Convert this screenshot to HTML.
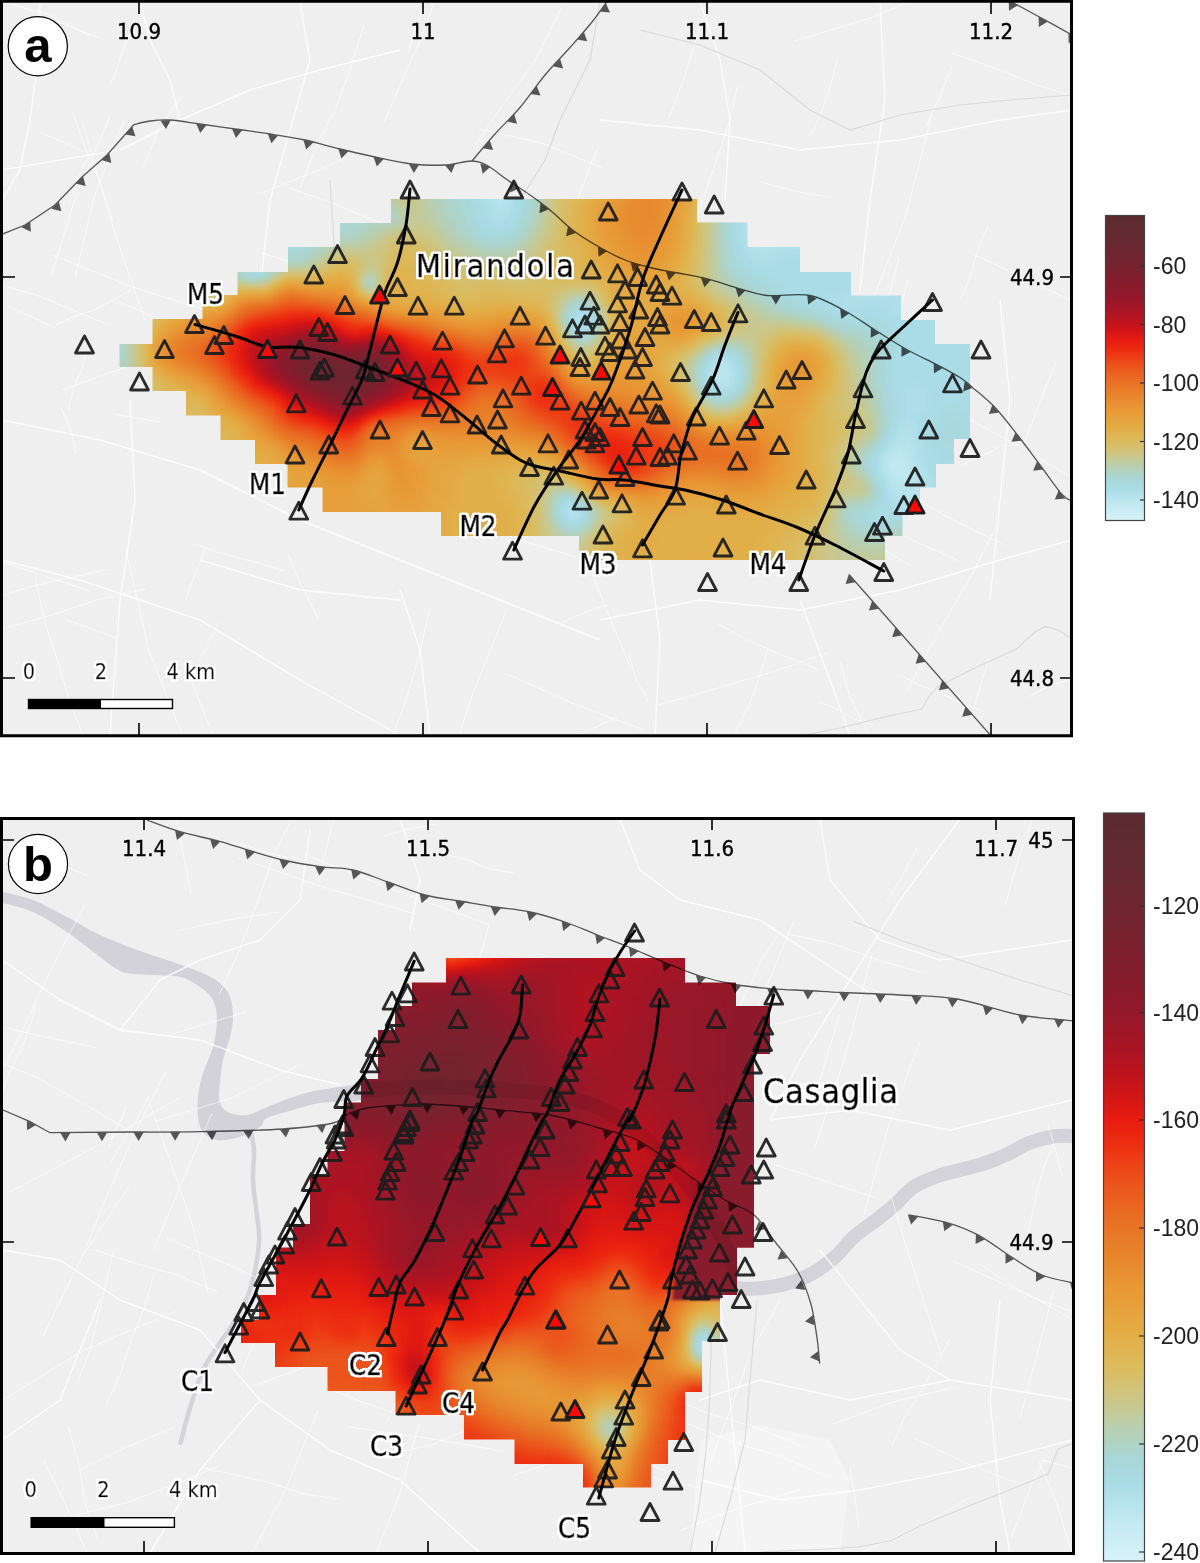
<!DOCTYPE html>
<html lang="en"><head><meta charset="utf-8"><title>Figure: Mirandola and Casaglia maps</title>
<style>html,body{margin:0;padding:0;background:#fff}svg{display:block}.m{font-family:"DejaVu Sans Condensed","Liberation Sans",sans-serif;fill:#000}.h{fill:#fff;stroke:#fff;stroke-width:5px;stroke-linejoin:round}.b{stroke:#000;stroke-width:.7px}.t{stroke:#000;stroke-width:.35px}.c{font-family:"Liberation Sans",sans-serif;fill:#222}.p{font-family:"Liberation Sans",sans-serif;font-weight:bold;fill:#000}</style></head><body>
<svg width="1200" height="1563" viewBox="0 0 1200 1563">
<defs>
<filter id="cm" filterUnits="userSpaceOnUse" x="0" y="0" width="1200" height="1563" color-interpolation-filters="sRGB"><feGaussianBlur stdDeviation="6"/><feComponentTransfer><feFuncR type="table" tableValues="0.847 0.808 0.769 0.718 0.667 0.664 0.678 0.718 0.769 0.818 0.850 0.872 0.888 0.899 0.907 0.910 0.910 0.911 0.913 0.917 0.923 0.928 0.933 0.919 0.882 0.814 0.750 0.687 0.637 0.590 0.557 0.527 0.501 0.478 0.456 0.435 0.416 0.396 0.381 0.367 0.353"/><feFuncG type="table" tableValues="0.949 0.933 0.918 0.892 0.867 0.850 0.832 0.815 0.792 0.768 0.743 0.713 0.680 0.648 0.616 0.579 0.538 0.495 0.449 0.396 0.337 0.270 0.196 0.142 0.102 0.082 0.078 0.078 0.085 0.093 0.102 0.112 0.121 0.129 0.138 0.146 0.155 0.163 0.166 0.167 0.169"/><feFuncB type="table" tableValues="0.973 0.961 0.949 0.929 0.910 0.866 0.800 0.702 0.596 0.491 0.398 0.330 0.279 0.245 0.221 0.200 0.180 0.163 0.147 0.129 0.110 0.090 0.071 0.066 0.071 0.090 0.113 0.136 0.149 0.159 0.167 0.175 0.182 0.184 0.187 0.189 0.190 0.192 0.189 0.185 0.180"/><feFuncA type="linear" slope="0" intercept="1"/></feComponentTransfer></filter>
<linearGradient id="cb" x1="0" y1="0" x2="0" y2="1"><stop offset="0.000" stop-color="#5a2b2e"/><stop offset="0.070" stop-color="#642a31"/><stop offset="0.140" stop-color="#722430"/><stop offset="0.210" stop-color="#821e2e"/><stop offset="0.270" stop-color="#941829"/><stop offset="0.320" stop-color="#ac1424"/><stop offset="0.370" stop-color="#cc1418"/><stop offset="0.410" stop-color="#e81c10"/><stop offset="0.450" stop-color="#ee3212"/><stop offset="0.490" stop-color="#ec501a"/><stop offset="0.540" stop-color="#e96e24"/><stop offset="0.590" stop-color="#e8852c"/><stop offset="0.640" stop-color="#e89a36"/><stop offset="0.690" stop-color="#e4aa42"/><stop offset="0.740" stop-color="#dcbb5c"/><stop offset="0.780" stop-color="#cfc582"/><stop offset="0.820" stop-color="#b9cfae"/><stop offset="0.860" stop-color="#a9d6d6"/><stop offset="0.900" stop-color="#aadde8"/><stop offset="0.950" stop-color="#c4eaf2"/><stop offset="1.000" stop-color="#d8f2f8"/></linearGradient>
<filter id="cm2" filterUnits="userSpaceOnUse" x="0" y="0" width="1200" height="1563" color-interpolation-filters="sRGB"><feGaussianBlur stdDeviation="1.5"/><feComponentTransfer><feFuncR type="table" tableValues="0.847 0.808 0.769 0.718 0.667 0.664 0.678 0.718 0.769 0.818 0.850 0.872 0.888 0.899 0.907 0.910 0.910 0.911 0.913 0.917 0.923 0.928 0.933 0.919 0.882 0.814 0.750 0.687 0.637 0.590 0.557 0.527 0.501 0.478 0.456 0.435 0.416 0.396 0.381 0.367 0.353"/><feFuncG type="table" tableValues="0.949 0.933 0.918 0.892 0.867 0.850 0.832 0.815 0.792 0.768 0.743 0.713 0.680 0.648 0.616 0.579 0.538 0.495 0.449 0.396 0.337 0.270 0.196 0.142 0.102 0.082 0.078 0.078 0.085 0.093 0.102 0.112 0.121 0.129 0.138 0.146 0.155 0.163 0.166 0.167 0.169"/><feFuncB type="table" tableValues="0.973 0.961 0.949 0.929 0.910 0.866 0.800 0.702 0.596 0.491 0.398 0.330 0.279 0.245 0.221 0.200 0.180 0.163 0.147 0.129 0.110 0.090 0.071 0.066 0.071 0.090 0.113 0.136 0.149 0.159 0.167 0.175 0.182 0.184 0.187 0.189 0.190 0.192 0.189 0.185 0.180"/></feComponentTransfer></filter>
<filter id="hl" x="-8%" y="-25%" width="116%" height="150%"><feMorphology in="SourceAlpha" operator="dilate" radius="2" result="d"/><feGaussianBlur in="d" stdDeviation=".7" result="e"/><feComponentTransfer in="e" result="f"><feFuncA type="linear" slope="4" intercept="-.6"/></feComponentTransfer><feFlood flood-color="#fff"/><feComposite in2="f" operator="in" result="w"/><feMerge><feMergeNode in="w"/><feMergeNode in="SourceGraphic"/></feMerge></filter>
<clipPath id="ca"><polygon points="119.5,344 152.5,344 152.5,319 202.5,319 202.5,295 237.5,295 237.5,272 288,272 288,247 340,247 340,223 391,223 391,199 697,199 697,222.5 747.5,222.5 747.5,247 800,247 800,272 851,272 851,295.5 901,295.5 901,320 935,320 935,344 970,344 970,439 954,439 954,464 936,464 936,487.5 920,487.5 920,512 902.5,512 902.5,536 885,536 885,560 579,560 579,536 441,536 441,512 322.5,512 322.5,487.5 287.5,487.5 287.5,464 255,464 255,440 220.5,440 220.5,415.5 186,415.5 186,391 152.5,391 152.5,367 119.5,367"/></clipPath>
<clipPath id="cpb"><polygon points="446,958 685,958 685,982.5 736,982.5 736,1006 770,1006 770,1054 754,1054 754,1247.5 737,1247.5 737,1295 720,1295 720,1341 702,1341 702,1392 685,1392 685,1440 668,1440 668,1464 651,1464 651,1487.5 583,1487.5 583,1464 514.5,1464 514.5,1439.5 464,1439.5 464,1415 395.5,1415 395.5,1391 327.5,1391 327.5,1367 275,1367 275,1343 241,1343 241,1320 259,1320 259,1295 276,1295 276,1247.5 293,1247.5 293,1224 310,1224 310,1175 327.5,1175 327.5,1151 344.5,1151 344.5,1102.5 361,1102.5 361,1079 378,1079 378,1030 395,1030 395,1006 412,1006 412,982.5 446,982.5"/></clipPath>
<clipPath id="fa"><rect x="2" y="2" width="1070" height="733"/></clipPath>
<clipPath id="fb"><rect x="2" y="819" width="1072" height="734"/></clipPath>
</defs>
<rect width="1200" height="1563" fill="#fff"/>
<g id="panel-a">
<rect x="2" y="2" width="1070" height="733" fill="#efeff0"/>
<g clip-path="url(#fa)">
<path d="M384 122L422 36L453 -52M56 325L75 316L94 310L113 300L131 290M61 408L71 430L76 454M558 487L566 453L579 420L591 387L602 353M544 475L575 465L605 454L636 445L667 435M186 600L192 582L199 565L205 548M68 410L74 387L83 366L89 343M562 494L584 553L607 611L631 669M75 278L94 197L124 121M706 248L720 288L728 329L742 369L753 410M810 137L822 111L831 84L838 57M907 691L937 634L970 578L1000 520M143 167L159 129L182 95M-44 292L-18 299L7 306L32 317L56 328M35 575L44 619L58 662L71 705L88 747M186 667L208 723L234 777M505 673L574 704L644 730M967 418L1022 448L1076 480M300 188L316 147L336 108L351 67L364 25M658 705L715 689L772 672L827 653M960 300L968 282L974 263L980 244L988 226M841 527L859 536L877 545L894 556L912 566M721 759L735 733L749 706L759 677L768 649M262 316L311 340L362 360L411 381L460 405M52 255L130 286L211 312M840 662L850 697L867 731L882 765M558 321L595 335L632 350L669 363L707 373M-56 616L25 588L108 569M199 662L209 642L219 622M561 623L572 618L584 613L596 608L608 605M926 128L932 112L940 97L946 81L952 66M442 512L486 528L530 543L575 557M41 133L63 142L85 152M594 353L626 361L658 371L689 383L720 393M900 675L919 685L940 693L959 702L979 710M69 203L74 190L78 178L84 166L90 154M125 546L149 651L188 750M688 245L701 205L715 165L728 126L738 85M590 346L593 332L596 318L601 304M819 702L837 709L854 719L873 725M816 452L882 477L942 514L1004 545M288 554L302 587L319 620M67 620L92 629L116 638M959 466L970 461L981 456L992 451L1002 445M640 374L663 385L687 395L710 406M-18 -11L41 16L103 39M857 380L876 341L888 300L899 258M820 493L866 517L912 540L959 561M761 182L794 191L828 197M260 194L288 182L317 171L345 158M1025 441L1035 415L1045 389L1056 363M478 129L542 143L602 168M2 2L48 14L90 36M718 624L750 641L784 656L818 669M-46 646L1 629L49 616L97 600L146 589M795 41L834 29L873 17L911 1L947 -16M973 254L1028 280L1083 306M275 312L278 325L284 337L289 349L293 362M51 277L76 195L110 116M378 428L413 354L449 281M279 452L318 467L358 476L398 485L438 496M202 284L225 335L247 386L273 436M1029 697L1041 690L1055 684L1068 680M974 709L981 683L989 658M853 471L865 423L878 374L896 328L908 279M483 319L528 331L574 343M-85 516L-0 561L90 591M261 253L288 261L312 275L337 287L361 300M868 312L906 215L932 114M374 798L386 750L405 704L419 656L430 608M700 313L742 327L785 336L826 350L869 360M289 188L330 202L370 219L411 233L451 250M669 118L684 78L697 37L710 -5M574 214L579 197L585 180L591 163L599 147M381 281L424 295L464 314L506 330M62 390L134 364L210 352M442 790L471 698L507 609M475 146L504 103L535 61L558 15L579 -33M952 53L997 69L1040 86L1085 100L1130 115M114 414L125 416L137 418L148 420L160 422M82 121L111 221L145 321M537 752L564 740L592 729L619 716M-39 274L36 295L109 325M73 113L86 150L101 185L113 222M409 50L415 28L424 6L431 -16L441 -37M195 544L217 552L239 558L262 564L284 571M629 655L636 679L648 701M120 302L172 325L221 350L272 375M683 446L696 407L706 367L717 327M110 85L117 69L122 51L130 35" fill="none" stroke="#fff" stroke-width="1" opacity=".6" stroke-linejoin="round"/>
<g fill="none" stroke="#fff" stroke-width="1.4" stroke-linecap="round" stroke-linejoin="round" opacity=".8">
<path d="M40.0 2.0L38.0 60.0L30.0 120.0L20.0 170.0L2.0 200.0"/>
<path d="M140.0 2.0L150.0 40.0L170.0 80.0L180.0 120.0"/>
<path d="M2.0 170.0L60.0 160.0L120.0 150.0L180.0 120.0L250.0 90.0L320.0 70.0L400.0 50.0"/>
<path d="M300.0 2.0L310.0 60.0L290.0 130.0L270.0 200.0L260.0 290.0"/>
<path d="M2.0 420.0L100.0 440.0L200.0 470.0L300.0 520.0L400.0 560.0L500.0 600.0L600.0 640.0"/>
<path d="M130.0 400.0L135.0 500.0L120.0 600.0L110.0 735.0"/>
<path d="M400.0 590.0L420.0 650.0L430.0 735.0"/>
<path d="M700.0 2.0L720.0 60.0L730.0 120.0L725.0 200.0"/>
<path d="M600.0 120.0L700.0 130.0L800.0 150.0L900.0 140.0L1000.0 120.0L1072.0 110.0"/>
<path d="M880.0 2.0L885.0 100.0L870.0 200.0L860.0 290.0"/>
<path d="M600.0 620.0L700.0 600.0L800.0 610.0L900.0 590.0L1000.0 560.0L1072.0 540.0"/>
<path d="M1000.0 300.0L1010.0 400.0L1000.0 500.0L990.0 600.0"/>
<path d="M200.0 560.0L300.0 590.0L400.0 600.0"/>
<path d="M2.0 560.0L80.0 580.0L200.0 620.0L300.0 680.0L400.0 735.0"/>
<path d="M650.0 560.0L660.0 640.0L655.0 735.0"/>
<path d="M800.0 600.0L830.0 680.0L850.0 735.0"/>
</g>
<g fill="none" stroke="#d9d9db" stroke-width="1.2">
<path d="M800.0 736.0L840.0 728.0L880.0 718.0L921.7 709.0L930.0 695.0L937.5 686.7L975.0 668.0L1016.7 648.7L1035.0 632.0L1045.0 626.5L1058.0 630.0L1072.0 639.0"/>
<path d="M600.0 2.0L590.0 60.0L560.0 120.0L545.0 160.0L520.0 200.0"/>
<path d="M640.0 30.0L700.0 45.0L760.0 70.0L810.0 110.0L850.0 130.0L900.0 115.0L960.0 105.0L1010.0 100.0L1072.0 95.0"/>
<path d="M330.0 180.0L335.0 260.0L330.0 330.0"/>
</g>
<g clip-path="url(#ca)"><g filter="url(#cm)">
<path fill="#0d0d0d" d="M715 365h11v11h-11zM885 455h21v11h-21zM895 465h11v11h-11z"/><path fill="#0f0f0f" d="M575 315h11v11h-11zM715 355h11v11h-11zM715 375h11v11h-11zM895 445h11v11h-11zM885 465h11v11h-11zM905 465h11v11h-11zM895 475h21v11h-21zM565 505h11v11h-11z"/><path fill="#121212" d="M485 175h21v11h-21zM495 185h11v11h-11zM495 195h11v11h-11zM765 215h11v11h-11zM755 225h21v11h-21zM95 315h11v11h-11zM585 315h11v11h-11zM95 325h11v11h-11zM725 365h11v11h-11zM725 375h11v11h-11zM885 445h11v11h-11zM905 445h11v11h-11zM905 455h11v11h-11zM885 475h11v11h-11zM895 485h31v11h-31zM905 495h21v11h-21zM915 505h11v11h-11z"/><path fill="#141414" d="M485 185h11v11h-11zM505 185h11v11h-11zM485 195h11v11h-11zM505 195h11v11h-11zM495 205h11v11h-11zM755 205h21v11h-21zM745 215h21v11h-21zM745 225h11v11h-11zM775 225h31v11h-31zM745 235h41v11h-41zM755 245h21v11h-21zM885 275h41v11h-41zM575 325h11v11h-11zM95 335h11v11h-11zM725 355h11v11h-11zM705 365h11v11h-11zM705 375h11v11h-11zM715 385h11v11h-11zM895 425h21v11h-21zM895 435h21v11h-21zM875 455h11v11h-11zM875 465h11v11h-11zM915 465h11v11h-11zM915 475h11v11h-11zM885 485h11v11h-11zM895 495h11v11h-11zM925 495h11v11h-11zM575 505h11v11h-11zM905 505h11v11h-11zM925 505h11v11h-11zM565 515h11v11h-11z"/><path fill="#171717" d="M475 175h11v11h-11zM505 175h11v11h-11zM475 185h11v11h-11zM755 195h21v11h-21zM485 205h11v11h-11zM505 205h11v11h-11zM745 205h11v11h-11zM485 215h21v11h-21zM735 225h11v11h-11zM805 225h21v11h-21zM735 235h11v11h-11zM785 235h41v11h-41zM745 245h11v11h-11zM775 245h101v11h-101zM745 255h31v11h-31zM845 255h31v11h-31zM845 265h31v11h-31zM855 275h31v11h-31zM845 285h81v11h-81zM825 295h131v11h-131zM575 305h11v11h-11zM835 305h21v11h-21zM885 305h71v11h-71zM105 315h11v11h-11zM965 315h31v11h-31zM975 325h21v11h-21zM985 335h11v11h-11zM95 345h11v11h-11zM985 345h11v11h-11zM95 355h11v11h-11zM985 355h11v11h-11zM985 365h11v11h-11zM985 375h11v11h-11zM725 385h11v11h-11zM905 385h21v11h-21zM985 385h11v11h-11zM905 395h21v11h-21zM985 395h11v11h-11zM905 405h21v11h-21zM985 405h11v11h-11zM895 415h21v11h-21zM985 415h11v11h-11zM985 425h11v11h-11zM885 435h11v11h-11zM915 435h11v11h-11zM975 435h21v11h-21zM915 445h11v11h-11zM975 445h21v11h-21zM915 455h11v11h-11zM975 455h21v11h-21zM925 475h11v11h-11zM925 485h11v11h-11zM565 495h11v11h-11zM885 495h11v11h-11zM935 495h11v11h-11zM895 505h11v11h-11zM935 505h21v11h-21zM575 515h11v11h-11zM875 515h11v11h-11zM915 515h31v11h-31z"/><path fill="#1a1a1a" d="M465 175h11v11h-11zM475 195h11v11h-11zM745 195h11v11h-11zM505 215h11v11h-11zM735 215h11v11h-11zM495 225h11v11h-11zM255 245h11v11h-11zM735 245h11v11h-11zM245 255h21v11h-21zM775 255h71v11h-71zM245 265h21v11h-21zM755 265h91v11h-91zM365 275h11v11h-11zM775 275h81v11h-81zM785 285h61v11h-61zM805 295h21v11h-21zM825 305h11v11h-11zM855 305h31v11h-31zM565 315h11v11h-11zM885 315h81v11h-81zM105 325h11v11h-11zM585 325h11v11h-11zM895 325h81v11h-81zM905 335h81v11h-81zM895 345h91v11h-91zM705 355h11v11h-11zM895 355h91v11h-91zM95 365h11v11h-11zM895 365h91v11h-91zM895 375h91v11h-91zM895 385h11v11h-11zM925 385h61v11h-61zM895 395h11v11h-11zM925 395h21v11h-21zM955 395h31v11h-31zM895 405h11v11h-11zM925 405h11v11h-11zM965 405h21v11h-21zM915 415h11v11h-11zM975 415h11v11h-11zM915 425h11v11h-11zM975 425h11v11h-11zM965 435h11v11h-11zM875 445h11v11h-11zM925 445h11v11h-11zM965 445h11v11h-11zM925 455h11v11h-11zM965 455h11v11h-11zM925 465h11v11h-11zM965 465h11v11h-11zM875 475h11v11h-11zM935 475h11v11h-11zM955 475h21v11h-21zM935 485h21v11h-21zM945 495h11v11h-11zM555 505h11v11h-11zM875 505h21v11h-21zM905 515h11v11h-11z"/><path fill="#1c1c1c" d="M515 175h11v11h-11zM465 185h11v11h-11zM515 185h11v11h-11zM515 195h11v11h-11zM475 205h11v11h-11zM515 205h11v11h-11zM735 205h11v11h-11zM475 215h11v11h-11zM485 225h11v11h-11zM505 225h11v11h-11zM245 245h11v11h-11zM265 245h11v11h-11zM265 255h11v11h-11zM735 255h11v11h-11zM745 265h11v11h-11zM765 275h11v11h-11zM775 285h11v11h-11zM795 295h11v11h-11zM585 305h11v11h-11zM815 305h11v11h-11zM835 315h51v11h-51zM885 325h11v11h-11zM105 335h11v11h-11zM895 335h11v11h-11zM105 345h11v11h-11zM885 355h11v11h-11zM735 365h11v11h-11zM885 365h11v11h-11zM95 375h11v11h-11zM735 375h11v11h-11zM885 375h11v11h-11zM95 385h11v11h-11zM705 385h11v11h-11zM885 385h11v11h-11zM945 395h11v11h-11zM935 405h31v11h-31zM925 415h21v11h-21zM965 415h11v11h-11zM885 425h11v11h-11zM925 425h11v11h-11zM965 425h11v11h-11zM925 435h11v11h-11zM935 445h11v11h-11zM955 445h11v11h-11zM935 455h31v11h-31zM935 465h31v11h-31zM945 475h11v11h-11zM875 495h11v11h-11zM865 515h11v11h-11zM885 515h11v11h-11zM925 525h21v11h-21z"/><path fill="#1f1f1f" d="M455 175h11v11h-11zM465 195h11v11h-11zM735 195h11v11h-11zM515 215h11v11h-11zM725 215h11v11h-11zM475 225h11v11h-11zM725 225h11v11h-11zM265 235h11v11h-11zM725 235h11v11h-11zM235 245h11v11h-11zM735 265h11v11h-11zM755 275h11v11h-11zM765 285h11v11h-11zM125 295h11v11h-11zM785 295h11v11h-11zM805 305h11v11h-11zM115 315h11v11h-11zM565 325h11v11h-11zM875 325h11v11h-11zM885 335h11v11h-11zM715 345h21v11h-21zM885 345h11v11h-11zM105 355h11v11h-11zM735 355h11v11h-11zM105 365h11v11h-11zM695 365h11v11h-11zM885 395h11v11h-11zM885 405h11v11h-11zM885 415h11v11h-11zM945 415h21v11h-21zM935 425h31v11h-31zM935 435h31v11h-31zM945 445h11v11h-11zM865 455h11v11h-11zM865 465h11v11h-11zM875 485h11v11h-11zM555 495h11v11h-11zM865 505h11v11h-11zM555 515h11v11h-11zM875 525h11v11h-11zM915 525h11v11h-11z"/><path fill="#212121" d="M455 185h11v11h-11zM455 195h11v11h-11zM465 205h11v11h-11zM725 205h11v11h-11zM465 215h11v11h-11zM265 225h11v11h-11zM515 225h11v11h-11zM275 235h11v11h-11zM485 235h21v11h-21zM215 245h21v11h-21zM275 245h31v11h-31zM725 245h11v11h-11zM235 255h11v11h-11zM275 255h11v11h-11zM725 255h11v11h-11zM265 265h11v11h-11zM245 275h11v11h-11zM745 275h11v11h-11zM365 285h11v11h-11zM755 285h11v11h-11zM775 295h11v11h-11zM565 305h11v11h-11zM795 305h11v11h-11zM825 315h11v11h-11zM115 325h11v11h-11zM865 325h11v11h-11zM875 335h11v11h-11zM875 355h11v11h-11zM875 365h11v11h-11zM105 375h11v11h-11zM695 375h11v11h-11zM875 375h11v11h-11zM105 385h11v11h-11zM735 385h11v11h-11zM715 395h11v11h-11zM845 505h21v11h-21zM855 515h11v11h-11zM895 515h11v11h-11zM865 525h11v11h-11z"/><path fill="#242424" d="M445 175h11v11h-11zM525 175h11v11h-11zM445 185h11v11h-11zM525 185h11v11h-11zM525 195h11v11h-11zM355 205h41v11h-41zM455 205h11v11h-11zM525 205h11v11h-11zM345 215h21v11h-21zM275 225h51v11h-51zM335 225h21v11h-21zM465 225h11v11h-11zM285 235h31v11h-31zM475 235h11v11h-11zM505 235h11v11h-11zM305 245h11v11h-11zM215 255h11v11h-11zM285 255h21v11h-21zM235 265h11v11h-11zM725 265h11v11h-11zM255 275h11v11h-11zM735 275h11v11h-11zM765 295h11v11h-11zM125 305h11v11h-11zM785 305h11v11h-11zM845 325h21v11h-21zM115 335h11v11h-11zM575 335h11v11h-11zM115 345h11v11h-11zM875 345h11v11h-11zM875 385h11v11h-11zM725 395h11v11h-11zM875 435h11v11h-11zM865 445h11v11h-11zM575 495h11v11h-11zM585 505h11v11h-11zM585 515h11v11h-11zM845 515h11v11h-11zM565 525h21v11h-21zM885 525h11v11h-11zM905 525h11v11h-11z"/><path fill="#262626" d="M435 175h11v11h-11zM315 195h61v11h-61zM445 195h11v11h-11zM725 195h11v11h-11zM315 205h41v11h-41zM445 205h11v11h-11zM315 215h31v11h-31zM365 215h31v11h-31zM455 215h11v11h-11zM525 215h11v11h-11zM325 225h11v11h-11zM355 225h11v11h-11zM455 225h11v11h-11zM315 235h21v11h-21zM465 235h11v11h-11zM225 255h11v11h-11zM745 285h11v11h-11zM135 295h11v11h-11zM575 295h11v11h-11zM775 305h11v11h-11zM595 315h11v11h-11zM815 315h11v11h-11zM835 325h11v11h-11zM585 335h11v11h-11zM865 335h11v11h-11zM705 345h11v11h-11zM735 345h11v11h-11zM115 355h11v11h-11zM695 355h11v11h-11zM115 365h11v11h-11zM115 375h11v11h-11zM695 385h11v11h-11zM705 395h11v11h-11zM875 395h11v11h-11zM875 405h11v11h-11zM855 455h11v11h-11zM865 495h11v11h-11zM855 525h11v11h-11zM915 535h11v11h-11z"/><path fill="#292929" d="M365 185h11v11h-11zM435 185h11v11h-11zM375 195h11v11h-11zM435 195h11v11h-11zM445 215h11v11h-11zM715 215h11v11h-11zM525 225h11v11h-11zM715 225h11v11h-11zM335 235h21v11h-21zM515 235h11v11h-11zM715 235h11v11h-11zM315 245h11v11h-11zM485 245h21v11h-21zM715 245h11v11h-11zM305 255h11v11h-11zM215 265h21v11h-21zM175 275h41v11h-41zM725 275h11v11h-11zM735 285h11v11h-11zM755 295h11v11h-11zM125 315h11v11h-11zM805 315h11v11h-11zM855 335h11v11h-11zM865 345h11v11h-11zM865 355h11v11h-11zM865 365h11v11h-11zM865 375h11v11h-11zM115 385h11v11h-11zM875 415h11v11h-11zM875 425h11v11h-11zM855 465h11v11h-11zM865 475h11v11h-11zM845 525h11v11h-11zM875 535h11v11h-11zM905 535h11v11h-11zM915 545h11v11h-11z"/><path fill="#2b2b2b" d="M365 175h11v11h-11zM425 175h11v11h-11zM535 175h11v11h-11zM375 185h11v11h-11zM535 195h11v11h-11zM435 205h11v11h-11zM535 205h11v11h-11zM715 205h11v11h-11zM395 215h11v11h-11zM435 215h11v11h-11zM365 225h11v11h-11zM445 225h11v11h-11zM355 235h11v11h-11zM455 235h11v11h-11zM475 245h11v11h-11zM505 245h11v11h-11zM715 255h11v11h-11zM275 265h11v11h-11zM715 265h11v11h-11zM215 275h11v11h-11zM235 275h11v11h-11zM565 295h11v11h-11zM585 295h11v11h-11zM745 295h11v11h-11zM135 305h11v11h-11zM765 305h11v11h-11zM795 315h11v11h-11zM125 325h11v11h-11zM825 325h11v11h-11zM845 335h11v11h-11zM855 345h11v11h-11zM745 355h11v11h-11zM745 365h11v11h-11zM745 375h11v11h-11zM865 385h11v11h-11zM735 395h11v11h-11zM855 445h11v11h-11zM555 485h21v11h-21zM845 495h21v11h-21zM545 505h11v11h-11zM835 505h11v11h-11zM835 515h11v11h-11zM555 525h11v11h-11zM895 525h11v11h-11zM855 535h21v11h-21zM885 535h11v11h-11z"/><path fill="#2e2e2e" d="M375 175h11v11h-11zM425 185h11v11h-11zM535 185h11v11h-11zM385 195h11v11h-11zM425 195h11v11h-11zM715 195h11v11h-11zM395 205h11v11h-11zM425 205h11v11h-11zM535 215h11v11h-11zM375 225h11v11h-11zM445 235h11v11h-11zM525 235h11v11h-11zM325 245h11v11h-11zM465 245h11v11h-11zM515 245h11v11h-11zM265 275h11v11h-11zM715 275h11v11h-11zM205 285h11v11h-11zM725 285h11v11h-11zM145 295h11v11h-11zM595 305h11v11h-11zM755 305h11v11h-11zM555 315h11v11h-11zM785 315h11v11h-11zM595 325h11v11h-11zM125 335h11v11h-11zM565 335h11v11h-11zM125 345h11v11h-11zM745 345h11v11h-11zM125 355h11v11h-11zM855 355h11v11h-11zM125 365h11v11h-11zM685 365h11v11h-11zM855 365h11v11h-11zM125 375h11v11h-11zM125 385h11v11h-11zM125 395h11v11h-11zM865 395h11v11h-11zM865 435h11v11h-11zM865 485h11v11h-11zM545 495h11v11h-11zM545 515h11v11h-11zM835 525h11v11h-11zM565 535h11v11h-11zM845 535h11v11h-11zM895 535h11v11h-11zM905 545h11v11h-11z"/><path fill="#303030" d="M385 175h11v11h-11zM415 175h11v11h-11zM385 185h11v11h-11zM715 185h11v11h-11zM405 215h11v11h-11zM425 215h11v11h-11zM385 225h11v11h-11zM435 225h11v11h-11zM535 225h11v11h-11zM365 235h11v11h-11zM455 245h11v11h-11zM315 255h11v11h-11zM475 255h41v11h-41zM225 275h11v11h-11zM175 285h31v11h-31zM715 285h11v11h-11zM735 295h11v11h-11zM555 305h11v11h-11zM745 305h11v11h-11zM765 315h21v11h-21zM725 335h21v11h-21zM835 335h11v11h-11zM845 345h11v11h-11zM685 375h11v11h-11zM855 375h11v11h-11zM745 385h11v11h-11zM855 385h11v11h-11zM695 395h11v11h-11zM125 405h11v11h-11zM715 405h11v11h-11zM865 405h11v11h-11zM845 455h11v11h-11zM845 465h11v11h-11zM835 495h11v11h-11zM595 505h11v11h-11zM585 525h11v11h-11zM555 535h11v11h-11zM575 535h11v11h-11zM835 535h11v11h-11zM845 545h61v11h-61z"/><path fill="#333333" d="M395 175h21v11h-21zM545 175h11v11h-11zM415 185h11v11h-11zM415 195h11v11h-11zM405 205h21v11h-21zM415 215h11v11h-11zM705 215h11v11h-11zM395 225h11v11h-11zM425 225h11v11h-11zM705 225h11v11h-11zM375 235h11v11h-11zM435 235h11v11h-11zM705 235h11v11h-11zM335 245h31v11h-31zM445 245h11v11h-11zM525 245h11v11h-11zM705 245h11v11h-11zM465 255h11v11h-11zM515 255h11v11h-11zM705 255h11v11h-11zM285 265h21v11h-21zM365 265h11v11h-11zM705 265h11v11h-11zM355 275h11v11h-11zM705 275h11v11h-11zM215 285h11v11h-11zM155 295h11v11h-11zM135 315h11v11h-11zM755 315h11v11h-11zM815 325h11v11h-11zM715 335h11v11h-11zM745 335h11v11h-11zM575 345h11v11h-11zM695 345h11v11h-11zM685 355h11v11h-11zM845 355h11v11h-11zM135 395h11v11h-11zM855 395h11v11h-11zM705 405h11v11h-11zM725 405h11v11h-11zM865 415h11v11h-11zM855 435h11v11h-11zM845 445h11v11h-11zM855 475h11v11h-11zM545 485h11v11h-11zM585 495h11v11h-11zM595 515h11v11h-11zM545 525h11v11h-11zM555 545h21v11h-21zM835 545h11v11h-11zM555 555h21v11h-21zM835 555h71v11h-71zM855 565h51v11h-51zM895 575h11v11h-11z"/><path fill="#363636" d="M715 175h11v11h-11zM395 185h21v11h-21zM545 185h11v11h-11zM405 195h11v11h-11zM545 195h11v11h-11zM545 205h11v11h-11zM705 205h11v11h-11zM545 215h11v11h-11zM405 225h21v11h-21zM535 235h11v11h-11zM365 245h11v11h-11zM325 255h11v11h-11zM365 255h11v11h-11zM455 255h11v11h-11zM305 265h11v11h-11zM375 265h11v11h-11zM575 285h11v11h-11zM705 285h11v11h-11zM555 295h11v11h-11zM725 295h11v11h-11zM145 305h11v11h-11zM735 305h11v11h-11zM745 315h11v11h-11zM555 325h11v11h-11zM745 325h21v11h-21zM585 345h11v11h-11zM845 365h11v11h-11zM135 375h11v11h-11zM845 375h11v11h-11zM135 385h11v11h-11zM135 405h11v11h-11zM855 405h11v11h-11zM865 425h11v11h-11zM845 485h11v11h-11zM825 515h11v11h-11zM825 525h11v11h-11zM545 535h11v11h-11zM825 535h11v11h-11zM575 545h11v11h-11zM825 545h11v11h-11zM575 555h11v11h-11zM825 555h11v11h-11zM555 565h21v11h-21zM835 565h21v11h-21zM555 575h21v11h-21zM835 575h61v11h-61z"/><path fill="#383838" d="M395 195h11v11h-11zM705 195h11v11h-11zM545 225h11v11h-11zM425 235h11v11h-11zM375 245h11v11h-11zM435 245h11v11h-11zM535 245h11v11h-11zM375 255h11v11h-11zM445 255h11v11h-11zM525 255h11v11h-11zM465 265h61v11h-61zM375 275h11v11h-11zM565 285h11v11h-11zM585 285h11v11h-11zM165 295h11v11h-11zM205 295h11v11h-11zM595 295h11v11h-11zM135 325h11v11h-11zM735 325h11v11h-11zM765 325h11v11h-11zM795 325h21v11h-21zM595 335h11v11h-11zM755 335h11v11h-11zM825 335h11v11h-11zM755 345h11v11h-11zM835 345h11v11h-11zM755 355h11v11h-11zM135 365h11v11h-11zM685 385h11v11h-11zM845 385h11v11h-11zM845 395h11v11h-11zM855 415h11v11h-11zM855 425h11v11h-11zM845 435h11v11h-11zM835 455h11v11h-11zM845 475h11v11h-11zM575 485h11v11h-11zM835 485h11v11h-11zM855 485h11v11h-11zM825 505h11v11h-11zM545 545h11v11h-11zM815 545h11v11h-11zM815 555h11v11h-11zM575 565h11v11h-11zM815 565h21v11h-21zM575 575h11v11h-11zM825 575h11v11h-11z"/><path fill="#3b3b3b" d="M555 175h11v11h-11zM555 185h11v11h-11zM705 185h11v11h-11zM385 235h11v11h-11zM415 235h11v11h-11zM545 235h11v11h-11zM425 245h11v11h-11zM355 255h11v11h-11zM435 255h11v11h-11zM535 255h11v11h-11zM695 255h11v11h-11zM315 265h11v11h-11zM355 265h11v11h-11zM455 265h11v11h-11zM525 265h11v11h-11zM695 265h11v11h-11zM695 275h11v11h-11zM355 285h11v11h-11zM555 285h11v11h-11zM715 295h11v11h-11zM735 315h11v11h-11zM775 325h21v11h-21zM135 335h11v11h-11zM705 335h11v11h-11zM135 345h11v11h-11zM135 355h11v11h-11zM835 355h11v11h-11zM675 365h11v11h-11zM755 365h11v11h-11zM145 385h11v11h-11zM145 395h11v11h-11zM745 395h11v11h-11zM145 405h11v11h-11zM735 405h11v11h-11zM845 405h11v11h-11zM845 425h11v11h-11zM835 445h11v11h-11zM835 465h11v11h-11zM545 475h21v11h-21zM835 475h11v11h-11zM535 485h11v11h-11zM535 495h11v11h-11zM535 505h11v11h-11zM605 505h11v11h-11zM535 515h11v11h-11zM605 515h11v11h-11zM815 525h11v11h-11zM585 535h11v11h-11zM815 535h11v11h-11zM585 545h11v11h-11zM585 555h11v11h-11zM585 565h11v11h-11zM585 575h11v11h-11zM815 575h11v11h-11z"/><path fill="#3d3d3d" d="M705 175h11v11h-11zM555 195h11v11h-11zM555 205h11v11h-11zM555 215h11v11h-11zM695 215h11v11h-11zM555 225h11v11h-11zM695 225h11v11h-11zM395 235h21v11h-21zM695 235h11v11h-11zM385 245h11v11h-11zM545 245h11v11h-11zM695 245h11v11h-11zM335 255h11v11h-11zM445 265h11v11h-11zM535 265h11v11h-11zM455 275h21v11h-21zM495 275h41v11h-41zM225 285h11v11h-11zM375 285h11v11h-11zM175 295h31v11h-31zM545 295h11v11h-11zM155 305h11v11h-11zM725 305h11v11h-11zM145 315h11v11h-11zM725 325h11v11h-11zM765 335h11v11h-11zM565 345h11v11h-11zM685 345h11v11h-11zM675 355h11v11h-11zM835 365h11v11h-11zM145 375h11v11h-11zM755 375h11v11h-11zM835 375h11v11h-11zM835 385h11v11h-11zM835 395h11v11h-11zM835 405h11v11h-11zM845 415h11v11h-11zM835 435h11v11h-11zM535 475h11v11h-11zM825 495h11v11h-11zM815 515h11v11h-11zM535 525h11v11h-11zM595 525h11v11h-11zM535 535h11v11h-11zM805 535h11v11h-11zM535 545h11v11h-11zM805 545h11v11h-11zM805 555h11v11h-11zM805 565h11v11h-11zM805 575h11v11h-11z"/><path fill="#404040" d="M565 175h11v11h-11zM565 185h11v11h-11zM695 205h11v11h-11zM555 235h11v11h-11zM415 245h11v11h-11zM555 245h11v11h-11zM345 255h11v11h-11zM385 255h11v11h-11zM425 255h11v11h-11zM545 255h11v11h-11zM435 265h11v11h-11zM545 265h11v11h-11zM275 275h11v11h-11zM445 275h11v11h-11zM475 275h21v11h-21zM535 275h21v11h-21zM455 285h21v11h-21zM505 285h51v11h-51zM595 285h11v11h-11zM695 285h11v11h-11zM215 295h11v11h-11zM705 295h11v11h-11zM545 305h11v11h-11zM605 315h11v11h-11zM725 315h11v11h-11zM815 335h11v11h-11zM675 375h11v11h-11zM155 385h11v11h-11zM755 385h11v11h-11zM155 395h11v11h-11zM825 395h11v11h-11zM155 405h11v11h-11zM695 405h11v11h-11zM825 405h11v11h-11zM835 415h11v11h-11zM835 425h11v11h-11zM825 445h11v11h-11zM825 455h11v11h-11zM825 465h11v11h-11zM525 475h11v11h-11zM825 475h11v11h-11zM525 485h11v11h-11zM825 485h11v11h-11zM525 495h11v11h-11zM615 505h11v11h-11zM615 515h11v11h-11zM805 525h11v11h-11zM795 545h11v11h-11zM595 555h11v11h-11zM795 555h11v11h-11zM595 565h11v11h-11zM795 565h11v11h-11zM595 575h11v11h-11zM795 575h11v11h-11z"/><path fill="#424242" d="M565 195h11v11h-11zM695 195h11v11h-11zM565 205h11v11h-11zM395 245h21v11h-21zM415 255h11v11h-11zM555 255h11v11h-11zM325 265h11v11h-11zM385 265h11v11h-11zM425 265h11v11h-11zM555 265h11v11h-11zM685 265h11v11h-11zM435 275h11v11h-11zM555 275h41v11h-41zM685 275h11v11h-11zM255 285h11v11h-11zM445 285h11v11h-11zM475 285h31v11h-31zM455 295h21v11h-21zM535 295h11v11h-11zM165 305h11v11h-11zM605 305h11v11h-11zM715 305h11v11h-11zM145 325h11v11h-11zM555 335h11v11h-11zM695 335h11v11h-11zM775 335h11v11h-11zM595 345h11v11h-11zM765 345h11v11h-11zM825 345h11v11h-11zM575 355h21v11h-21zM165 395h11v11h-11zM685 395h11v11h-11zM185 405h21v11h-21zM165 415h11v11h-11zM185 415h21v11h-21zM825 415h11v11h-11zM165 425h31v11h-31zM825 425h11v11h-11zM825 435h11v11h-11zM535 465h21v11h-21zM515 475h11v11h-11zM565 475h11v11h-11zM515 485h11v11h-11zM595 495h11v11h-11zM525 505h11v11h-11zM815 505h11v11h-11zM525 515h11v11h-11zM805 515h11v11h-11zM525 525h11v11h-11zM605 525h11v11h-11zM795 525h11v11h-11zM525 535h11v11h-11zM595 535h11v11h-11zM795 535h11v11h-11zM525 545h11v11h-11zM595 545h11v11h-11zM785 545h11v11h-11zM785 555h11v11h-11zM785 565h11v11h-11zM605 575h11v11h-11zM785 575h11v11h-11z"/><path fill="#454545" d="M575 175h11v11h-11zM695 175h11v11h-11zM575 185h11v11h-11zM695 185h11v11h-11zM565 215h11v11h-11zM565 225h11v11h-11zM565 235h11v11h-11zM565 245h11v11h-11zM685 245h11v11h-11zM395 255h21v11h-21zM565 255h11v11h-11zM685 255h11v11h-11zM345 265h11v11h-11zM415 265h11v11h-11zM565 265h11v11h-11zM425 275h11v11h-11zM235 285h21v11h-21zM435 285h11v11h-11zM685 285h11v11h-11zM445 295h11v11h-11zM475 295h11v11h-11zM505 295h31v11h-31zM155 315h11v11h-11zM545 315h11v11h-11zM605 325h11v11h-11zM715 325h11v11h-11zM805 335h11v11h-11zM675 345h11v11h-11zM665 355h11v11h-11zM145 365h11v11h-11zM665 365h11v11h-11zM155 375h11v11h-11zM165 385h11v11h-11zM825 385h11v11h-11zM175 395h31v11h-31zM165 405h21v11h-21zM815 405h11v11h-11zM175 415h11v11h-11zM205 415h11v11h-11zM715 415h11v11h-11zM815 415h11v11h-11zM195 425h31v11h-31zM815 425h11v11h-11zM195 435h31v11h-31zM815 435h11v11h-11zM195 445h11v11h-11zM815 445h11v11h-11zM195 455h11v11h-11zM815 455h11v11h-11zM515 465h21v11h-21zM505 475h11v11h-11zM815 485h11v11h-11zM515 495h11v11h-11zM815 495h11v11h-11zM795 515h11v11h-11zM785 525h11v11h-11zM785 535h11v11h-11zM515 545h11v11h-11zM775 545h11v11h-11zM605 555h11v11h-11zM775 555h11v11h-11zM605 565h11v11h-11zM775 565h11v11h-11zM615 575h11v11h-11zM775 575h11v11h-11z"/><path fill="#474747" d="M585 175h11v11h-11zM575 195h11v11h-11zM685 225h11v11h-11zM685 235h11v11h-11zM575 245h11v11h-11zM575 255h11v11h-11zM335 265h11v11h-11zM395 265h21v11h-21zM575 265h11v11h-11zM295 275h21v11h-21zM405 275h21v11h-21zM595 275h11v11h-11zM415 285h21v11h-21zM435 295h11v11h-11zM485 295h21v11h-21zM605 295h11v11h-11zM695 295h11v11h-11zM175 305h11v11h-11zM715 315h11v11h-11zM785 335h21v11h-21zM765 355h11v11h-11zM825 355h11v11h-11zM825 365h11v11h-11zM825 375h11v11h-11zM175 385h11v11h-11zM675 385h11v11h-11zM755 395h11v11h-11zM815 395h11v11h-11zM745 405h11v11h-11zM705 415h11v11h-11zM725 415h11v11h-11zM225 425h11v11h-11zM225 435h11v11h-11zM205 445h21v11h-21zM205 455h21v11h-21zM505 465h11v11h-11zM815 465h11v11h-11zM495 475h11v11h-11zM815 475h11v11h-11zM505 485h11v11h-11zM505 495h11v11h-11zM515 505h11v11h-11zM625 505h11v11h-11zM795 505h21v11h-21zM515 515h11v11h-11zM625 515h11v11h-11zM785 515h11v11h-11zM515 525h11v11h-11zM615 525h11v11h-11zM775 525h11v11h-11zM515 535h11v11h-11zM605 535h11v11h-11zM765 535h21v11h-21zM505 545h11v11h-11zM605 545h11v11h-11zM765 545h11v11h-11zM765 555h11v11h-11zM615 565h11v11h-11zM765 565h11v11h-11zM625 575h11v11h-11zM765 575h11v11h-11z"/><path fill="#4a4a4a" d="M585 185h11v11h-11zM575 205h11v11h-11zM685 205h11v11h-11zM575 215h11v11h-11zM685 215h11v11h-11zM575 225h11v11h-11zM575 235h11v11h-11zM585 265h11v11h-11zM675 265h11v11h-11zM315 275h11v11h-11zM345 275h11v11h-11zM385 275h21v11h-21zM675 275h11v11h-11zM265 285h11v11h-11zM395 285h21v11h-21zM605 285h11v11h-11zM675 285h11v11h-11zM395 295h21v11h-21zM425 295h11v11h-11zM455 305h31v11h-31zM535 305h11v11h-11zM705 305h11v11h-11zM705 325h11v11h-11zM145 335h11v11h-11zM605 335h11v11h-11zM665 345h11v11h-11zM815 345h11v11h-11zM145 355h11v11h-11zM565 355h11v11h-11zM595 355h11v11h-11zM765 365h11v11h-11zM165 375h11v11h-11zM665 375h11v11h-11zM765 375h11v11h-11zM815 385h11v11h-11zM205 405h11v11h-11zM215 415h11v11h-11zM805 415h11v11h-11zM235 425h11v11h-11zM805 425h11v11h-11zM805 435h11v11h-11zM225 445h11v11h-11zM805 445h11v11h-11zM225 455h11v11h-11zM525 455h11v11h-11zM805 455h11v11h-11zM495 465h11v11h-11zM555 465h11v11h-11zM805 465h11v11h-11zM485 475h11v11h-11zM805 475h11v11h-11zM495 485h11v11h-11zM805 485h11v11h-11zM495 495h11v11h-11zM605 495h11v11h-11zM795 495h21v11h-21zM505 505h11v11h-11zM775 505h21v11h-21zM505 515h11v11h-11zM765 515h21v11h-21zM505 525h11v11h-11zM625 525h11v11h-11zM675 525h21v11h-21zM755 525h21v11h-21zM505 535h11v11h-11zM615 535h11v11h-11zM755 535h11v11h-11zM485 545h21v11h-21zM615 545h11v11h-11zM755 545h11v11h-11zM615 555h21v11h-21zM755 555h11v11h-11zM625 565h21v11h-21zM745 565h21v11h-21zM635 575h21v11h-21zM745 575h21v11h-21z"/><path fill="#4c4c4c" d="M595 175h11v11h-11zM685 185h11v11h-11zM585 195h11v11h-11zM685 195h11v11h-11zM585 245h11v11h-11zM585 255h11v11h-11zM675 255h11v11h-11zM595 265h11v11h-11zM285 275h11v11h-11zM605 275h11v11h-11zM665 275h11v11h-11zM385 285h11v11h-11zM665 285h11v11h-11zM365 295h31v11h-31zM415 295h11v11h-11zM645 295h11v11h-11zM685 295h11v11h-11zM185 305h11v11h-11zM445 305h11v11h-11zM485 305h11v11h-11zM515 305h21v11h-21zM615 305h11v11h-11zM615 315h11v11h-11zM705 315h11v11h-11zM685 335h11v11h-11zM145 345h11v11h-11zM655 345h11v11h-11zM775 345h11v11h-11zM655 355h11v11h-11zM655 365h11v11h-11zM185 385h11v11h-11zM765 385h11v11h-11zM805 405h11v11h-11zM225 415h11v11h-11zM735 415h11v11h-11zM235 435h11v11h-11zM235 445h11v11h-11zM235 455h41v11h-41zM505 455h21v11h-21zM535 455h11v11h-11zM235 465h31v11h-31zM465 465h31v11h-31zM235 475h21v11h-21zM455 475h31v11h-31zM455 485h41v11h-41zM585 485h11v11h-11zM795 485h11v11h-11zM455 495h41v11h-41zM615 495h11v11h-11zM775 495h21v11h-21zM445 505h61v11h-61zM685 505h31v11h-31zM765 505h11v11h-11zM445 515h61v11h-61zM635 515h11v11h-11zM655 515h111v11h-111zM445 525h61v11h-61zM635 525h41v11h-41zM695 525h61v11h-61zM445 535h61v11h-61zM625 535h11v11h-11zM655 535h101v11h-101zM445 545h41v11h-41zM625 545h131v11h-131zM635 555h121v11h-121zM645 565h101v11h-101zM655 575h91v11h-91z"/><path fill="#4f4f4f" d="M685 175h11v11h-11zM595 185h11v11h-11zM585 205h11v11h-11zM585 215h11v11h-11zM585 225h11v11h-11zM585 235h11v11h-11zM675 245h11v11h-11zM595 255h11v11h-11zM325 275h11v11h-11zM615 285h11v11h-11zM645 285h21v11h-21zM225 295h11v11h-11zM615 295h31v11h-31zM655 295h31v11h-31zM495 305h21v11h-21zM625 305h31v11h-31zM165 315h11v11h-11zM155 325h11v11h-11zM545 325h11v11h-11zM615 325h11v11h-11zM605 345h11v11h-11zM155 365h11v11h-11zM575 365h21v11h-21zM815 375h11v11h-11zM205 395h11v11h-11zM805 395h11v11h-11zM685 405h11v11h-11zM795 415h11v11h-11zM795 425h11v11h-11zM795 435h11v11h-11zM245 445h31v11h-31zM795 445h11v11h-11zM465 455h41v11h-41zM545 455h11v11h-11zM795 455h11v11h-11zM265 465h11v11h-11zM375 465h11v11h-11zM455 465h11v11h-11zM795 465h11v11h-11zM255 475h11v11h-11zM445 475h11v11h-11zM575 475h11v11h-11zM795 475h11v11h-11zM445 485h11v11h-11zM785 485h11v11h-11zM435 495h21v11h-21zM695 495h21v11h-21zM435 505h11v11h-11zM635 505h11v11h-11zM665 505h21v11h-21zM715 505h51v11h-51zM435 515h11v11h-11zM645 515h11v11h-11zM425 525h21v11h-21zM425 535h21v11h-21zM635 535h21v11h-21zM415 545h31v11h-31z"/><path fill="#525252" d="M595 195h11v11h-11zM675 225h11v11h-11zM675 235h11v11h-11zM595 245h11v11h-11zM605 265h11v11h-11zM665 265h11v11h-11zM335 275h11v11h-11zM615 275h11v11h-11zM655 275h11v11h-11zM625 285h21v11h-21zM195 305h11v11h-11zM435 305h11v11h-11zM655 305h11v11h-11zM695 305h11v11h-11zM535 315h11v11h-11zM625 315h31v11h-31zM635 325h21v11h-21zM695 325h11v11h-11zM615 335h11v11h-11zM645 335h41v11h-41zM555 345h11v11h-11zM645 345h11v11h-11zM785 345h11v11h-11zM805 345h11v11h-11zM645 355h11v11h-11zM775 355h11v11h-11zM815 355h11v11h-11zM645 365h11v11h-11zM815 365h11v11h-11zM175 375h11v11h-11zM655 375h11v11h-11zM195 385h11v11h-11zM675 395h11v11h-11zM765 395h11v11h-11zM215 405h11v11h-11zM755 405h11v11h-11zM795 405h11v11h-11zM235 415h11v11h-11zM695 415h11v11h-11zM245 435h11v11h-11zM415 445h11v11h-11zM275 455h11v11h-11zM445 455h21v11h-21zM275 465h11v11h-11zM435 465h21v11h-21zM265 475h21v11h-21zM365 475h21v11h-21zM435 475h11v11h-11zM785 475h11v11h-11zM265 485h21v11h-21zM365 485h21v11h-21zM435 485h11v11h-11zM775 485h11v11h-11zM265 495h11v11h-11zM365 495h21v11h-21zM425 495h11v11h-11zM625 495h11v11h-11zM675 495h21v11h-21zM715 495h11v11h-11zM755 495h21v11h-21zM265 505h11v11h-11zM425 505h11v11h-11zM645 505h21v11h-21zM415 515h21v11h-21zM405 525h21v11h-21zM415 535h11v11h-11z"/><path fill="#545454" d="M605 175h11v11h-11zM595 205h11v11h-11zM675 205h11v11h-11zM675 215h11v11h-11zM595 235h11v11h-11zM605 255h11v11h-11zM665 255h11v11h-11zM615 265h11v11h-11zM655 265h11v11h-11zM625 275h31v11h-31zM345 285h11v11h-11zM355 295h11v11h-11zM205 305h21v11h-21zM395 305h41v11h-41zM175 315h11v11h-11zM465 315h11v11h-11zM655 315h11v11h-11zM625 325h11v11h-11zM655 325h11v11h-11zM625 335h21v11h-21zM615 345h11v11h-11zM635 345h11v11h-11zM795 345h11v11h-11zM605 355h11v11h-11zM635 355h11v11h-11zM595 365h11v11h-11zM775 365h11v11h-11zM665 385h11v11h-11zM805 385h11v11h-11zM795 395h11v11h-11zM765 405h11v11h-11zM785 405h11v11h-11zM745 415h11v11h-11zM785 415h11v11h-11zM245 425h11v11h-11zM785 425h11v11h-11zM785 435h11v11h-11zM405 445h11v11h-11zM425 445h11v11h-11zM495 445h31v11h-31zM785 445h11v11h-11zM415 455h31v11h-31zM785 455h11v11h-11zM285 465h11v11h-11zM365 465h11v11h-11zM425 465h11v11h-11zM565 465h11v11h-11zM785 465h11v11h-11zM285 475h31v11h-31zM425 475h11v11h-11zM285 485h31v11h-31zM355 485h11v11h-11zM425 485h11v11h-11zM765 485h11v11h-11zM275 495h41v11h-41zM355 495h11v11h-11zM665 495h11v11h-11zM725 495h31v11h-31zM275 505h21v11h-21zM355 505h41v11h-41zM415 505h11v11h-11zM355 515h61v11h-61zM365 525h41v11h-41z"/><path fill="#575757" d="M675 175h11v11h-11zM605 185h11v11h-11zM675 185h11v11h-11zM675 195h11v11h-11zM595 215h11v11h-11zM595 225h11v11h-11zM605 245h11v11h-11zM665 245h11v11h-11zM625 265h11v11h-11zM665 305h11v11h-11zM685 305h11v11h-11zM455 315h11v11h-11zM475 315h11v11h-11zM695 315h11v11h-11zM625 345h11v11h-11zM615 355h21v11h-21zM565 365h11v11h-11zM635 365h11v11h-11zM185 375h11v11h-11zM645 375h11v11h-11zM775 375h11v11h-11zM775 385h11v11h-11zM775 395h21v11h-21zM775 405h11v11h-11zM755 415h11v11h-11zM775 415h11v11h-11zM255 435h11v11h-11zM405 435h21v11h-21zM275 445h11v11h-11zM435 445h61v11h-61zM525 445h21v11h-21zM295 465h11v11h-11zM315 475h11v11h-11zM355 475h11v11h-11zM775 475h11v11h-11zM315 485h21v11h-21zM345 485h11v11h-11zM415 485h11v11h-11zM685 485h31v11h-31zM315 495h41v11h-41zM385 495h11v11h-11zM415 495h11v11h-11zM635 495h11v11h-11zM655 495h11v11h-11zM295 505h61v11h-61zM395 505h21v11h-21zM295 515h61v11h-61zM295 525h71v11h-71z"/><path fill="#595959" d="M615 175h11v11h-11zM605 195h11v11h-11zM605 205h11v11h-11zM665 225h11v11h-11zM605 235h11v11h-11zM665 235h11v11h-11zM615 255h11v11h-11zM655 255h11v11h-11zM635 265h21v11h-21zM385 305h11v11h-11zM675 305h11v11h-11zM185 315h11v11h-11zM445 315h11v11h-11zM485 315h11v11h-11zM525 315h11v11h-11zM165 325h11v11h-11zM665 325h11v11h-11zM685 325h11v11h-11zM155 335h11v11h-11zM785 355h11v11h-11zM805 355h11v11h-11zM165 365h11v11h-11zM605 365h31v11h-31zM585 375h11v11h-11zM635 375h11v11h-11zM805 375h11v11h-11zM205 385h11v11h-11zM655 385h11v11h-11zM785 385h21v11h-21zM225 405h11v11h-11zM765 415h11v11h-11zM775 425h11v11h-11zM425 435h11v11h-11zM285 455h11v11h-11zM375 455h11v11h-11zM405 455h11v11h-11zM555 455h11v11h-11zM775 455h11v11h-11zM305 465h11v11h-11zM415 465h11v11h-11zM775 465h11v11h-11zM385 475h11v11h-11zM415 475h11v11h-11zM335 485h11v11h-11zM385 485h11v11h-11zM675 485h11v11h-11zM715 485h11v11h-11zM755 485h11v11h-11zM395 495h21v11h-21zM645 495h11v11h-11z"/><path fill="#5c5c5c" d="M665 175h11v11h-11zM615 185h11v11h-11zM605 215h11v11h-11zM665 215h11v11h-11zM605 225h11v11h-11zM615 245h11v11h-11zM655 245h11v11h-11zM625 255h11v11h-11zM645 255h11v11h-11zM305 285h41v11h-41zM495 315h31v11h-31zM665 315h11v11h-11zM155 355h11v11h-11zM555 355h11v11h-11zM795 355h11v11h-11zM805 365h11v11h-11zM575 375h11v11h-11zM595 375h11v11h-11zM625 375h11v11h-11zM785 375h11v11h-11zM645 385h11v11h-11zM215 395h11v11h-11zM665 395h11v11h-11zM675 405h11v11h-11zM685 415h11v11h-11zM715 425h31v11h-31zM765 425h11v11h-11zM265 435h11v11h-11zM435 435h11v11h-11zM775 435h11v11h-11zM775 445h11v11h-11zM295 455h11v11h-11zM365 455h11v11h-11zM315 465h11v11h-11zM405 465h11v11h-11zM325 475h31v11h-31zM405 475h11v11h-11zM765 475h11v11h-11zM395 485h21v11h-21zM595 485h11v11h-11zM725 485h31v11h-31z"/><path fill="#5e5e5e" d="M665 185h11v11h-11zM615 195h11v11h-11zM665 195h11v11h-11zM665 205h11v11h-11zM615 225h11v11h-11zM615 235h11v11h-11zM655 235h11v11h-11zM625 245h11v11h-11zM635 255h11v11h-11zM275 285h11v11h-11zM235 295h11v11h-11zM195 315h11v11h-11zM435 315h11v11h-11zM685 315h11v11h-11zM675 325h11v11h-11zM545 335h11v11h-11zM155 345h11v11h-11zM175 365h11v11h-11zM785 365h11v11h-11zM195 375h11v11h-11zM605 375h21v11h-21zM795 375h11v11h-11zM635 385h11v11h-11zM245 415h11v11h-11zM255 425h11v11h-11zM705 425h11v11h-11zM745 425h21v11h-21zM445 435h71v11h-71zM395 445h11v11h-11zM545 445h11v11h-11zM355 465h11v11h-11zM385 465h11v11h-11zM765 465h11v11h-11zM395 475h11v11h-11zM585 475h11v11h-11zM665 485h11v11h-11z"/><path fill="#616161" d="M625 175h11v11h-11zM655 175h11v11h-11zM625 185h11v11h-11zM615 205h11v11h-11zM615 215h11v11h-11zM655 225h11v11h-11zM625 235h11v11h-11zM635 245h21v11h-21zM295 285h11v11h-11zM345 295h11v11h-11zM225 305h11v11h-11zM375 305h11v11h-11zM675 315h11v11h-11zM175 325h11v11h-11zM535 325h11v11h-11zM795 365h11v11h-11zM625 385h11v11h-11zM645 395h21v11h-21zM415 425h11v11h-11zM395 435h11v11h-11zM515 435h21v11h-21zM765 435h11v11h-11zM285 445h11v11h-11zM765 445h11v11h-11zM305 455h11v11h-11zM385 455h21v11h-21zM765 455h11v11h-11zM325 465h11v11h-11zM395 465h11v11h-11zM575 465h11v11h-11zM685 475h31v11h-31zM755 475h11v11h-11zM605 485h11v11h-11zM655 485h11v11h-11z"/><path fill="#636363" d="M635 175h21v11h-21zM655 185h11v11h-11zM625 195h11v11h-11zM655 195h11v11h-11zM625 205h11v11h-11zM655 205h11v11h-11zM625 215h11v11h-11zM655 215h11v11h-11zM625 225h11v11h-11zM645 225h11v11h-11zM635 235h21v11h-21zM205 315h11v11h-11zM425 315h11v11h-11zM465 325h31v11h-31zM165 335h11v11h-11zM565 375h11v11h-11zM605 385h21v11h-21zM635 395h11v11h-11zM235 405h11v11h-11zM405 425h11v11h-11zM425 425h11v11h-11zM695 425h11v11h-11zM375 445h11v11h-11zM315 455h11v11h-11zM565 455h11v11h-11zM335 465h21v11h-21zM675 475h11v11h-11zM715 475h11v11h-11zM745 475h11v11h-11zM615 485h11v11h-11z"/><path fill="#666666" d="M635 185h21v11h-21zM635 195h21v11h-21zM635 205h21v11h-21zM635 215h21v11h-21zM635 225h11v11h-11zM245 295h21v11h-21zM415 315h11v11h-11zM185 325h11v11h-11zM455 325h11v11h-11zM545 345h11v11h-11zM165 355h11v11h-11zM185 365h11v11h-11zM205 375h11v11h-11zM215 385h11v11h-11zM585 385h21v11h-21zM225 395h11v11h-11zM625 395h11v11h-11zM665 405h11v11h-11zM435 425h81v11h-81zM275 435h11v11h-11zM535 435h11v11h-11zM755 435h11v11h-11zM295 445h11v11h-11zM365 445h11v11h-11zM385 445h11v11h-11zM355 455h11v11h-11zM755 465h11v11h-11zM725 475h21v11h-21zM625 485h11v11h-11zM645 485h11v11h-11z"/><path fill="#696969" d="M285 285h11v11h-11zM265 295h11v11h-11zM365 305h11v11h-11zM215 315h11v11h-11zM405 315h11v11h-11zM195 325h11v11h-11zM495 325h11v11h-11zM525 325h11v11h-11zM175 335h11v11h-11zM555 365h11v11h-11zM615 395h11v11h-11zM655 405h11v11h-11zM255 415h11v11h-11zM485 415h11v11h-11zM675 415h11v11h-11zM265 425h11v11h-11zM395 425h11v11h-11zM375 435h11v11h-11zM725 435h31v11h-31zM305 445h11v11h-11zM555 445h11v11h-11zM755 445h11v11h-11zM325 455h11v11h-11zM755 455h11v11h-11zM665 475h11v11h-11zM635 485h11v11h-11z"/><path fill="#6b6b6b" d="M335 295h11v11h-11zM395 315h11v11h-11zM205 325h11v11h-11zM445 325h11v11h-11zM505 325h21v11h-21zM165 345h11v11h-11zM175 355h11v11h-11zM195 365h11v11h-11zM575 385h11v11h-11zM605 395h11v11h-11zM485 405h11v11h-11zM645 405h11v11h-11zM465 415h21v11h-21zM495 415h11v11h-11zM375 425h11v11h-11zM515 425h11v11h-11zM685 425h11v11h-11zM365 435h11v11h-11zM385 435h11v11h-11zM545 435h11v11h-11zM715 435h11v11h-11zM685 465h41v11h-41zM745 465h11v11h-11z"/><path fill="#6e6e6e" d="M325 295h11v11h-11zM355 305h11v11h-11zM435 325h11v11h-11zM185 335h11v11h-11zM535 335h11v11h-11zM175 345h11v11h-11zM545 355h11v11h-11zM245 405h11v11h-11zM475 405h11v11h-11zM495 405h11v11h-11zM635 405h11v11h-11zM455 415h11v11h-11zM505 415h11v11h-11zM365 425h11v11h-11zM385 425h11v11h-11zM525 425h11v11h-11zM285 435h11v11h-11zM705 435h11v11h-11zM315 445h11v11h-11zM745 445h11v11h-11zM335 455h21v11h-21zM745 455h11v11h-11zM585 465h11v11h-11zM675 465h11v11h-11zM725 465h21v11h-21zM595 475h11v11h-11zM655 475h11v11h-11z"/><path fill="#707070" d="M315 295h11v11h-11zM235 305h11v11h-11zM385 315h11v11h-11zM195 335h11v11h-11zM475 335h21v11h-21zM185 355h11v11h-11zM215 375h11v11h-11zM225 385h11v11h-11zM235 395h11v11h-11zM475 395h21v11h-21zM595 395h11v11h-11zM465 405h11v11h-11zM625 405h11v11h-11zM665 415h11v11h-11zM535 425h11v11h-11zM295 435h11v11h-11zM695 435h11v11h-11zM355 445h11v11h-11zM725 445h21v11h-21zM575 455h11v11h-11z"/><path fill="#737373" d="M275 295h11v11h-11zM305 295h11v11h-11zM345 305h11v11h-11zM225 315h11v11h-11zM425 325h11v11h-11zM465 335h11v11h-11zM185 345h11v11h-11zM205 365h11v11h-11zM565 385h11v11h-11zM495 395h11v11h-11zM585 395h11v11h-11zM505 405h11v11h-11zM615 405h11v11h-11zM265 415h11v11h-11zM405 415h51v11h-51zM515 415h11v11h-11zM655 415h11v11h-11zM275 425h11v11h-11zM675 425h11v11h-11zM305 435h11v11h-11zM325 445h11v11h-11zM565 445h11v11h-11zM705 445h21v11h-21zM695 455h51v11h-51zM665 465h11v11h-11z"/><path fill="#757575" d="M215 325h11v11h-11zM205 335h11v11h-11zM495 335h11v11h-11zM535 345h11v11h-11zM195 355h11v11h-11zM555 375h11v11h-11zM255 405h11v11h-11zM605 405h11v11h-11zM645 415h11v11h-11zM555 435h11v11h-11zM685 435h11v11h-11zM695 445h11v11h-11zM685 455h11v11h-11zM605 475h11v11h-11zM645 475h11v11h-11z"/><path fill="#787878" d="M295 295h11v11h-11zM245 305h11v11h-11zM375 315h11v11h-11zM455 335h11v11h-11zM525 335h11v11h-11zM195 345h11v11h-11zM475 385h21v11h-21zM465 395h11v11h-11zM505 395h11v11h-11zM575 395h11v11h-11zM455 405h11v11h-11zM395 415h11v11h-11zM525 415h11v11h-11zM635 415h11v11h-11zM545 425h11v11h-11zM665 425h11v11h-11zM315 435h11v11h-11zM355 435h11v11h-11zM335 445h21v11h-21zM685 445h11v11h-11zM675 455h11v11h-11z"/><path fill="#7a7a7a" d="M285 295h11v11h-11zM335 305h11v11h-11zM415 325h11v11h-11zM505 335h21v11h-21zM535 355h11v11h-11zM545 365h11v11h-11zM495 385h11v11h-11zM245 395h11v11h-11zM515 405h11v11h-11zM595 405h11v11h-11zM385 415h11v11h-11zM625 415h11v11h-11zM285 425h11v11h-11zM675 435h11v11h-11zM595 465h11v11h-11zM655 465h11v11h-11zM615 475h11v11h-11zM635 475h11v11h-11z"/><path fill="#7d7d7d" d="M255 305h11v11h-11zM365 315h11v11h-11zM445 335h11v11h-11zM475 345h11v11h-11zM205 355h11v11h-11zM215 365h11v11h-11zM225 375h11v11h-11zM235 385h11v11h-11zM505 385h11v11h-11zM265 405h11v11h-11zM445 405h11v11h-11zM375 415h11v11h-11zM535 415h11v11h-11zM615 415h11v11h-11zM295 425h11v11h-11zM655 425h11v11h-11zM675 445h11v11h-11zM585 455h11v11h-11zM665 455h11v11h-11zM625 475h11v11h-11z"/><path fill="#808080" d="M265 305h11v11h-11zM325 305h11v11h-11zM235 315h11v11h-11zM225 325h11v11h-11zM405 325h11v11h-11zM215 335h11v11h-11zM435 335h11v11h-11zM205 345h11v11h-11zM465 345h11v11h-11zM485 345h11v11h-11zM525 345h11v11h-11zM535 365h11v11h-11zM465 385h11v11h-11zM255 395h11v11h-11zM455 395h11v11h-11zM515 395h11v11h-11zM565 395h11v11h-11zM435 405h11v11h-11zM585 405h11v11h-11zM275 415h11v11h-11zM605 415h11v11h-11zM305 425h11v11h-11zM555 425h11v11h-11zM645 425h11v11h-11zM325 435h11v11h-11zM565 435h11v11h-11zM665 435h11v11h-11zM575 445h11v11h-11z"/><path fill="#828282" d="M355 315h11v11h-11zM495 345h11v11h-11zM475 375h31v11h-31zM515 385h11v11h-11zM555 385h11v11h-11zM425 405h11v11h-11zM525 405h11v11h-11zM545 415h11v11h-11zM355 425h11v11h-11zM635 425h11v11h-11zM335 435h21v11h-21zM655 455h11v11h-11zM645 465h11v11h-11z"/><path fill="#858585" d="M275 305h11v11h-11zM315 305h11v11h-11zM345 315h11v11h-11zM395 325h11v11h-11zM425 335h11v11h-11zM215 345h11v11h-11zM215 355h11v11h-11zM525 355h11v11h-11zM525 365h11v11h-11zM505 375h11v11h-11zM415 405h11v11h-11zM575 405h11v11h-11zM365 415h11v11h-11zM595 415h11v11h-11zM315 425h11v11h-11zM625 425h11v11h-11zM655 435h11v11h-11zM665 445h11v11h-11zM605 465h11v11h-11z"/><path fill="#878787" d="M285 305h31v11h-31zM245 315h11v11h-11zM455 345h11v11h-11zM505 345h21v11h-21zM475 355h11v11h-11zM225 365h11v11h-11zM485 365h11v11h-11zM235 375h11v11h-11zM465 375h11v11h-11zM515 375h21v11h-21zM545 375h11v11h-11zM245 385h11v11h-11zM455 385h11v11h-11zM265 395h11v11h-11zM445 395h11v11h-11zM525 395h11v11h-11zM555 395h11v11h-11zM275 405h11v11h-11zM405 405h11v11h-11zM535 405h11v11h-11zM565 405h11v11h-11zM285 415h11v11h-11zM555 415h11v11h-11zM585 415h11v11h-11zM565 425h11v11h-11zM615 425h11v11h-11zM575 435h11v11h-11zM645 435h11v11h-11zM585 445h11v11h-11zM655 445h11v11h-11zM595 455h11v11h-11zM645 455h11v11h-11zM635 465h11v11h-11z"/><path fill="#8a8a8a" d="M335 315h11v11h-11zM385 325h11v11h-11zM225 335h11v11h-11zM415 335h11v11h-11zM465 355h11v11h-11zM485 355h21v11h-21zM475 365h11v11h-11zM495 365h31v11h-31zM535 375h11v11h-11zM525 385h11v11h-11zM545 405h21v11h-21zM605 425h11v11h-11zM635 435h11v11h-11zM645 445h11v11h-11zM615 465h11v11h-11z"/><path fill="#8c8c8c" d="M255 315h11v11h-11zM235 325h11v11h-11zM445 345h11v11h-11zM225 355h11v11h-11zM505 355h21v11h-21zM465 365h11v11h-11zM545 385h11v11h-11zM435 395h11v11h-11zM395 405h11v11h-11zM295 415h11v11h-11zM565 415h21v11h-21zM325 425h11v11h-11zM575 425h31v11h-31zM585 435h11v11h-11zM625 435h11v11h-11zM635 445h11v11h-11zM635 455h11v11h-11zM625 465h11v11h-11z"/><path fill="#8f8f8f" d="M265 315h11v11h-11zM405 335h11v11h-11zM225 345h11v11h-11zM435 345h11v11h-11zM455 355h11v11h-11zM455 375h11v11h-11zM255 385h11v11h-11zM535 385h11v11h-11zM275 395h11v11h-11zM535 395h21v11h-21zM305 415h11v11h-11zM345 425h11v11h-11zM595 435h11v11h-11zM595 445h11v11h-11z"/><path fill="#919191" d="M275 315h11v11h-11zM325 315h11v11h-11zM345 325h21v11h-21zM375 325h11v11h-11zM425 345h11v11h-11zM235 365h11v11h-11zM455 365h11v11h-11zM245 375h11v11h-11zM445 385h11v11h-11zM425 395h11v11h-11zM285 405h11v11h-11zM385 405h11v11h-11zM335 425h11v11h-11zM605 435h21v11h-21zM625 445h11v11h-11zM605 455h11v11h-11zM625 455h11v11h-11z"/><path fill="#949494" d="M285 315h11v11h-11zM365 325h11v11h-11zM235 335h11v11h-11zM415 345h11v11h-11zM415 395h11v11h-11zM315 415h11v11h-11zM605 445h21v11h-21zM615 455h11v11h-11z"/><path fill="#969696" d="M315 315h11v11h-11zM245 325h11v11h-11zM395 335h11v11h-11zM235 355h11v11h-11zM445 355h11v11h-11zM445 375h11v11h-11zM265 385h11v11h-11zM435 385h11v11h-11zM375 405h11v11h-11zM355 415h11v11h-11z"/><path fill="#999999" d="M295 315h21v11h-21zM335 325h11v11h-11zM235 345h11v11h-11zM405 345h11v11h-11zM435 355h11v11h-11zM445 365h11v11h-11zM405 395h11v11h-11zM295 405h11v11h-11z"/><path fill="#9c9c9c" d="M255 325h11v11h-11zM425 355h11v11h-11zM245 365h11v11h-11zM255 375h11v11h-11zM425 385h11v11h-11zM285 395h11v11h-11zM325 415h11v11h-11z"/><path fill="#9e9e9e" d="M265 325h21v11h-21zM245 335h11v11h-11zM345 335h11v11h-11zM415 355h11v11h-11zM435 365h11v11h-11zM435 375h11v11h-11zM275 385h11v11h-11zM395 395h11v11h-11zM305 405h11v11h-11z"/><path fill="#a1a1a1" d="M355 335h11v11h-11zM385 335h11v11h-11zM245 355h11v11h-11zM425 365h11v11h-11zM425 375h11v11h-11zM415 385h11v11h-11zM365 405h11v11h-11zM335 415h21v11h-21z"/><path fill="#a3a3a3" d="M285 325h11v11h-11zM325 325h11v11h-11zM245 345h11v11h-11zM405 355h11v11h-11zM415 365h11v11h-11z"/><path fill="#a6a6a6" d="M255 335h11v11h-11zM395 345h11v11h-11zM255 365h11v11h-11zM265 375h11v11h-11zM415 375h11v11h-11zM405 385h11v11h-11zM315 405h11v11h-11z"/><path fill="#a8a8a8" d="M295 325h11v11h-11zM315 325h11v11h-11zM265 335h11v11h-11zM335 335h11v11h-11zM375 335h11v11h-11zM295 395h11v11h-11zM385 395h11v11h-11z"/><path fill="#ababab" d="M305 325h11v11h-11zM365 335h11v11h-11zM255 345h11v11h-11zM255 355h11v11h-11zM405 365h11v11h-11zM285 385h11v11h-11z"/><path fill="#adadad" d="M275 335h11v11h-11zM405 375h11v11h-11zM325 405h11v11h-11zM355 405h11v11h-11z"/><path fill="#b0b0b0" d="M395 355h11v11h-11zM275 375h11v11h-11zM395 385h11v11h-11zM305 395h11v11h-11zM375 395h11v11h-11z"/><path fill="#b2b2b2" d="M285 335h11v11h-11zM265 345h11v11h-11zM385 345h11v11h-11zM265 365h11v11h-11z"/><path fill="#b5b5b5" d="M325 335h11v11h-11zM265 355h11v11h-11zM335 405h21v11h-21z"/><path fill="#b8b8b8" d="M395 365h11v11h-11zM395 375h11v11h-11zM295 385h11v11h-11zM315 395h11v11h-11z"/><path fill="#bababa" d="M295 335h11v11h-11zM275 345h11v11h-11zM345 345h11v11h-11zM385 385h11v11h-11zM365 395h11v11h-11z"/><path fill="#bdbdbd" d="M315 335h11v11h-11zM285 375h11v11h-11z"/><path fill="#bfbfbf" d="M305 335h11v11h-11zM375 345h11v11h-11zM385 355h11v11h-11zM275 365h11v11h-11zM325 395h11v11h-11z"/><path fill="#c2c2c2" d="M285 345h11v11h-11zM335 345h11v11h-11zM275 355h11v11h-11zM305 385h11v11h-11z"/><path fill="#c4c4c4" d="M355 345h11v11h-11zM385 375h11v11h-11zM375 385h11v11h-11zM355 395h11v11h-11z"/><path fill="#c7c7c7" d="M365 345h11v11h-11zM385 365h11v11h-11zM295 375h11v11h-11zM335 395h11v11h-11z"/><path fill="#c9c9c9" d="M295 345h11v11h-11zM285 365h11v11h-11zM315 385h11v11h-11zM345 395h11v11h-11z"/><path fill="#cccccc" d="M325 345h11v11h-11zM285 355h11v11h-11z"/><path fill="#cfcfcf" d="M365 385h11v11h-11z"/><path fill="#d1d1d1" d="M305 345h21v11h-21zM375 355h11v11h-11zM375 375h11v11h-11zM325 385h11v11h-11z"/><path fill="#d4d4d4" d="M295 355h11v11h-11zM295 365h11v11h-11zM305 375h11v11h-11z"/><path fill="#d6d6d6" d="M335 355h11v11h-11zM375 365h11v11h-11zM335 385h11v11h-11zM355 385h11v11h-11z"/><path fill="#d9d9d9" d="M345 355h11v11h-11zM345 385h11v11h-11z"/><path fill="#dbdbdb" d="M305 355h11v11h-11zM315 375h11v11h-11zM365 375h11v11h-11z"/><path fill="#dedede" d="M325 355h11v11h-11zM365 355h11v11h-11zM305 365h11v11h-11zM325 375h11v11h-11z"/><path fill="#e0e0e0" d="M315 355h11v11h-11zM355 355h11v11h-11zM335 365h21v11h-21zM365 365h11v11h-11zM335 375h31v11h-31z"/><path fill="#e3e3e3" d="M355 365h11v11h-11z"/><path fill="#e6e6e6" d="M315 365h21v11h-21z"/>
</g></g>
<g style="mix-blend-mode:multiply">
<g fill="none" stroke="#555" stroke-width="1.3">
<path d="M0.0 235.0L25.0 225.0L55.0 205.0L82.0 177.0L107.0 155.0L134.0 124.5"/>
<path d="M134.0 124.5C136.7 123.9 144.0 121.8 150.0 121.0C156.0 120.2 161.7 119.5 170.0 120.0C178.3 120.5 189.2 122.5 200.0 124.0C210.8 125.5 223.3 127.3 235.0 129.0C246.7 130.7 258.3 132.2 270.0 134.0C281.7 135.8 293.3 137.5 305.0 140.0C316.7 142.5 328.3 146.2 340.0 149.0C351.7 151.8 363.0 154.5 375.0 157.0C387.0 159.5 400.3 162.7 412.0 164.0C423.7 165.3 435.0 165.5 445.0 165.0C455.0 164.5 464.8 160.8 472.0 161.0C479.2 161.2 482.1 162.8 488.0 166.0C493.9 169.2 500.5 175.2 507.5 180.0C514.5 184.8 522.9 190.0 530.0 195.0C537.1 200.0 542.9 204.2 550.0 210.0C557.1 215.8 564.2 223.8 572.5 230.0C580.8 236.2 591.2 242.5 600.0 247.5C608.8 252.5 616.7 256.7 625.0 260.0C633.3 263.3 641.7 265.4 650.0 267.5C658.3 269.6 665.4 270.6 675.0 272.5C684.6 274.4 696.7 276.0 707.5 278.8C718.3 281.5 730.0 286.0 740.0 288.8C750.0 291.5 755.8 294.4 767.5 295.5C779.2 296.6 797.1 292.9 810.0 295.5C822.9 298.1 834.2 305.2 845.0 311.0C855.8 316.8 864.6 323.5 875.0 330.0C885.4 336.5 897.1 344.2 907.5 350.0C917.9 355.8 928.8 360.4 937.5 365.0C946.2 369.6 954.2 373.8 960.0 377.5C965.8 381.2 966.7 382.5 972.5 387.5C978.3 392.5 987.5 399.6 995.0 407.5C1002.5 415.4 1010.0 425.4 1017.5 435.0C1025.0 444.6 1032.5 455.0 1040.0 465.0C1047.5 475.0 1056.8 488.8 1062.5 495.0C1068.2 501.2 1072.1 500.8 1074.0 502.0"/>
<path d="M472.0 161.0C475.8 156.5 487.0 142.9 495.0 134.0C503.0 125.1 511.7 117.3 520.0 107.5C528.3 97.7 536.7 85.0 545.0 75.0C553.3 65.0 562.2 56.3 570.0 47.5C577.8 38.7 585.7 29.9 592.0 22.0C598.3 14.1 605.3 3.7 608.0 0.0"/>
<path d="M1008.0 0.0C1014.2 3.3 1034.0 14.0 1045.0 20.0C1056.0 26.0 1069.2 33.3 1074.0 36.0"/>
<path d="M849.0 574.5L992.0 737.0"/>
</g>
<g fill="#555"><path d="M21.5 227.3L30.3 221.5L30.8 231.8Z"/><path d="M51.4 208.8L58.7 201.2L61.4 211.2Z"/><path d="M75.7 183.6L83.0 176.0L85.7 186.0Z"/><path d="M101.4 159.9L109.3 153.0L111.3 163.1Z"/><path d="M125.3 134.4L132.2 126.5L135.4 136.3Z"/></g>
<g fill="#555"><path d="M160.4 120.5L170.8 120.0L166.0 129.1Z"/><path d="M196.2 123.5L206.6 124.9L200.2 133.0Z"/><path d="M232.0 128.6L242.4 130.1L235.9 138.1Z"/><path d="M267.7 133.6L278.1 135.4L271.4 143.3Z"/><path d="M303.3 139.6L313.5 142.2L306.2 149.5Z"/><path d="M338.3 148.6L348.5 150.9L341.4 158.5Z"/><path d="M373.4 156.7L383.8 158.7L376.9 166.5Z"/><path d="M408.9 163.9L419.4 164.2L413.8 173.0Z"/><path d="M444.9 165.0L455.3 163.5L451.4 173.1Z"/><path d="M480.4 163.6L490.4 166.7L482.7 173.7Z"/><path d="M510.9 182.3L519.6 188.1L510.3 192.6Z"/><path d="M540.5 202.9L548.9 209.2L539.4 213.2Z"/><path d="M568.1 226.1L576.0 233.1L566.1 236.3Z"/><path d="M597.9 246.4L607.3 251.1L598.6 256.8Z"/><path d="M630.5 261.7L640.6 264.7L633.0 271.7Z"/><path d="M665.5 270.6L675.8 272.7L668.9 280.4Z"/><path d="M700.9 277.5L711.2 279.5L704.4 287.2Z"/><path d="M735.5 287.7L745.7 290.2L738.5 297.6Z"/><path d="M770.7 295.5L781.2 295.5L775.9 304.4Z"/><path d="M807.1 294.2L816.7 298.4L808.2 304.5Z"/><path d="M840.1 308.8L849.7 313.1L841.3 319.1Z"/><path d="M870.9 327.5L879.8 333.0L870.7 337.8Z"/><path d="M901.6 346.4L910.6 351.9L901.4 356.8Z"/><path d="M933.7 362.9L942.9 368.0L934.0 373.3Z"/><path d="M964.7 381.3L972.9 387.8L963.2 391.5Z"/><path d="M992.5 404.4L999.1 412.6L988.9 414.1Z"/><path d="M1015.5 432.3L1021.8 440.7L1011.5 441.8Z"/><path d="M1037.1 461.2L1043.4 469.6L1033.1 470.7Z"/><path d="M1058.8 490.0L1065.1 498.4L1054.8 499.6Z"/></g>
<g fill="#555"><path d="M482.9 148.2L489.7 140.3L493.1 150.0Z"/><path d="M506.9 121.4L514.1 113.8L517.0 123.7Z"/><path d="M530.3 94.1L536.7 85.8L540.5 95.4Z"/><path d="M553.0 66.2L560.0 58.5L563.1 68.4Z"/><path d="M577.0 39.4L583.8 31.5L587.2 41.3Z"/><path d="M599.6 11.5L605.8 3.0L610.0 12.5Z"/></g>
<g fill="#555"><path d="M1008.7 0.4L1017.9 5.3L1009.0 10.7Z"/><path d="M1038.6 16.5L1047.8 21.5L1038.9 26.9Z"/><path d="M1068.4 32.9L1077.6 38.0L1068.7 43.2Z"/></g>
<g fill="#555"><path d="M848.8 574.3L855.8 582.2L845.6 584.1Z"/><path d="M872.2 600.8L879.1 608.7L868.9 610.6Z"/><path d="M895.5 627.3L902.4 635.2L892.2 637.2Z"/><path d="M918.8 653.8L925.7 661.7L915.6 663.7Z"/><path d="M942.1 680.3L949.1 688.2L938.9 690.2Z"/><path d="M965.4 706.8L972.4 714.7L962.2 716.7Z"/></g>
</g>
<g stroke="#1c1c1c" stroke-width="2.8" stroke-linejoin="round" opacity=".93">
<path d="M84.5 336.0L93.5 353.0H75.5Z" fill="none"/>
<path d="M139.5 373.0L148.4 390.0H130.6Z" fill="none"/>
<path d="M164.5 340.5L173.4 357.5H155.6Z" fill="none"/>
<path d="M194.5 315.5L203.4 332.5H185.6Z" fill="none"/>
<path d="M223.8 326.5L232.7 343.5H214.8Z" fill="none"/>
<path d="M214.5 336.5L223.4 353.5H205.6Z" fill="none"/>
<path d="M300.0 341.0L308.9 358.0H291.1Z" fill="none"/>
<path d="M318.8 318.5L327.7 335.5H309.8Z" fill="none"/>
<path d="M327.5 323.5L336.4 340.5H318.6Z" fill="none"/>
<path d="M345.0 296.5L353.9 313.5H336.1Z" fill="none"/>
<path d="M313.8 266.0L322.7 283.0H304.8Z" fill="none"/>
<path d="M320.0 362.2L328.9 379.2H311.1Z" fill="none"/>
<path d="M324.5 359.0L333.4 376.0H315.6Z" fill="none"/>
<path d="M352.5 387.2L361.4 404.2H343.6Z" fill="none"/>
<path d="M296.2 394.8L305.2 411.8H287.3Z" fill="none"/>
<path d="M328.8 436.0L337.7 453.0H319.8Z" fill="none"/>
<path d="M295.0 446.0L303.9 463.0H286.1Z" fill="none"/>
<path d="M337.5 245.5L346.4 262.5H328.6Z" fill="none"/>
<path d="M298.8 502.2L307.7 519.2H289.8Z" fill="none"/>
<path d="M410.0 181.0L418.9 198.0H401.1Z" fill="none"/>
<path d="M513.8 181.0L522.7 198.0H504.8Z" fill="none"/>
<path d="M608.2 203.0L617.2 220.0H599.3Z" fill="none"/>
<path d="M406.2 226.0L415.2 243.0H397.3Z" fill="none"/>
<path d="M397.5 278.5L406.4 295.5H388.6Z" fill="none"/>
<path d="M418.0 297.2L426.9 314.2H409.1Z" fill="none"/>
<path d="M454.2 297.2L463.2 314.2H445.3Z" fill="none"/>
<path d="M520.0 307.2L529.0 324.2H511.1Z" fill="none"/>
<path d="M591.2 261.0L600.2 278.0H582.3Z" fill="none"/>
<path d="M617.5 264.8L626.5 281.8H608.5Z" fill="none"/>
<path d="M637.5 268.5L646.5 285.5H628.5Z" fill="none"/>
<path d="M656.2 276.0L665.2 293.0H647.3Z" fill="none"/>
<path d="M625.0 281.0L634.0 298.0H616.0Z" fill="none"/>
<path d="M590.0 292.2L599.0 309.2H581.0Z" fill="none"/>
<path d="M617.5 294.8L626.5 311.8H608.5Z" fill="none"/>
<path d="M638.8 301.0L647.7 318.0H629.8Z" fill="none"/>
<path d="M657.5 308.5L666.5 325.5H648.5Z" fill="none"/>
<path d="M593.8 307.2L602.7 324.2H584.8Z" fill="none"/>
<path d="M585.0 316.0L594.0 333.0H576.0Z" fill="none"/>
<path d="M600.0 316.0L609.0 333.0H591.0Z" fill="none"/>
<path d="M572.5 319.8L581.5 336.8H563.5Z" fill="none"/>
<path d="M620.0 313.5L629.0 330.5H611.0Z" fill="none"/>
<path d="M645.0 328.5L654.0 345.5H636.0Z" fill="none"/>
<path d="M620.0 331.0L629.0 348.0H611.0Z" fill="none"/>
<path d="M605.0 337.2L614.0 354.2H596.0Z" fill="none"/>
<path d="M545.5 327.2L554.5 344.2H536.5Z" fill="none"/>
<path d="M504.5 329.8L513.5 346.8H495.6Z" fill="none"/>
<path d="M442.5 332.2L451.4 349.2H433.6Z" fill="none"/>
<path d="M390.0 336.0L398.9 353.0H381.1Z" fill="none"/>
<path d="M497.0 344.8L505.9 361.8H488.1Z" fill="none"/>
<path d="M580.8 348.5L589.7 365.5H571.8Z" fill="none"/>
<path d="M610.0 343.5L619.0 360.5H601.0Z" fill="none"/>
<path d="M627.5 341.0L636.5 358.0H618.5Z" fill="none"/>
<path d="M642.5 348.5L651.5 365.5H633.5Z" fill="none"/>
<path d="M580.0 358.5L589.0 375.5H571.0Z" fill="none"/>
<path d="M635.0 361.0L644.0 378.0H626.0Z" fill="none"/>
<path d="M441.2 359.8L450.2 376.8H432.3Z" fill="none"/>
<path d="M416.2 362.2L425.2 379.2H407.3Z" fill="none"/>
<path d="M477.5 366.0L486.4 383.0H468.6Z" fill="none"/>
<path d="M375.0 363.5L383.9 380.5H366.1Z" fill="none"/>
<path d="M365.0 361.0L373.9 378.0H356.1Z" fill="none"/>
<path d="M682.0 183.0L691.0 200.0H673.0Z" fill="none"/>
<path d="M714.2 196.0L723.2 213.0H705.3Z" fill="none"/>
<path d="M672.0 287.2L681.0 304.2H663.0Z" fill="none"/>
<path d="M660.0 283.5L669.0 300.5H651.0Z" fill="none"/>
<path d="M660.0 316.0L669.0 333.0H651.0Z" fill="none"/>
<path d="M694.2 310.5L703.2 327.5H685.3Z" fill="none"/>
<path d="M711.2 313.5L720.2 330.5H702.3Z" fill="none"/>
<path d="M738.0 304.8L747.0 321.8H729.0Z" fill="none"/>
<path d="M932.5 293.5L941.5 310.5H923.5Z" fill="none"/>
<path d="M881.2 341.0L890.2 358.0H872.3Z" fill="none"/>
<path d="M802.0 361.5L811.0 378.5H793.0Z" fill="none"/>
<path d="M786.2 371.0L795.2 388.0H777.3Z" fill="none"/>
<path d="M680.5 363.5L689.5 380.5H671.5Z" fill="none"/>
<path d="M711.2 377.2L720.2 394.2H702.3Z" fill="none"/>
<path d="M952.5 374.8L961.5 391.8H943.5Z" fill="none"/>
<path d="M981.0 341.0L990.0 358.0H972.0Z" fill="none"/>
<path d="M970.0 439.5L979.0 456.5H961.0Z" fill="none"/>
<path d="M380.0 421.0L388.9 438.0H371.1Z" fill="none"/>
<path d="M422.5 431.5L431.4 448.5H413.6Z" fill="none"/>
<path d="M422.5 381.0L431.4 398.0H413.6Z" fill="none"/>
<path d="M450.0 377.2L458.9 394.2H441.1Z" fill="none"/>
<path d="M521.2 377.2L530.2 394.2H512.3Z" fill="none"/>
<path d="M431.2 398.5L440.2 415.5H422.3Z" fill="none"/>
<path d="M450.0 404.8L458.9 421.8H441.1Z" fill="none"/>
<path d="M503.0 389.8L511.9 406.8H494.1Z" fill="none"/>
<path d="M497.5 411.0L506.4 428.0H488.6Z" fill="none"/>
<path d="M477.0 416.0L485.9 433.0H468.1Z" fill="none"/>
<path d="M501.2 436.0L510.2 453.0H492.3Z" fill="none"/>
<path d="M560.0 392.2L569.0 409.2H551.0Z" fill="none"/>
<path d="M548.0 434.8L557.0 451.8H539.0Z" fill="none"/>
<path d="M529.5 458.5L538.5 475.5H520.5Z" fill="none"/>
<path d="M553.8 467.2L562.7 484.2H544.8Z" fill="none"/>
<path d="M568.8 451.0L577.7 468.0H559.8Z" fill="none"/>
<path d="M581.2 402.2L590.2 419.2H572.3Z" fill="none"/>
<path d="M595.0 392.2L604.0 409.2H586.0Z" fill="none"/>
<path d="M610.0 398.5L619.0 415.5H601.0Z" fill="none"/>
<path d="M620.0 408.5L629.0 425.5H611.0Z" fill="none"/>
<path d="M638.8 396.0L647.7 413.0H629.8Z" fill="none"/>
<path d="M652.5 382.2L661.5 399.2H643.5Z" fill="none"/>
<path d="M656.2 404.8L665.2 421.8H647.3Z" fill="none"/>
<path d="M585.0 421.0L594.0 438.0H576.0Z" fill="none"/>
<path d="M595.0 423.5L604.0 440.5H586.0Z" fill="none"/>
<path d="M600.0 428.5L609.0 445.5H591.0Z" fill="none"/>
<path d="M586.2 431.0L595.2 448.0H577.3Z" fill="none"/>
<path d="M595.0 434.8L604.0 451.8H586.0Z" fill="none"/>
<path d="M642.5 428.5L651.5 445.5H633.5Z" fill="none"/>
<path d="M636.2 447.2L645.2 464.2H627.3Z" fill="none"/>
<path d="M625.0 468.5L634.0 485.5H616.0Z" fill="none"/>
<path d="M598.8 481.0L607.7 498.0H589.8Z" fill="none"/>
<path d="M582.0 492.2L591.0 509.2H573.0Z" fill="none"/>
<path d="M622.0 494.8L631.0 511.8H613.0Z" fill="none"/>
<path d="M603.0 526.0L612.0 543.0H594.0Z" fill="none"/>
<path d="M642.5 539.8L651.5 556.8H633.5Z" fill="none"/>
<path d="M512.5 542.2L521.5 559.2H503.6Z" fill="none"/>
<path d="M660.0 448.5L669.0 465.5H651.0Z" fill="none"/>
<path d="M863.0 379.8L872.0 396.8H854.0Z" fill="none"/>
<path d="M763.8 389.8L772.7 406.8H754.8Z" fill="none"/>
<path d="M746.2 422.2L755.2 439.2H737.3Z" fill="none"/>
<path d="M696.2 408.0L705.2 425.0H687.3Z" fill="none"/>
<path d="M719.5 427.2L728.5 444.2H710.5Z" fill="none"/>
<path d="M660.0 406.0L669.0 423.0H651.0Z" fill="none"/>
<path d="M673.8 434.8L682.7 451.8H664.8Z" fill="none"/>
<path d="M687.5 442.2L696.5 459.2H678.5Z" fill="none"/>
<path d="M667.5 447.2L676.5 464.2H658.5Z" fill="none"/>
<path d="M737.5 452.2L746.5 469.2H728.5Z" fill="none"/>
<path d="M779.5 436.5L788.5 453.5H770.5Z" fill="none"/>
<path d="M806.2 471.0L815.2 488.0H797.3Z" fill="none"/>
<path d="M855.5 410.5L864.5 427.5H846.5Z" fill="none"/>
<path d="M851.2 446.0L860.2 463.0H842.3Z" fill="none"/>
<path d="M836.2 489.8L845.2 506.8H827.3Z" fill="none"/>
<path d="M815.0 527.2L824.0 544.2H806.0Z" fill="none"/>
<path d="M726.2 496.0L735.2 513.0H717.3Z" fill="none"/>
<path d="M675.5 487.2L684.5 504.2H666.5Z" fill="none"/>
<path d="M723.0 539.0L732.0 556.0H714.0Z" fill="none"/>
<path d="M928.8 421.0L937.7 438.0H919.8Z" fill="none"/>
<path d="M915.0 468.0L924.0 485.0H906.0Z" fill="none"/>
<path d="M903.8 496.5L912.7 513.5H894.8Z" fill="none"/>
<path d="M882.5 517.2L891.5 534.2H873.5Z" fill="none"/>
<path d="M874.5 523.5L883.5 540.5H865.5Z" fill="none"/>
<path d="M883.8 563.5L892.7 580.5H874.8Z" fill="none"/>
<path d="M707.5 573.5L716.5 590.5H698.5Z" fill="none"/>
<path d="M798.8 573.5L807.7 590.5H789.8Z" fill="none"/>
</g>
<g fill="none" stroke="#000" stroke-width="3" stroke-linecap="round" stroke-linejoin="round">
<path d="M195.0 324.5C201.7 326.4 224.2 332.6 235.0 336.0C245.8 339.4 253.8 343.1 260.0 345.0C266.2 346.9 265.3 347.1 272.0 347.5C278.7 347.9 289.5 346.2 300.0 347.5C310.5 348.8 325.0 352.2 335.0 355.0C345.0 357.8 348.8 359.8 360.0 364.0C371.2 368.2 390.0 374.8 402.5 380.0C415.0 385.2 424.6 388.8 435.0 395.0C445.4 401.2 455.0 409.6 465.0 417.5C475.0 425.4 485.8 435.4 495.0 442.5C504.2 449.6 513.3 456.1 520.0 460.0C526.7 463.9 528.3 464.2 535.0 466.0C541.7 467.8 549.6 468.8 560.0 471.0C570.4 473.2 586.7 477.5 597.5 479.0C608.3 480.5 614.6 478.8 625.0 480.0C635.4 481.2 650.0 484.3 660.0 486.0C670.0 487.7 674.6 487.7 685.0 490.0C695.4 492.3 710.0 496.0 722.5 500.0C735.0 504.0 747.5 509.4 760.0 514.0C772.5 518.6 785.0 522.3 797.5 527.5C810.0 532.7 820.6 537.8 835.0 545.0C849.4 552.2 875.6 566.7 883.8 571.0"/>
<path d="M410.0 189.0C409.3 195.0 408.1 212.8 406.0 225.0C403.9 237.2 401.0 251.2 397.5 262.5C394.0 273.8 388.8 281.2 385.0 292.5C381.2 303.8 378.3 317.1 375.0 330.0C371.7 342.9 367.5 361.0 365.0 370.0C362.5 379.0 363.3 376.7 360.0 384.0C356.7 391.3 349.6 404.7 345.0 414.0C340.4 423.3 337.9 429.0 332.5 440.0C327.1 451.0 318.1 468.3 312.5 480.0C306.9 491.7 301.0 505.0 298.8 510.0"/>
<path d="M513.8 550.0C517.3 542.5 527.7 518.3 535.0 505.0C542.3 491.7 550.0 480.8 557.5 470.0C565.0 459.2 572.9 450.8 580.0 440.0C587.1 429.2 594.6 415.0 600.0 405.0C605.4 395.0 607.5 392.5 612.5 380.0C617.5 367.5 625.0 346.7 630.0 330.0C635.0 313.3 637.5 295.3 642.5 280.0C647.5 264.7 653.4 253.0 660.0 238.0C666.6 223.0 678.3 198.0 682.0 190.0"/>
<path d="M642.5 545.0C645.4 540.0 654.6 524.2 660.0 515.0C665.4 505.8 671.5 500.0 675.0 490.0C678.5 480.0 678.1 467.1 681.0 455.0C683.9 442.9 687.2 430.0 692.5 417.5C697.8 405.0 707.1 392.1 712.5 380.0C717.9 367.9 720.8 356.2 725.0 345.0C729.2 333.8 735.8 317.9 738.0 312.5"/>
<path d="M798.8 580.0C801.5 572.5 809.0 550.0 815.0 535.0C821.0 520.0 829.6 503.3 835.0 490.0C840.4 476.7 844.2 467.1 847.5 455.0C850.8 442.9 852.3 430.0 855.0 417.5C857.7 405.0 861.2 388.9 863.8 380.0C866.2 371.1 867.3 369.2 870.0 364.0C872.7 358.8 874.0 355.6 880.0 349.0C886.0 342.4 897.2 332.7 906.0 324.5C914.8 316.3 928.1 304.1 932.5 300.0"/>
</g>
<g stroke="#1c1c1c" stroke-width="2.8" stroke-linejoin="round">
<path d="M267.5 340.5L276.4 357.5H258.6Z" fill="#ff0808"/>
<path d="M379.5 286.0L388.4 303.0H370.6Z" fill="#ff0808"/>
<path d="M560.0 346.0L569.0 363.0H551.0Z" fill="#ff0808"/>
<path d="M601.2 362.2L610.2 379.2H592.3Z" fill="#ff0808"/>
<path d="M397.5 359.0L406.4 376.0H388.6Z" fill="#ff0808"/>
<path d="M552.5 378.5L561.5 395.5H543.5Z" fill="#ff0808"/>
<path d="M618.8 456.0L627.7 473.0H609.8Z" fill="#ff0808"/>
<path d="M753.8 410.5L762.7 427.5H744.8Z" fill="#ff0808"/>
<path d="M915.0 496.0L924.0 513.0H906.0Z" fill="#ff0808"/>
</g>
</g>
<text class="m b" filter="url(#hl)" x="416" y="277" font-size="32" textLength="158" lengthAdjust="spacing">Mirandola</text>
<text class="m b" filter="url(#hl)" x="187" y="303.5" font-size="27.5">M5</text>
<text class="m b" filter="url(#hl)" x="249" y="493.5" font-size="27.5">M1</text>
<text class="m b" filter="url(#hl)" x="459.5" y="536" font-size="27.5">M2</text>
<text class="m b" filter="url(#hl)" x="579.5" y="573.5" font-size="27.5">M3</text>
<text class="m b" filter="url(#hl)" x="749.5" y="573.5" font-size="27.5">M4</text>
<g stroke="#000" stroke-width="1.6">
<path d="M139 2V14M139 723V735"/>
<path d="M423 2V14M423 723V735"/>
<path d="M707 2V14M707 723V735"/>
<path d="M991 2V14M991 723V735"/>
<path d="M2 277H15M1060 277H1072"/>
<path d="M2 678H15M1060 678H1072"/>
</g>
<text class="m t" x="139" y="39" font-size="22" text-anchor="middle">10.9</text>
<text class="m t" x="423" y="39" font-size="22" text-anchor="middle">11</text>
<text class="m t" x="707" y="39" font-size="22" text-anchor="middle">11.1</text>
<text class="m t" x="991" y="39" font-size="22" text-anchor="middle">11.2</text>
<text class="m t" x="1054" y="285" font-size="22" text-anchor="end">44.9</text>
<text class="m t" x="1054" y="686" font-size="22" text-anchor="end">44.8</text>
<rect x="28.5" y="699.5" width="144" height="9" fill="#fff" stroke="#000" stroke-width="1.4"/><rect x="28" y="699" width="73" height="10" fill="#000"/>
<text class="m t" filter="url(#hl)" x="29" y="679" font-size="21.5" text-anchor="middle">0</text><text class="m t" filter="url(#hl)" x="101" y="679" font-size="21.5" text-anchor="middle">2</text><text class="m t" filter="url(#hl)" x="166.5" y="679" font-size="21.5">4 km</text>
<rect x="1.5" y="1.25" width="1070" height="734.5" fill="none" stroke="#000" stroke-width="3"/>
<circle cx="37.8" cy="46.2" r="29.6" fill="#fff" stroke="#000" stroke-width="1.2"/><text class="p" x="37.8" y="62" font-size="49" text-anchor="middle">a</text>
</g>
<rect x="1105.5" y="215.5" width="39" height="305" fill="url(#cb)" stroke="#444" stroke-width="1.2"/>
<g stroke="#333" stroke-width="1.2">
<path d="M1140 266H1144.5"/>
<path d="M1140 324.5H1144.5"/>
<path d="M1140 383H1144.5"/>
<path d="M1140 441.5H1144.5"/>
<path d="M1140 500H1144.5"/>
</g>
<text class="c" x="1153" y="274" font-size="23">-60</text>
<text class="c" x="1153" y="332.5" font-size="23">-80</text>
<text class="c" x="1153" y="391" font-size="23">-100</text>
<text class="c" x="1153" y="449.5" font-size="23">-120</text>
<text class="c" x="1153" y="508" font-size="23">-140</text>
<g id="panel-b">
<rect x="2" y="819" width="1072" height="734" fill="#efeff0"/>
<g clip-path="url(#fb)">
<g fill="none" stroke="#d4d3d9" stroke-linecap="round" stroke-linejoin="round">
<path d="M3.0 892.0C8.0 893.3 22.3 895.8 33.0 900.0C43.7 904.2 55.8 911.2 67.0 917.0C78.2 922.8 87.3 929.2 100.0 935.0C112.7 940.8 130.8 947.5 143.0 952.0C155.2 956.5 163.5 958.7 173.0 962.0C182.5 965.3 192.2 968.5 200.0 972.0C207.8 975.5 215.0 978.8 220.0 983.0C225.0 987.2 227.8 991.3 230.0 997.0C232.2 1002.7 233.0 1010.3 233.0 1017.0C233.0 1023.7 231.7 1029.8 230.0 1037.0C228.3 1044.2 224.7 1052.3 223.0 1060.0C221.3 1067.7 220.5 1075.8 220.0 1083.0C219.5 1090.2 218.3 1098.0 220.0 1103.0C221.7 1108.0 225.5 1111.0 230.0 1113.0C234.5 1115.0 240.8 1116.0 247.0 1115.0C253.2 1114.0 259.3 1110.0 267.0 1107.0C274.7 1104.0 284.2 1099.8 293.0 1097.0C301.8 1094.2 308.0 1092.0 320.0 1090.0C332.0 1088.0 357.5 1083.5 365.0 1085.0C372.5 1086.5 372.5 1096.0 365.0 1099.0C357.5 1102.0 332.0 1101.2 320.0 1103.0C308.0 1104.8 301.8 1107.5 293.0 1110.0C284.2 1112.5 272.5 1115.2 267.0 1118.0C261.5 1120.8 264.5 1123.8 260.0 1127.0C255.5 1130.2 247.2 1134.8 240.0 1137.0C232.8 1139.2 223.2 1140.8 217.0 1140.0C210.8 1139.2 206.2 1135.8 203.0 1132.0C199.8 1128.2 198.8 1122.8 198.0 1117.0C197.2 1111.2 197.2 1104.3 198.0 1097.0C198.8 1089.7 200.5 1081.3 203.0 1073.0C205.5 1064.7 210.7 1055.8 213.0 1047.0C215.3 1038.2 217.0 1027.8 217.0 1020.0C217.0 1012.2 215.8 1005.5 213.0 1000.0C210.2 994.5 205.5 990.8 200.0 987.0C194.5 983.2 188.3 979.0 180.0 977.0C171.7 975.0 159.5 975.8 150.0 975.0C140.5 974.2 131.3 975.0 123.0 972.0C114.7 969.0 109.3 963.7 100.0 957.0C90.7 950.3 78.2 939.5 67.0 932.0C55.8 924.5 43.7 916.8 33.0 912.0C22.3 907.2 8.0 904.5 3.0 903.0Z" fill="#d3d2d9" stroke="none"/>
<path d="M737.0 1288.0C740.1 1288.1 747.3 1289.3 755.4 1288.6C763.5 1287.9 776.0 1286.4 785.5 1283.9C795.0 1281.4 804.0 1278.1 812.4 1273.4C820.8 1268.8 829.1 1262.1 836.0 1256.0C842.9 1249.9 846.8 1243.1 853.6 1237.0C860.4 1230.9 869.9 1225.1 877.0 1219.6C884.1 1214.0 889.9 1209.1 896.0 1203.7C902.1 1198.3 906.7 1191.6 913.7 1187.0C920.7 1182.4 930.3 1178.8 938.0 1176.0C945.7 1173.2 952.3 1172.1 960.0 1170.0C967.7 1167.9 976.0 1166.2 984.0 1163.5C992.0 1160.8 1000.5 1157.4 1008.0 1154.0C1015.5 1150.6 1021.5 1145.9 1029.0 1143.0C1036.5 1140.1 1045.2 1137.7 1053.0 1136.5C1060.8 1135.3 1072.2 1136.1 1076.0 1136.0" stroke-width="14"/>
<path d="M250.0 1128.0C250.7 1131.7 253.5 1141.3 254.0 1150.0C254.5 1158.7 252.6 1169.7 253.0 1180.0C253.4 1190.3 255.5 1201.5 256.5 1212.0C257.5 1222.5 260.1 1230.0 259.0 1243.0C257.9 1256.0 254.2 1276.8 250.0 1290.0C245.8 1303.2 239.2 1312.8 234.0 1322.0C228.8 1331.2 223.7 1337.0 218.5 1345.0C213.3 1353.0 207.8 1359.5 203.0 1370.0C198.2 1380.5 193.8 1395.8 190.0 1408.0C186.2 1420.2 182.1 1437.2 180.5 1443.0" stroke-width="4.5"/>
</g>
<path d="M892 1446L904 1418L920 1393L935 1366L950 1339M238 858L282 873L326 888L371 901L416 914M152 765L178 827L191 894M413 1184L455 1160L497 1138L537 1112L578 1087M1038 1460L1057 1504L1071 1550L1088 1595L1110 1637M379 1456L432 1445L483 1423M-16 1056L36 1077L84 1104L132 1132M318 884L331 829L351 776M788 934L834 944L878 960L923 973M110 1163L123 1141L137 1119L149 1095M349 1427L426 1438L503 1451M814 1104L826 1059L840 1014M625 1035L636 1063L646 1092L655 1121L668 1149M167 1238L245 1272L322 1309M393 1162L419 1171L445 1179M730 1098L744 1053L757 1008L776 964L794 921M530 1420L579 1433L625 1454L671 1473M445 854L468 860L490 869L514 873M980 1264L1014 1287L1050 1306L1085 1328L1122 1346M1005 906L1019 857L1037 808L1052 759M489 1337L537 1351L587 1358L635 1375L685 1384M914 1438L966 1463L1019 1484M383 836L409 829L435 824M386 1423L407 1380L429 1337L451 1294M610 1190L627 1179L646 1172L665 1164L683 1155M92 1249L134 1263L177 1275L218 1292M241 1372L278 1288L306 1199M177 931L228 920L279 912M81 1259L107 1196L135 1133L166 1071M1048 1125L1056 1151L1062 1177M589 958L611 1047L637 1134M860 984L890 997L922 1003M604 1376L655 1390L704 1412L755 1427L804 1447M4 1067L24 1027L43 986L63 946L84 906M725 1034L738 1008L751 983L763 957L779 933M524 1438L583 1455L641 1475L700 1488M850 1467L855 1498L859 1529M814 1150L846 1053L872 954M415 1116L461 1024L489 925M329 1389L360 1401L391 1412M679 1531L709 1519L739 1508L770 1499L801 1489M148 1099L171 1163L193 1227L208 1293M852 1557L883 1543L914 1529L943 1513L972 1496M1024 1251L1030 1224L1036 1196L1043 1169L1054 1144M1011 1538L1022 1510L1032 1483L1046 1457M109 1148L114 1133L121 1120L126 1106M-66 1001L14 1030L97 1048M891 1196L903 1236L916 1277L929 1317L942 1357M514 1475L579 1454L645 1437M76 1515L126 1503L173 1485L220 1466M1042 1460L1073 1468L1104 1475M864 1215L888 1127L920 1041M522 1060L584 1069L644 1083L704 1101M833 1424L893 1402L955 1387M489 966L518 961L548 956M44 1461L71 1516L95 1573M156 1121L229 1099L299 1065M371 1565L399 1496L419 1424M686 1423L733 1442L782 1457L829 1477M244 1568L285 1491L318 1410M710 1463L731 1408L751 1352L780 1300M-13 1153L-4 1115L7 1078L24 1043L36 1006M562 1188L595 1204L628 1220L661 1237M623 1380L649 1368L675 1357L702 1345M203 1468L237 1475L271 1483L304 1494L339 1499M43 1336L82 1257L131 1183M153 1251L182 1182L212 1113M627 1130L634 1108L644 1088L653 1067L662 1046M231 843L248 846L264 852L281 856L298 858M68 1426L79 1464L85 1503L98 1540M677 1120L776 1165L879 1199M80 1470L127 1447L175 1427M620 1212L634 1264L651 1315L663 1368M219 995L240 949L257 903L274 855L296 810M166 1036L206 1024L246 1012M5 844L32 854L60 864L88 876M77 1383L90 1350L98 1317L106 1283L114 1249M887 901L895 888L903 875L910 861L917 848M347 1395L377 1329L415 1267L454 1206M306 855L397 891L490 925M652 1069L735 1035L822 1012M253 1386L305 1367L353 1341L403 1320M105 1407L120 1375L131 1341L144 1308L154 1274M1020 1418L1037 1354L1054 1290M596 1483L622 1432L644 1379L670 1327M10 1192L95 1147L179 1098M953 1261L1037 1299L1124 1330M-2 1403L84 1350L177 1311M661 985L679 991L698 998L717 1005L735 1013M499 1292L516 1253L528 1212L546 1174L567 1137" fill="none" stroke="#fff" stroke-width="1" opacity=".6" stroke-linejoin="round"/>
<g fill="none" stroke="#fff" stroke-width="1.4" stroke-linecap="round" stroke-linejoin="round" opacity=".8">
<path d="M2.0 960.0L60.0 1000.0L120.0 1030.0L200.0 1040.0L280.0 1070.0L340.0 1085.0"/>
<path d="M120.0 1030.0L160.0 980.0L200.0 960.0L260.0 940.0L300.0 900.0L310.0 830.0"/>
<path d="M620.0 819.0L640.0 870.0L680.0 900.0L760.0 920.0L820.0 960.0L880.0 1000.0"/>
<path d="M960.0 819.0L900.0 900.0L850.0 980.0L800.0 1060.0L770.0 1120.0"/>
<path d="M770.0 1120.0L850.0 1110.0L950.0 1130.0L1072.0 1100.0"/>
<path d="M2.0 1250.0L60.0 1260.0L120.0 1300.0L200.0 1330.0L260.0 1400.0L330.0 1450.0L400.0 1480.0L480.0 1553.0"/>
<path d="M100.0 1300.0L60.0 1400.0L2.0 1440.0"/>
<path d="M260.0 1400.0L200.0 1470.0L150.0 1553.0"/>
<path d="M700.0 1400.0L760.0 1380.0L850.0 1400.0L950.0 1380.0L1072.0 1400.0"/>
<path d="M820.0 1250.0L860.0 1300.0L900.0 1350.0L950.0 1380.0"/>
<path d="M700.0 1480.0L780.0 1500.0L860.0 1490.0L960.0 1470.0L1072.0 1440.0"/>
<path d="M720.0 1300.0L730.0 1400.0L740.0 1500.0L745.0 1553.0"/>
<path d="M1000.0 1300.0L990.0 1400.0L1000.0 1500.0L1010.0 1553.0"/>
<path d="M400.0 819.0L420.0 880.0L410.0 930.0"/>
<path d="M820.0 819.0L830.0 880.0L880.0 940.0L940.0 960.0L1072.0 940.0"/>
</g>
<path d="M700 1440L760 1425L830 1440L850 1480L840 1553L690 1553Z" fill="#fff" opacity=".35"/>
<g fill="none" stroke="#d9d9db" stroke-width="1.2">
<path d="M853.0 921.0L900.0 940.0L960.0 960.0L1020.0 980.0L1074.0 996.0"/>
<path d="M1074.0 1443.0L1058.0 1449.0L1048.0 1474.0L1017.0 1487.0L969.0 1506.0L922.0 1525.0L890.0 1541.0L858.0 1547.0L827.0 1549.0L760.0 1552.0"/>
<path d="M712.7 1300.0L711.0 1350.0L709.5 1402.0L706.0 1450.0L700.0 1500.0L690.0 1553.0"/>
<path d="M757.0 1300.0L750.0 1380.0L745.0 1440.0L730.0 1500.0L715.0 1553.0"/>
</g>
<g clip-path="url(#cpb)"><g filter="url(#cm)">
<path fill="#0d0d0d" d="M697 1334h11v11h-11z"/><path fill="#0f0f0f" d="M697 1344h11v11h-11z"/><path fill="#1a1a1a" d="M707 1344h11v11h-11z"/><path fill="#1f1f1f" d="M707 1334h11v11h-11z"/><path fill="#242424" d="M697 1324h11v11h-11zM697 1354h11v11h-11zM607 1424h11v11h-11z"/><path fill="#292929" d="M687 1334h11v11h-11zM687 1344h11v11h-11z"/><path fill="#2b2b2b" d="M707 1354h11v11h-11zM597 1424h11v11h-11z"/><path fill="#2e2e2e" d="M707 1324h11v11h-11zM607 1414h11v11h-11zM607 1434h11v11h-11z"/><path fill="#303030" d="M597 1414h11v11h-11z"/><path fill="#333333" d="M717 1344h11v11h-11zM617 1424h11v11h-11z"/><path fill="#363636" d="M687 1324h11v11h-11zM687 1354h11v11h-11zM597 1434h11v11h-11z"/><path fill="#383838" d="M697 1314h11v11h-11zM717 1334h11v11h-11zM617 1414h11v11h-11z"/><path fill="#3b3b3b" d="M717 1354h11v11h-11zM607 1404h11v11h-11zM617 1434h11v11h-11z"/><path fill="#3d3d3d" d="M707 1314h11v11h-11zM597 1404h11v11h-11z"/><path fill="#404040" d="M587 1414h11v11h-11zM587 1424h11v11h-11zM607 1444h11v11h-11z"/><path fill="#424242" d="M717 1324h11v11h-11zM617 1404h11v11h-11z"/><path fill="#454545" d="M687 1314h11v11h-11zM717 1314h11v11h-11zM727 1344h11v11h-11z"/><path fill="#474747" d="M707 1304h21v11h-21zM727 1334h11v11h-11zM587 1404h11v11h-11z"/><path fill="#4a4a4a" d="M697 1304h11v11h-11zM727 1304h11v11h-11zM697 1364h21v11h-21zM607 1394h11v11h-11zM627 1414h11v11h-11zM627 1424h11v11h-11zM587 1434h11v11h-11zM597 1444h11v11h-11zM617 1444h11v11h-11z"/><path fill="#4c4c4c" d="M727 1314h11v11h-11zM727 1324h11v11h-11zM727 1354h11v11h-11zM597 1394h11v11h-11zM607 1454h11v11h-11z"/><path fill="#4f4f4f" d="M717 1294h21v11h-21zM677 1344h11v11h-11zM677 1354h11v11h-11zM617 1394h11v11h-11zM627 1404h11v11h-11zM577 1414h11v11h-11z"/><path fill="#525252" d="M677 1334h11v11h-11zM687 1364h11v11h-11zM717 1364h11v11h-11zM577 1404h11v11h-11zM577 1424h11v11h-11zM627 1434h11v11h-11zM607 1464h11v11h-11z"/><path fill="#545454" d="M707 1294h11v11h-11zM687 1304h11v11h-11zM737 1304h11v11h-11zM737 1314h11v11h-11zM677 1324h11v11h-11zM737 1324h11v11h-11zM737 1334h11v11h-11zM737 1344h11v11h-11zM587 1394h11v11h-11zM617 1454h11v11h-11z"/><path fill="#575757" d="M627 1394h11v11h-11zM597 1454h11v11h-11z"/><path fill="#595959" d="M697 1294h11v11h-11zM737 1294h11v11h-11zM677 1314h11v11h-11zM597 1384h21v11h-21zM577 1394h11v11h-11zM567 1404h11v11h-11zM567 1414h11v11h-11zM587 1444h11v11h-11zM617 1464h11v11h-11zM607 1474h11v11h-11z"/><path fill="#5c5c5c" d="M737 1354h11v11h-11zM677 1364h11v11h-11zM507 1374h21v11h-21zM507 1384h41v11h-41zM617 1384h11v11h-11zM527 1394h21v11h-21zM577 1434h11v11h-11z"/><path fill="#5e5e5e" d="M667 1354h11v11h-11zM497 1374h11v11h-11zM527 1374h11v11h-11zM497 1384h11v11h-11zM547 1384h11v11h-11zM587 1384h11v11h-11zM517 1394h11v11h-11zM547 1394h31v11h-31zM547 1404h21v11h-21zM637 1404h11v11h-11zM637 1414h11v11h-11zM567 1424h11v11h-11zM627 1444h11v11h-11zM597 1464h11v11h-11zM617 1474h11v11h-11z"/><path fill="#616161" d="M717 1284h21v11h-21zM677 1304h11v11h-11zM747 1304h11v11h-11zM667 1344h11v11h-11zM497 1364h31v11h-31zM487 1374h11v11h-11zM537 1374h11v11h-11zM487 1384h11v11h-11zM557 1384h11v11h-11zM577 1384h11v11h-11zM627 1384h11v11h-11zM507 1394h11v11h-11zM637 1394h11v11h-11zM527 1404h21v11h-21zM557 1414h11v11h-11zM637 1424h11v11h-11z"/><path fill="#636363" d="M707 1284h11v11h-11zM687 1294h11v11h-11zM487 1364h11v11h-11zM527 1364h11v11h-11zM667 1364h11v11h-11zM477 1374h11v11h-11zM547 1374h11v11h-11zM567 1384h11v11h-11zM497 1394h11v11h-11zM517 1404h11v11h-11zM547 1414h11v11h-11zM597 1474h11v11h-11zM607 1484h11v11h-11z"/><path fill="#666666" d="M747 1294h11v11h-11zM507 1354h11v11h-11zM657 1354h11v11h-11zM537 1364h11v11h-11zM557 1374h11v11h-11zM597 1374h31v11h-31zM477 1384h11v11h-11zM637 1384h11v11h-11zM487 1394h11v11h-11zM507 1404h11v11h-11zM537 1414h11v11h-11zM557 1424h11v11h-11zM587 1454h11v11h-11zM627 1454h11v11h-11z"/><path fill="#696969" d="M737 1284h11v11h-11zM667 1334h11v11h-11zM497 1354h11v11h-11zM517 1354h11v11h-11zM477 1364h11v11h-11zM657 1364h11v11h-11zM467 1374h11v11h-11zM567 1374h31v11h-31zM627 1374h11v11h-11zM497 1404h11v11h-11zM527 1414h11v11h-11zM567 1434h11v11h-11zM637 1434h11v11h-11zM577 1444h11v11h-11zM627 1464h11v11h-11zM617 1484h11v11h-11z"/><path fill="#6b6b6b" d="M697 1284h11v11h-11zM617 1314h21v11h-21zM667 1314h11v11h-11zM617 1324h31v11h-31zM667 1324h11v11h-11zM657 1344h11v11h-11zM487 1354h11v11h-11zM527 1354h11v11h-11zM647 1354h11v11h-11zM467 1364h11v11h-11zM547 1364h11v11h-11zM647 1364h11v11h-11zM637 1374h21v11h-21zM717 1374h11v11h-11zM467 1384h11v11h-11zM647 1384h11v11h-11zM477 1394h11v11h-11zM517 1414h11v11h-11zM547 1424h11v11h-11zM597 1484h11v11h-11z"/><path fill="#6e6e6e" d="M677 1294h11v11h-11zM607 1304h21v11h-21zM667 1304h11v11h-11zM607 1314h11v11h-11zM637 1314h11v11h-11zM607 1324h11v11h-11zM617 1334h51v11h-51zM647 1344h11v11h-11zM557 1364h11v11h-11zM587 1364h61v11h-61zM457 1374h11v11h-11zM657 1374h21v11h-21zM707 1374h11v11h-11zM647 1394h11v11h-11zM487 1404h11v11h-11zM647 1404h11v11h-11zM507 1414h11v11h-11zM537 1424h11v11h-11zM627 1474h11v11h-11zM607 1494h11v11h-11z"/><path fill="#707070" d="M607 1294h21v11h-21zM597 1304h11v11h-11zM627 1304h11v11h-11zM597 1314h11v11h-11zM597 1324h11v11h-11zM647 1324h21v11h-21zM597 1334h21v11h-21zM507 1344h21v11h-21zM627 1344h21v11h-21zM477 1354h11v11h-11zM537 1354h11v11h-11zM637 1354h11v11h-11zM457 1364h11v11h-11zM567 1364h21v11h-21zM677 1374h11v11h-11zM457 1384h11v11h-11zM467 1394h11v11h-11zM647 1414h11v11h-11zM527 1424h11v11h-11zM557 1434h11v11h-11zM637 1444h11v11h-11zM617 1494h11v11h-11z"/><path fill="#737373" d="M447 934h21v11h-21zM607 1284h21v11h-21zM747 1284h11v11h-11zM597 1294h11v11h-11zM627 1294h11v11h-11zM637 1304h11v11h-11zM587 1314h11v11h-11zM647 1314h21v11h-21zM587 1324h11v11h-11zM497 1344h11v11h-11zM527 1344h11v11h-11zM597 1344h31v11h-31zM467 1354h11v11h-11zM587 1354h51v11h-51zM687 1374h21v11h-21zM657 1384h11v11h-11zM477 1404h11v11h-11zM497 1414h11v11h-11zM517 1424h11v11h-11zM647 1424h11v11h-11zM637 1454h11v11h-11zM587 1464h11v11h-11zM627 1484h11v11h-11zM597 1494h11v11h-11zM607 1504h11v11h-11z"/><path fill="#757575" d="M437 934h11v11h-11zM717 1274h21v11h-21zM687 1284h11v11h-11zM587 1304h11v11h-11zM647 1304h21v11h-21zM587 1334h11v11h-11zM487 1344h11v11h-11zM587 1344h11v11h-11zM547 1354h11v11h-11zM567 1354h21v11h-21zM457 1394h11v11h-11zM657 1394h11v11h-11zM487 1414h11v11h-11zM547 1434h11v11h-11zM567 1444h11v11h-11zM627 1494h11v11h-11zM617 1504h11v11h-11z"/><path fill="#787878" d="M467 934h11v11h-11zM447 944h11v11h-11zM617 1274h11v11h-11zM707 1274h11v11h-11zM597 1284h11v11h-11zM627 1284h11v11h-11zM587 1294h11v11h-11zM667 1294h11v11h-11zM577 1304h11v11h-11zM577 1314h11v11h-11zM577 1324h11v11h-11zM577 1334h11v11h-11zM537 1344h11v11h-11zM577 1344h11v11h-11zM457 1354h11v11h-11zM557 1354h11v11h-11zM447 1364h11v11h-11zM447 1374h11v11h-11zM667 1384h11v11h-11zM467 1404h11v11h-11zM657 1404h11v11h-11zM367 1414h21v11h-21zM367 1424h21v11h-21zM507 1424h11v11h-11zM537 1434h11v11h-11zM647 1434h11v11h-11zM577 1454h11v11h-11zM637 1464h11v11h-11zM597 1504h11v11h-11z"/><path fill="#7a7a7a" d="M427 934h11v11h-11zM457 944h11v11h-11zM607 1274h11v11h-11zM577 1294h11v11h-11zM637 1294h11v11h-11zM567 1314h11v11h-11zM507 1334h31v11h-31zM477 1344h11v11h-11zM567 1344h11v11h-11zM447 1384h11v11h-11zM347 1404h51v11h-51zM387 1414h11v11h-11zM477 1414h11v11h-11zM657 1414h11v11h-11zM387 1424h11v11h-11zM497 1424h11v11h-11zM527 1434h11v11h-11zM647 1444h11v11h-11zM637 1474h11v11h-11zM627 1504h11v11h-11z"/><path fill="#7d7d7d" d="M437 944h11v11h-11zM737 1274h11v11h-11zM587 1284h11v11h-11zM677 1284h11v11h-11zM567 1294h11v11h-11zM647 1294h21v11h-21zM567 1304h11v11h-11zM567 1324h11v11h-11zM537 1334h11v11h-11zM567 1334h11v11h-11zM467 1344h11v11h-11zM547 1344h21v11h-21zM447 1354h11v11h-11zM317 1384h21v11h-21zM347 1384h11v11h-11zM317 1394h71v11h-71zM447 1394h11v11h-11zM307 1404h41v11h-41zM397 1404h11v11h-11zM457 1404h11v11h-11zM397 1414h11v11h-11zM397 1424h11v11h-11zM657 1424h11v11h-11zM517 1434h11v11h-11zM557 1444h11v11h-11zM647 1454h11v11h-11zM587 1474h11v11h-11zM637 1484h11v11h-11zM587 1494h11v11h-11zM637 1494h11v11h-11zM587 1504h11v11h-11zM637 1504h11v11h-11z"/><path fill="#808080" d="M477 934h11v11h-11zM597 1274h11v11h-11zM627 1274h11v11h-11zM697 1274h11v11h-11zM577 1284h11v11h-11zM637 1284h11v11h-11zM557 1304h11v11h-11zM557 1314h11v11h-11zM537 1324h31v11h-31zM497 1334h11v11h-11zM547 1334h21v11h-21zM457 1344h11v11h-11zM307 1354h71v11h-71zM307 1364h71v11h-71zM297 1374h81v11h-81zM297 1384h21v11h-21zM337 1384h11v11h-11zM357 1384h31v11h-31zM677 1384h11v11h-11zM307 1394h11v11h-11zM387 1394h11v11h-11zM667 1394h11v11h-11zM447 1404h11v11h-11zM407 1414h11v11h-11zM467 1414h11v11h-11zM407 1424h11v11h-11zM487 1424h11v11h-11zM507 1434h11v11h-11zM657 1434h11v11h-11zM547 1444h11v11h-11zM647 1464h11v11h-11zM647 1474h11v11h-11zM587 1484h11v11h-11zM647 1484h11v11h-11z"/><path fill="#828282" d="M417 934h11v11h-11zM467 944h11v11h-11zM447 954h11v11h-11zM607 1264h21v11h-21zM567 1284h11v11h-11zM667 1284h11v11h-11zM557 1294h11v11h-11zM547 1314h11v11h-11zM517 1324h21v11h-21zM487 1334h11v11h-11zM307 1344h61v11h-61zM447 1344h11v11h-11zM297 1354h11v11h-11zM297 1364h11v11h-11zM287 1374h11v11h-11zM377 1374h11v11h-11zM287 1384h11v11h-11zM717 1384h11v11h-11zM397 1394h11v11h-11zM437 1394h11v11h-11zM407 1404h11v11h-11zM437 1404h11v11h-11zM667 1404h11v11h-11zM417 1414h11v11h-11zM457 1414h11v11h-11zM667 1414h11v11h-11zM417 1424h11v11h-11zM477 1424h11v11h-11zM497 1434h11v11h-11zM527 1444h21v11h-21zM657 1444h11v11h-11zM567 1454h11v11h-11zM657 1454h11v11h-11zM657 1464h11v11h-11zM657 1474h11v11h-11zM657 1484h11v11h-11zM647 1494h11v11h-11zM577 1504h11v11h-11zM647 1504h11v11h-11z"/><path fill="#858585" d="M487 934h11v11h-11zM427 944h11v11h-11zM627 1264h11v11h-11zM587 1274h11v11h-11zM747 1274h11v11h-11zM547 1304h11v11h-11zM507 1324h11v11h-11zM317 1334h11v11h-11zM437 1334h11v11h-11zM477 1334h11v11h-11zM297 1344h11v11h-11zM367 1344h11v11h-11zM287 1354h11v11h-11zM377 1354h11v11h-11zM287 1364h11v11h-11zM377 1364h11v11h-11zM437 1364h11v11h-11zM277 1374h11v11h-11zM437 1374h11v11h-11zM277 1384h11v11h-11zM387 1384h11v11h-11zM437 1384h11v11h-11zM417 1404h21v11h-21zM427 1414h31v11h-31zM427 1424h11v11h-11zM667 1424h11v11h-11zM487 1434h11v11h-11zM667 1434h11v11h-11zM517 1444h11v11h-11zM577 1494h11v11h-11zM657 1494h11v11h-11zM657 1504h11v11h-11z"/><path fill="#878787" d="M477 944h11v11h-11zM437 954h11v11h-11zM457 954h11v11h-11zM597 1264h11v11h-11zM717 1264h11v11h-11zM577 1274h11v11h-11zM637 1274h11v11h-11zM687 1274h11v11h-11zM557 1284h11v11h-11zM647 1284h21v11h-21zM537 1314h11v11h-11zM437 1324h11v11h-11zM307 1334h11v11h-11zM327 1334h11v11h-11zM357 1334h21v11h-21zM447 1334h11v11h-11zM467 1334h11v11h-11zM287 1344h11v11h-11zM377 1344h11v11h-11zM437 1344h11v11h-11zM277 1354h11v11h-11zM437 1354h11v11h-11zM277 1364h11v11h-11zM267 1374h11v11h-11zM257 1384h21v11h-21zM707 1384h11v11h-11zM407 1394h11v11h-11zM437 1424h41v11h-41zM437 1434h11v11h-11zM477 1434h11v11h-11zM437 1444h11v11h-11zM497 1444h21v11h-21zM667 1444h11v11h-11zM557 1454h11v11h-11zM667 1454h11v11h-11zM577 1464h11v11h-11zM667 1464h11v11h-11zM667 1474h11v11h-11zM667 1484h11v11h-11zM667 1494h11v11h-11zM567 1504h11v11h-11z"/><path fill="#8a8a8a" d="M497 934h11v11h-11zM607 1254h21v11h-21zM707 1264h11v11h-11zM727 1264h11v11h-11zM567 1274h11v11h-11zM677 1274h11v11h-11zM547 1294h11v11h-11zM537 1304h11v11h-11zM527 1314h11v11h-11zM307 1324h21v11h-21zM357 1324h11v11h-11zM497 1324h11v11h-11zM297 1334h11v11h-11zM337 1334h21v11h-21zM377 1334h11v11h-11zM457 1334h11v11h-11zM277 1344h11v11h-11zM267 1364h11v11h-11zM257 1374h11v11h-11zM387 1374h11v11h-11zM247 1384h11v11h-11zM417 1394h21v11h-21zM677 1394h11v11h-11zM677 1404h11v11h-11zM677 1414h11v11h-11zM677 1424h11v11h-11zM447 1434h31v11h-31zM677 1434h11v11h-11zM447 1444h11v11h-11zM487 1444h11v11h-11zM677 1444h11v11h-11zM437 1454h21v11h-21zM527 1454h31v11h-31zM677 1464h11v11h-11zM677 1474h11v11h-11zM567 1494h11v11h-11zM667 1504h11v11h-11z"/><path fill="#8c8c8c" d="M417 944h11v11h-11zM627 1254h11v11h-11zM587 1264h11v11h-11zM637 1264h11v11h-11zM557 1274h11v11h-11zM547 1284h11v11h-11zM247 1314h21v11h-21zM307 1314h21v11h-21zM357 1314h11v11h-11zM517 1314h11v11h-11zM257 1324h21v11h-21zM327 1324h11v11h-11zM367 1324h11v11h-11zM487 1324h11v11h-11zM267 1334h31v11h-31zM267 1344h11v11h-11zM267 1354h11v11h-11zM247 1364h21v11h-21zM387 1364h11v11h-11zM247 1374h11v11h-11zM397 1384h11v11h-11zM427 1384h11v11h-11zM457 1444h31v11h-31zM457 1454h71v11h-71zM677 1454h11v11h-11zM577 1484h11v11h-11zM557 1504h11v11h-11z"/><path fill="#8f8f8f" d="M487 944h11v11h-11zM427 954h11v11h-11zM467 954h11v11h-11zM597 1254h11v11h-11zM697 1264h11v11h-11zM737 1264h11v11h-11zM547 1274h11v11h-11zM647 1274h31v11h-31zM537 1294h11v11h-11zM297 1304h31v11h-31zM527 1304h11v11h-11zM237 1314h11v11h-11zM267 1314h41v11h-41zM327 1314h31v11h-31zM367 1314h11v11h-11zM507 1314h11v11h-11zM217 1324h21v11h-21zM247 1324h11v11h-11zM277 1324h31v11h-31zM337 1324h21v11h-21zM377 1324h11v11h-11zM427 1324h11v11h-11zM477 1324h11v11h-11zM217 1334h11v11h-11zM257 1334h11v11h-11zM387 1334h11v11h-11zM427 1334h11v11h-11zM217 1344h11v11h-11zM257 1344h11v11h-11zM387 1344h11v11h-11zM427 1344h11v11h-11zM217 1354h21v11h-21zM247 1354h21v11h-21zM387 1354h11v11h-11zM687 1384h21v11h-21zM687 1424h11v11h-11zM687 1434h11v11h-11zM687 1444h11v11h-11zM687 1454h11v11h-11zM487 1464h91v11h-91zM487 1474h31v11h-31zM567 1484h11v11h-11zM557 1494h11v11h-11z"/><path fill="#919191" d="M507 934h11v11h-11zM607 1244h31v11h-31zM587 1254h11v11h-11zM637 1254h11v11h-11zM557 1264h31v11h-31zM647 1264h11v11h-11zM747 1264h11v11h-11zM537 1284h11v11h-11zM217 1294h11v11h-11zM307 1294h11v11h-11zM527 1294h11v11h-11zM217 1304h41v11h-41zM277 1304h21v11h-21zM327 1304h41v11h-41zM517 1304h11v11h-11zM377 1314h11v11h-11zM437 1314h11v11h-11zM497 1314h11v11h-11zM237 1324h11v11h-11zM387 1324h11v11h-11zM447 1324h31v11h-31zM227 1334h31v11h-31zM227 1344h31v11h-31zM237 1354h11v11h-11zM427 1354h11v11h-11zM427 1374h11v11h-11zM717 1394h11v11h-11zM687 1414h11v11h-11zM517 1474h31v11h-31zM577 1474h11v11h-11zM557 1484h11v11h-11z"/><path fill="#949494" d="M497 944h11v11h-11zM477 954h11v11h-11zM597 1244h11v11h-11zM637 1244h11v11h-11zM647 1254h11v11h-11zM707 1254h21v11h-21zM547 1264h11v11h-11zM657 1264h11v11h-11zM687 1264h11v11h-11zM757 1264h11v11h-11zM537 1274h11v11h-11zM527 1284h11v11h-11zM227 1294h21v11h-21zM287 1294h21v11h-21zM317 1294h41v11h-41zM517 1294h11v11h-11zM257 1304h21v11h-21zM367 1304h11v11h-11zM497 1304h21v11h-21zM387 1314h11v11h-11zM427 1314h11v11h-11zM447 1314h11v11h-11zM477 1314h21v11h-21zM397 1324h11v11h-11zM397 1334h11v11h-11zM427 1364h11v11h-11zM397 1374h11v11h-11zM407 1384h21v11h-21zM687 1404h11v11h-11zM697 1434h11v11h-11zM697 1444h11v11h-11zM697 1454h11v11h-11zM547 1474h31v11h-31z"/><path fill="#969696" d="M517 934h11v11h-11zM597 1234h41v11h-41zM587 1244h11v11h-11zM647 1244h11v11h-11zM557 1254h31v11h-31zM727 1254h11v11h-11zM537 1264h11v11h-11zM667 1264h21v11h-21zM767 1264h11v11h-11zM527 1274h11v11h-11zM237 1284h11v11h-11zM287 1284h71v11h-71zM517 1284h11v11h-11zM247 1294h11v11h-11zM277 1294h11v11h-11zM357 1294h11v11h-11zM497 1294h21v11h-21zM377 1304h11v11h-11zM427 1304h21v11h-21zM477 1304h21v11h-21zM397 1314h11v11h-11zM457 1314h21v11h-21zM397 1344h11v11h-11zM687 1394h11v11h-11zM707 1394h11v11h-11zM697 1414h11v11h-11zM697 1424h11v11h-11z"/><path fill="#999999" d="M507 944h11v11h-11zM417 954h11v11h-11zM487 954h11v11h-11zM437 964h21v11h-21zM597 1224h31v11h-31zM587 1234h11v11h-11zM637 1234h31v11h-31zM577 1244h11v11h-11zM657 1244h11v11h-11zM547 1254h11v11h-11zM657 1254h11v11h-11zM697 1254h11v11h-11zM737 1254h11v11h-11zM247 1264h21v11h-21zM527 1264h11v11h-11zM237 1274h121v11h-121zM507 1274h21v11h-21zM247 1284h41v11h-41zM357 1284h11v11h-11zM497 1284h21v11h-21zM257 1294h21v11h-21zM367 1294h11v11h-11zM477 1294h21v11h-21zM387 1304h21v11h-21zM417 1304h11v11h-11zM447 1304h11v11h-11zM467 1304h11v11h-11zM407 1314h21v11h-21zM407 1324h11v11h-11zM407 1334h21v11h-21zM417 1344h11v11h-11zM397 1354h11v11h-11zM397 1364h11v11h-11zM697 1394h11v11h-11zM697 1404h11v11h-11zM717 1404h11v11h-11z"/><path fill="#9c9c9c" d="M527 934h11v11h-11zM597 1204h21v11h-21zM587 1214h41v11h-41zM657 1214h21v11h-21zM587 1224h11v11h-11zM627 1224h51v11h-51zM577 1234h11v11h-11zM667 1234h11v11h-11zM567 1244h11v11h-11zM667 1244h11v11h-11zM707 1244h31v11h-31zM247 1254h21v11h-21zM537 1254h11v11h-11zM667 1254h31v11h-31zM747 1254h21v11h-21zM267 1264h21v11h-21zM317 1264h31v11h-31zM507 1264h21v11h-21zM357 1274h11v11h-11zM497 1274h11v11h-11zM367 1284h11v11h-11zM477 1284h21v11h-21zM377 1294h11v11h-11zM467 1294h11v11h-11zM407 1304h11v11h-11zM457 1304h11v11h-11zM417 1324h11v11h-11zM407 1344h11v11h-11zM707 1404h11v11h-11z"/><path fill="#9e9e9e" d="M537 934h11v11h-11zM517 944h11v11h-11zM407 954h11v11h-11zM497 954h11v11h-11zM457 964h11v11h-11zM597 1194h21v11h-21zM587 1204h11v11h-11zM617 1204h11v11h-11zM657 1204h21v11h-21zM627 1214h31v11h-31zM677 1214h11v11h-11zM577 1224h11v11h-11zM677 1224h11v11h-11zM677 1234h11v11h-11zM557 1244h11v11h-11zM677 1244h31v11h-31zM737 1244h21v11h-21zM267 1254h11v11h-11zM327 1254h21v11h-21zM517 1254h21v11h-21zM767 1254h11v11h-11zM287 1264h31v11h-31zM347 1264h21v11h-21zM497 1264h11v11h-11zM487 1274h11v11h-11zM387 1294h81v11h-81zM417 1354h11v11h-11zM407 1374h21v11h-21z"/><path fill="#a1a1a1" d="M547 934h11v11h-11zM397 954h11v11h-11zM507 954h11v11h-11zM427 964h11v11h-11zM467 964h11v11h-11zM597 1184h31v11h-31zM587 1194h11v11h-11zM617 1194h11v11h-11zM627 1204h31v11h-31zM677 1204h11v11h-11zM577 1214h11v11h-11zM687 1224h11v11h-11zM567 1234h11v11h-11zM687 1234h61v11h-61zM247 1244h21v11h-21zM547 1244h11v11h-11zM757 1244h11v11h-11zM277 1254h21v11h-21zM307 1254h21v11h-21zM347 1254h11v11h-11zM497 1254h21v11h-21zM487 1264h11v11h-11zM367 1274h11v11h-11zM477 1274h11v11h-11zM377 1284h11v11h-11zM467 1284h11v11h-11zM407 1354h11v11h-11z"/><path fill="#a3a3a3" d="M557 934h11v11h-11zM527 944h11v11h-11zM387 954h11v11h-11zM477 964h11v11h-11zM627 1144h11v11h-11zM627 1154h21v11h-21zM617 1164h21v11h-21zM677 1164h11v11h-11zM607 1174h21v11h-21zM627 1194h11v11h-11zM657 1194h21v11h-21zM577 1204h11v11h-11zM687 1214h11v11h-11zM567 1224h11v11h-11zM697 1224h51v11h-51zM747 1234h21v11h-21zM267 1244h11v11h-11zM317 1244h41v11h-41zM507 1244h41v11h-41zM767 1244h11v11h-11zM297 1254h11v11h-11zM357 1254h11v11h-11zM487 1254h11v11h-11zM367 1264h11v11h-11zM477 1264h11v11h-11zM377 1274h11v11h-11zM467 1274h11v11h-11zM387 1284h11v11h-11zM447 1284h21v11h-21zM417 1364h11v11h-11z"/><path fill="#a6a6a6" d="M567 934h31v11h-31zM537 944h11v11h-11zM517 954h11v11h-11zM417 964h11v11h-11zM487 964h21v11h-21zM627 1134h21v11h-21zM617 1144h11v11h-11zM637 1144h11v11h-11zM617 1154h11v11h-11zM647 1154h11v11h-11zM607 1164h11v11h-11zM637 1164h11v11h-11zM657 1164h21v11h-21zM597 1174h11v11h-11zM627 1174h11v11h-11zM667 1174h21v11h-21zM587 1184h11v11h-11zM627 1184h11v11h-11zM667 1184h11v11h-11zM577 1194h11v11h-11zM637 1194h21v11h-21zM677 1194h11v11h-11zM567 1204h11v11h-11zM687 1204h11v11h-11zM567 1214h11v11h-11zM697 1214h11v11h-11zM337 1224h11v11h-11zM747 1224h21v11h-21zM247 1234h21v11h-21zM327 1234h31v11h-31zM557 1234h11v11h-11zM767 1234h11v11h-11zM277 1244h11v11h-11zM307 1244h11v11h-11zM357 1244h11v11h-11zM497 1244h11v11h-11zM367 1254h11v11h-11zM477 1254h11v11h-11zM467 1264h11v11h-11zM457 1274h11v11h-11zM397 1284h51v11h-51zM407 1364h11v11h-11z"/><path fill="#a8a8a8" d="M597 934h41v11h-41zM547 944h21v11h-21zM527 954h11v11h-11zM627 1124h21v11h-21zM617 1134h11v11h-11zM647 1134h11v11h-11zM607 1144h11v11h-11zM647 1144h11v11h-11zM607 1154h11v11h-11zM657 1154h31v11h-31zM597 1164h11v11h-11zM647 1164h11v11h-11zM687 1164h11v11h-11zM637 1174h31v11h-31zM637 1184h11v11h-11zM657 1184h11v11h-11zM677 1184h11v11h-11zM337 1194h11v11h-11zM567 1194h11v11h-11zM327 1204h31v11h-31zM327 1214h31v11h-31zM707 1214h51v11h-51zM247 1224h11v11h-11zM327 1224h11v11h-11zM347 1224h21v11h-21zM767 1224h11v11h-11zM267 1234h11v11h-11zM317 1234h11v11h-11zM357 1234h11v11h-11zM507 1234h21v11h-21zM547 1234h11v11h-11zM287 1244h21v11h-21zM367 1244h11v11h-11zM487 1244h11v11h-11zM377 1264h11v11h-11zM387 1274h11v11h-11zM447 1274h11v11h-11z"/><path fill="#ababab" d="M637 934h31v11h-31zM567 944h71v11h-71zM537 954h11v11h-11zM587 954h31v11h-31zM407 964h11v11h-11zM507 964h11v11h-11zM587 974h11v11h-11zM577 984h31v11h-31zM577 994h31v11h-31zM577 1004h21v11h-21zM577 1014h21v11h-21zM627 1114h21v11h-21zM617 1124h11v11h-11zM647 1124h11v11h-11zM607 1134h11v11h-11zM597 1154h11v11h-11zM687 1154h11v11h-11zM587 1174h11v11h-11zM687 1174h11v11h-11zM327 1184h31v11h-31zM577 1184h11v11h-11zM647 1184h11v11h-11zM327 1194h11v11h-11zM347 1194h21v11h-21zM687 1194h11v11h-11zM357 1204h11v11h-11zM557 1204h11v11h-11zM697 1204h61v11h-61zM357 1214h11v11h-11zM557 1214h11v11h-11zM757 1214h21v11h-21zM257 1224h11v11h-11zM317 1224h11v11h-11zM367 1224h11v11h-11zM557 1224h11v11h-11zM277 1234h11v11h-11zM307 1234h11v11h-11zM367 1234h11v11h-11zM487 1234h21v11h-21zM527 1234h21v11h-21zM477 1244h11v11h-11zM377 1254h11v11h-11zM467 1254h11v11h-11zM457 1264h11v11h-11zM397 1274h51v11h-51z"/><path fill="#adadad" d="M667 934h31v11h-31zM637 944h41v11h-41zM547 954h41v11h-41zM617 954h31v11h-31zM387 964h21v11h-21zM517 964h11v11h-11zM577 964h51v11h-51zM437 974h11v11h-11zM567 974h21v11h-21zM597 974h31v11h-31zM567 984h11v11h-11zM607 984h11v11h-11zM567 994h11v11h-11zM607 994h11v11h-11zM567 1004h11v11h-11zM597 1004h21v11h-21zM567 1014h11v11h-11zM597 1014h11v11h-11zM567 1024h41v11h-41zM577 1034h21v11h-21zM627 1104h21v11h-21zM617 1114h11v11h-11zM647 1114h11v11h-11zM607 1124h11v11h-11zM597 1144h11v11h-11zM657 1144h11v11h-11zM337 1164h31v11h-31zM587 1164h11v11h-11zM697 1164h11v11h-11zM327 1174h41v11h-41zM697 1174h11v11h-11zM307 1184h21v11h-21zM357 1184h11v11h-11zM567 1184h11v11h-11zM687 1184h11v11h-11zM317 1194h11v11h-11zM547 1194h21v11h-21zM697 1194h21v11h-21zM317 1204h11v11h-11zM367 1204h11v11h-11zM547 1204h11v11h-11zM757 1204h11v11h-11zM317 1214h11v11h-11zM367 1214h11v11h-11zM547 1214h11v11h-11zM267 1224h11v11h-11zM497 1224h41v11h-41zM287 1234h21v11h-21zM477 1234h11v11h-11zM377 1244h11v11h-11zM467 1244h11v11h-11zM457 1254h11v11h-11zM387 1264h11v11h-11zM447 1264h11v11h-11z"/><path fill="#b0b0b0" d="M697 934h11v11h-11zM677 944h21v11h-21zM647 954h31v11h-31zM527 964h51v11h-51zM627 964h21v11h-21zM427 974h11v11h-11zM447 974h11v11h-11zM477 974h31v11h-31zM557 974h11v11h-11zM627 974h11v11h-11zM557 984h11v11h-11zM617 984h21v11h-21zM557 994h11v11h-11zM617 994h11v11h-11zM557 1004h11v11h-11zM617 1004h11v11h-11zM557 1014h11v11h-11zM607 1014h21v11h-21zM557 1024h11v11h-11zM607 1024h21v11h-21zM567 1034h11v11h-11zM597 1034h21v11h-21zM577 1044h31v11h-31zM617 1094h31v11h-31zM607 1104h21v11h-21zM647 1104h11v11h-11zM607 1114h11v11h-11zM657 1114h11v11h-11zM597 1124h11v11h-11zM657 1124h11v11h-11zM597 1134h11v11h-11zM657 1134h11v11h-11zM357 1144h11v11h-11zM667 1144h31v11h-31zM337 1154h31v11h-31zM587 1154h11v11h-11zM697 1154h11v11h-11zM327 1164h11v11h-11zM367 1164h11v11h-11zM317 1174h11v11h-11zM367 1174h11v11h-11zM577 1174h11v11h-11zM297 1184h11v11h-11zM367 1184h11v11h-11zM547 1184h21v11h-21zM697 1184h21v11h-21zM307 1194h11v11h-11zM367 1194h11v11h-11zM537 1194h11v11h-11zM717 1194h51v11h-51zM527 1204h21v11h-21zM767 1204h11v11h-11zM377 1214h11v11h-11zM517 1214h31v11h-31zM277 1224h11v11h-11zM307 1224h11v11h-11zM377 1224h11v11h-11zM487 1224h11v11h-11zM537 1224h21v11h-21zM377 1234h11v11h-11zM457 1244h11v11h-11zM387 1254h11v11h-11zM447 1254h11v11h-11zM397 1264h11v11h-11zM437 1264h11v11h-11z"/><path fill="#b2b2b2" d="M697 944h11v11h-11zM677 954h31v11h-31zM647 964h41v11h-41zM467 974h11v11h-11zM507 974h11v11h-11zM537 974h21v11h-21zM637 974h31v11h-31zM547 984h11v11h-11zM637 984h21v11h-21zM547 994h11v11h-11zM627 994h21v11h-21zM547 1004h11v11h-11zM627 1004h21v11h-21zM547 1014h11v11h-11zM627 1014h21v11h-21zM627 1024h11v11h-11zM557 1034h11v11h-11zM617 1034h21v11h-21zM567 1044h11v11h-11zM607 1044h31v11h-31zM577 1054h61v11h-61zM597 1064h41v11h-41zM607 1074h41v11h-41zM607 1084h51v11h-51zM607 1094h11v11h-11zM647 1094h21v11h-21zM597 1104h11v11h-11zM657 1104h21v11h-21zM597 1114h11v11h-11zM667 1114h11v11h-11zM687 1124h11v11h-11zM687 1134h11v11h-11zM347 1144h11v11h-11zM367 1144h11v11h-11zM587 1144h11v11h-11zM327 1154h11v11h-11zM367 1154h11v11h-11zM317 1164h11v11h-11zM707 1164h11v11h-11zM297 1174h21v11h-21zM567 1174h11v11h-11zM707 1174h21v11h-21zM287 1184h11v11h-11zM377 1184h11v11h-11zM527 1184h21v11h-21zM717 1184h41v11h-41zM287 1194h21v11h-21zM377 1194h11v11h-11zM527 1194h11v11h-11zM767 1194h11v11h-11zM267 1204h11v11h-11zM307 1204h11v11h-11zM377 1204h11v11h-11zM517 1204h11v11h-11zM267 1214h11v11h-11zM307 1214h11v11h-11zM387 1214h11v11h-11zM497 1214h21v11h-21zM287 1224h21v11h-21zM387 1224h11v11h-11zM477 1224h11v11h-11zM387 1234h11v11h-11zM467 1234h11v11h-11zM387 1244h11v11h-11zM447 1244h11v11h-11zM437 1254h11v11h-11zM407 1264h31v11h-31z"/><path fill="#b5b5b5" d="M707 954h21v11h-21zM687 964h21v11h-21zM387 974h21v11h-21zM417 974h11v11h-11zM457 974h11v11h-11zM517 974h21v11h-21zM667 974h31v11h-31zM497 984h21v11h-21zM537 984h11v11h-11zM657 984h21v11h-21zM537 994h11v11h-11zM647 994h21v11h-21zM537 1004h11v11h-11zM647 1004h21v11h-21zM647 1014h21v11h-21zM547 1024h11v11h-11zM637 1024h31v11h-31zM547 1034h11v11h-11zM637 1034h31v11h-31zM557 1044h11v11h-11zM637 1044h31v11h-31zM567 1054h11v11h-11zM637 1054h31v11h-31zM577 1064h21v11h-21zM637 1064h41v11h-41zM587 1074h21v11h-21zM647 1074h31v11h-31zM587 1084h21v11h-21zM657 1084h31v11h-31zM597 1094h11v11h-11zM667 1094h21v11h-21zM677 1104h21v11h-21zM587 1114h11v11h-11zM677 1114h31v11h-31zM587 1124h11v11h-11zM667 1124h21v11h-21zM697 1124h11v11h-11zM587 1134h11v11h-11zM667 1134h21v11h-21zM697 1134h11v11h-11zM327 1144h21v11h-21zM697 1144h11v11h-11zM317 1154h11v11h-11zM377 1154h11v11h-11zM577 1154h11v11h-11zM707 1154h11v11h-11zM307 1164h11v11h-11zM377 1164h11v11h-11zM577 1164h11v11h-11zM717 1164h11v11h-11zM287 1174h11v11h-11zM377 1174h11v11h-11zM527 1174h41v11h-41zM727 1174h21v11h-21zM517 1184h11v11h-11zM757 1184h21v11h-21zM387 1194h11v11h-11zM507 1194h21v11h-21zM277 1204h11v11h-11zM297 1204h11v11h-11zM387 1204h11v11h-11zM507 1204h11v11h-11zM277 1214h11v11h-11zM397 1214h11v11h-11zM487 1214h11v11h-11zM397 1224h11v11h-11zM467 1224h11v11h-11zM397 1234h11v11h-11zM447 1234h21v11h-21zM397 1244h11v11h-11zM437 1244h11v11h-11zM397 1254h11v11h-11zM427 1254h11v11h-11z"/><path fill="#b8b8b8" d="M727 954h31v11h-31zM707 964h31v11h-31zM407 974h11v11h-11zM697 974h31v11h-31zM367 984h11v11h-11zM487 984h11v11h-11zM517 984h21v11h-21zM677 984h31v11h-31zM497 994h41v11h-41zM667 994h41v11h-41zM527 1004h11v11h-11zM667 1004h31v11h-31zM537 1014h11v11h-11zM667 1014h31v11h-31zM537 1024h11v11h-11zM667 1024h31v11h-31zM667 1034h31v11h-31zM547 1044h11v11h-11zM667 1044h31v11h-31zM557 1054h11v11h-11zM667 1054h31v11h-31zM567 1064h11v11h-11zM677 1064h21v11h-21zM577 1074h11v11h-11zM677 1074h21v11h-21zM577 1084h11v11h-11zM687 1084h11v11h-11zM587 1094h11v11h-11zM687 1094h21v11h-21zM587 1104h11v11h-11zM697 1104h11v11h-11zM577 1124h11v11h-11zM347 1134h31v11h-31zM577 1134h11v11h-11zM317 1144h11v11h-11zM377 1144h11v11h-11zM577 1144h11v11h-11zM717 1154h11v11h-11zM297 1164h11v11h-11zM387 1164h11v11h-11zM517 1164h61v11h-61zM727 1164h21v11h-21zM387 1174h11v11h-11zM517 1174h11v11h-11zM747 1174h31v11h-31zM387 1184h11v11h-11zM507 1184h11v11h-11zM287 1204h11v11h-11zM397 1204h11v11h-11zM497 1204h11v11h-11zM287 1214h21v11h-21zM407 1214h11v11h-11zM467 1214h21v11h-21zM407 1224h11v11h-11zM447 1224h21v11h-21zM407 1234h11v11h-11zM437 1234h11v11h-11zM427 1244h11v11h-11zM407 1254h21v11h-21z"/><path fill="#bababa" d="M737 964h21v11h-21zM727 974h31v11h-31zM377 984h21v11h-21zM477 984h11v11h-11zM707 984h31v11h-31zM707 994h21v11h-21zM507 1004h21v11h-21zM697 1004h21v11h-21zM527 1014h11v11h-11zM697 1014h21v11h-21zM527 1024h11v11h-11zM697 1024h21v11h-21zM537 1034h11v11h-11zM697 1034h21v11h-21zM697 1044h21v11h-21zM547 1054h11v11h-11zM697 1054h21v11h-21zM557 1064h11v11h-11zM697 1064h21v11h-21zM567 1074h11v11h-11zM697 1074h11v11h-11zM567 1084h11v11h-11zM697 1084h21v11h-21zM577 1094h11v11h-11zM707 1094h11v11h-11zM577 1104h11v11h-11zM707 1104h11v11h-11zM577 1114h11v11h-11zM707 1114h11v11h-11zM707 1124h11v11h-11zM327 1134h21v11h-21zM707 1134h11v11h-11zM567 1144h11v11h-11zM707 1144h11v11h-11zM307 1154h11v11h-11zM387 1154h11v11h-11zM507 1154h71v11h-71zM727 1154h11v11h-11zM287 1164h11v11h-11zM507 1164h11v11h-11zM747 1164h31v11h-31zM507 1174h11v11h-11zM397 1184h11v11h-11zM497 1184h11v11h-11zM397 1194h11v11h-11zM497 1194h11v11h-11zM407 1204h11v11h-11zM477 1204h21v11h-21zM417 1214h51v11h-51zM417 1224h31v11h-31zM417 1234h21v11h-21zM407 1244h21v11h-21z"/><path fill="#bdbdbd" d="M397 984h51v11h-51zM737 984h61v11h-61zM367 994h11v11h-11zM487 994h11v11h-11zM727 994h71v11h-71zM497 1004h11v11h-11zM717 1004h21v11h-21zM507 1014h21v11h-21zM717 1014h21v11h-21zM717 1024h11v11h-11zM527 1034h11v11h-11zM717 1034h11v11h-11zM537 1044h11v11h-11zM717 1044h11v11h-11zM717 1054h11v11h-11zM547 1064h11v11h-11zM717 1064h11v11h-11zM557 1074h11v11h-11zM707 1074h21v11h-21zM557 1084h11v11h-11zM717 1084h11v11h-11zM567 1094h11v11h-11zM717 1094h11v11h-11zM567 1104h11v11h-11zM717 1104h11v11h-11zM567 1114h11v11h-11zM717 1114h11v11h-11zM567 1124h11v11h-11zM717 1124h11v11h-11zM317 1134h11v11h-11zM377 1134h11v11h-11zM557 1134h21v11h-21zM717 1134h11v11h-11zM307 1144h11v11h-11zM387 1144h11v11h-11zM437 1144h31v11h-31zM497 1144h71v11h-71zM717 1144h21v11h-21zM287 1154h21v11h-21zM397 1154h11v11h-11zM437 1154h31v11h-31zM487 1154h21v11h-21zM737 1154h41v11h-41zM397 1164h11v11h-11zM447 1164h11v11h-11zM497 1164h11v11h-11zM397 1174h11v11h-11zM497 1174h11v11h-11zM447 1184h11v11h-11zM407 1194h11v11h-11zM437 1194h21v11h-21zM487 1194h11v11h-11zM417 1204h61v11h-61z"/><path fill="#bfbfbf" d="M447 984h11v11h-11zM467 984h11v11h-11zM377 994h31v11h-31zM417 994h11v11h-11zM477 994h11v11h-11zM357 1004h21v11h-21zM487 1004h11v11h-11zM737 1004h61v11h-61zM497 1014h11v11h-11zM737 1014h61v11h-61zM517 1024h11v11h-11zM727 1024h31v11h-31zM727 1034h21v11h-21zM527 1044h11v11h-11zM727 1044h11v11h-11zM537 1054h11v11h-11zM727 1054h11v11h-11zM537 1064h11v11h-11zM727 1064h11v11h-11zM547 1074h11v11h-11zM727 1074h11v11h-11zM547 1084h11v11h-11zM727 1084h11v11h-11zM557 1094h11v11h-11zM727 1094h11v11h-11zM557 1104h11v11h-11zM727 1104h11v11h-11zM547 1114h21v11h-21zM727 1114h11v11h-11zM317 1124h11v11h-11zM357 1124h21v11h-21zM527 1124h41v11h-41zM727 1124h11v11h-11zM307 1134h11v11h-11zM387 1134h11v11h-11zM437 1134h31v11h-31zM487 1134h71v11h-71zM727 1134h11v11h-11zM397 1144h11v11h-11zM427 1144h11v11h-11zM467 1144h31v11h-31zM737 1144h41v11h-41zM407 1154h31v11h-31zM467 1154h21v11h-21zM407 1164h41v11h-41zM457 1164h41v11h-41zM407 1174h11v11h-11zM437 1174h31v11h-31zM487 1174h11v11h-11zM407 1184h11v11h-11zM437 1184h11v11h-11zM457 1184h11v11h-11zM487 1184h11v11h-11zM417 1194h21v11h-21zM457 1194h31v11h-31z"/><path fill="#c2c2c2" d="M457 984h11v11h-11zM407 994h11v11h-11zM427 994h11v11h-11zM377 1004h21v11h-21zM357 1014h21v11h-21zM507 1024h11v11h-11zM757 1024h41v11h-41zM517 1034h11v11h-11zM747 1034h51v11h-51zM737 1044h61v11h-61zM527 1054h11v11h-11zM737 1054h61v11h-61zM737 1064h61v11h-61zM537 1074h11v11h-11zM737 1074h41v11h-41zM537 1084h11v11h-11zM737 1084h41v11h-41zM537 1094h21v11h-21zM737 1094h41v11h-41zM537 1104h21v11h-21zM737 1104h41v11h-41zM527 1114h21v11h-21zM737 1114h21v11h-21zM307 1124h11v11h-11zM327 1124h31v11h-31zM377 1124h11v11h-11zM497 1124h31v11h-31zM737 1124h21v11h-21zM767 1124h11v11h-11zM397 1134h11v11h-11zM427 1134h11v11h-11zM467 1134h21v11h-21zM737 1134h41v11h-41zM407 1144h21v11h-21zM417 1174h21v11h-21zM467 1174h21v11h-21zM417 1184h21v11h-21zM467 1184h21v11h-21z"/><path fill="#c4c4c4" d="M437 994h11v11h-11zM467 994h11v11h-11zM397 1004h41v11h-41zM477 1004h11v11h-11zM377 1014h21v11h-21zM487 1014h11v11h-11zM357 1024h21v11h-21zM497 1024h11v11h-11zM507 1034h11v11h-11zM517 1044h11v11h-11zM527 1064h11v11h-11zM527 1074h11v11h-11zM527 1094h11v11h-11zM527 1104h11v11h-11zM317 1114h21v11h-21zM357 1114h21v11h-21zM507 1114h21v11h-21zM757 1114h21v11h-21zM387 1124h11v11h-11zM437 1124h61v11h-61zM757 1124h11v11h-11zM407 1134h21v11h-21z"/><path fill="#c7c7c7" d="M447 994h21v11h-21zM437 1004h11v11h-11zM397 1014h31v11h-31zM477 1014h11v11h-11zM377 1024h21v11h-21zM487 1024h11v11h-11zM357 1034h31v11h-31zM497 1034h11v11h-11zM357 1044h11v11h-11zM507 1044h11v11h-11zM337 1054h21v11h-21zM517 1054h11v11h-11zM337 1064h11v11h-11zM517 1064h11v11h-11zM317 1074h21v11h-21zM317 1084h21v11h-21zM527 1084h11v11h-11zM317 1094h21v11h-21zM517 1094h11v11h-11zM317 1104h41v11h-41zM507 1104h21v11h-21zM337 1114h21v11h-21zM377 1114h11v11h-11zM487 1114h21v11h-21zM397 1124h11v11h-11zM427 1124h11v11h-11z"/><path fill="#c9c9c9" d="M447 1004h31v11h-31zM427 1014h11v11h-11zM467 1014h11v11h-11zM397 1024h31v11h-31zM477 1024h11v11h-11zM387 1034h11v11h-11zM487 1034h11v11h-11zM367 1044h21v11h-21zM357 1054h21v11h-21zM507 1054h11v11h-11zM347 1064h21v11h-21zM337 1074h21v11h-21zM517 1074h11v11h-11zM337 1084h21v11h-21zM517 1084h11v11h-11zM337 1094h31v11h-31zM507 1094h11v11h-11zM357 1104h21v11h-21zM497 1104h11v11h-11zM387 1114h11v11h-11zM457 1114h31v11h-31zM407 1124h21v11h-21z"/><path fill="#cccccc" d="M437 1014h31v11h-31zM427 1024h11v11h-11zM467 1024h11v11h-11zM397 1034h21v11h-21zM387 1044h11v11h-11zM497 1044h11v11h-11zM377 1054h11v11h-11zM497 1054h11v11h-11zM367 1064h11v11h-11zM507 1064h11v11h-11zM357 1074h21v11h-21zM507 1074h11v11h-11zM357 1084h21v11h-21zM507 1084h11v11h-11zM367 1094h11v11h-11zM497 1094h11v11h-11zM377 1104h11v11h-11zM487 1104h11v11h-11zM397 1114h11v11h-11zM437 1114h21v11h-21z"/><path fill="#cfcfcf" d="M437 1024h31v11h-31zM417 1034h21v11h-21zM467 1034h21v11h-21zM397 1044h21v11h-21zM487 1044h11v11h-11zM387 1054h11v11h-11zM377 1064h11v11h-11zM497 1064h11v11h-11zM377 1074h11v11h-11zM497 1074h11v11h-11zM377 1084h11v11h-11zM497 1084h11v11h-11zM377 1094h11v11h-11zM487 1094h11v11h-11zM387 1104h11v11h-11zM467 1104h21v11h-21zM407 1114h31v11h-31z"/><path fill="#d1d1d1" d="M437 1034h31v11h-31zM417 1044h21v11h-21zM467 1044h21v11h-21zM397 1054h11v11h-11zM487 1054h11v11h-11zM387 1064h11v11h-11zM487 1064h11v11h-11zM387 1074h11v11h-11zM487 1074h11v11h-11zM387 1084h11v11h-11zM487 1084h11v11h-11zM387 1094h11v11h-11zM477 1094h11v11h-11zM397 1104h21v11h-21zM447 1104h21v11h-21z"/><path fill="#d4d4d4" d="M437 1044h31v11h-31zM407 1054h21v11h-21zM467 1054h21v11h-21zM397 1064h11v11h-11zM477 1064h11v11h-11zM397 1074h11v11h-11zM477 1074h11v11h-11zM397 1084h11v11h-11zM477 1084h11v11h-11zM397 1094h11v11h-11zM457 1094h21v11h-21zM417 1104h31v11h-31z"/><path fill="#d6d6d6" d="M427 1054h41v11h-41zM407 1064h21v11h-21zM457 1064h21v11h-21zM407 1074h11v11h-11zM467 1074h11v11h-11zM457 1084h21v11h-21zM407 1094h11v11h-11zM437 1094h21v11h-21z"/><path fill="#d9d9d9" d="M427 1064h31v11h-31zM417 1074h11v11h-11zM437 1074h31v11h-31zM407 1084h11v11h-11zM437 1084h21v11h-21zM417 1094h21v11h-21z"/><path fill="#dbdbdb" d="M427 1074h11v11h-11zM417 1084h21v11h-21z"/>
</g>
<g filter="url(#cm2)">
<polygon fill="#c4c4c4" points="760,1090 760,1300 672,1300 674,1285 680,1250 690,1215 705,1178 718,1148 728,1120 738,1090"/>
</g>
<path d="M345 1093C400 1084 470 1086 540 1093S640 1130 680 1175S730 1260 745 1290" fill="none" stroke="#000" stroke-opacity=".07" stroke-width="15" stroke-linecap="round"/>
</g>
<g style="mix-blend-mode:multiply">
<g fill="none" stroke="#555" stroke-width="1.3">
<path d="M147.0 820.0C152.5 822.0 168.3 828.2 180.0 831.7C191.7 835.2 205.3 837.5 217.0 840.7C228.7 843.9 239.0 847.5 250.0 850.7C261.0 853.9 271.3 857.3 283.0 860.0C294.7 862.7 308.3 865.0 320.0 866.7C331.7 868.4 341.8 867.5 353.0 870.0C364.2 872.5 375.0 877.5 387.0 881.7C399.0 885.9 412.8 891.8 425.0 895.0C437.2 898.2 448.3 899.0 460.0 901.0C471.7 903.0 483.3 905.2 495.0 907.0C506.7 908.8 518.3 909.5 530.0 912.0C541.7 914.5 553.8 918.2 565.0 922.0C576.2 925.8 586.7 930.8 597.5 935.0C608.3 939.2 618.8 942.9 630.0 947.5C641.2 952.1 653.3 957.8 665.0 962.5C676.7 967.2 688.3 972.3 700.0 976.0C711.7 979.7 722.9 982.4 735.0 984.5C747.1 986.6 760.4 987.8 772.5 988.8C784.6 989.8 795.8 989.9 807.5 990.5C819.2 991.1 827.1 991.8 842.5 992.5C857.9 993.2 880.9 993.9 900.0 995.0C919.1 996.1 937.0 995.7 957.0 999.0C977.0 1002.3 1000.2 1011.3 1020.0 1015.0C1039.8 1018.7 1066.7 1020.0 1076.0 1021.0"/>
<path d="M3.0 1110.0L30.0 1121.7L50.0 1132.7L133.0 1132.0L133.0 1132.0C144.2 1132.0 175.0 1132.2 200.0 1131.7C225.0 1131.2 260.8 1130.5 283.0 1129.0C305.2 1127.5 321.8 1125.7 333.0 1123.0C344.2 1120.3 344.3 1115.5 350.0 1113.0C355.7 1110.5 358.7 1109.3 367.0 1108.0C375.3 1106.7 390.3 1105.7 400.0 1105.0C409.7 1104.3 415.0 1103.8 425.0 1104.0C435.0 1104.2 447.5 1105.0 460.0 1106.0C472.5 1107.0 485.0 1108.5 500.0 1110.0C515.0 1111.5 533.8 1112.1 550.0 1115.0C566.2 1117.9 583.3 1123.5 597.5 1127.5C611.7 1131.5 623.8 1133.9 635.0 1139.0C646.2 1144.1 655.0 1151.2 665.0 1158.0C675.0 1164.8 685.0 1173.0 695.0 1180.0C705.0 1187.0 715.2 1194.2 725.0 1200.0C734.8 1205.8 745.3 1207.6 753.8 1214.8C762.3 1222.0 768.6 1233.5 776.0 1243.0C783.4 1252.5 792.2 1261.7 798.0 1271.8C803.8 1281.9 807.6 1292.5 810.8 1303.5C814.0 1314.5 815.5 1328.0 817.0 1338.0C818.5 1348.0 819.2 1359.4 819.7 1363.7"/>
<path d="M909.0 1214.8C915.3 1216.1 935.4 1219.3 947.0 1222.7C958.6 1226.1 968.2 1229.9 978.7 1235.4C989.2 1241.0 999.5 1249.4 1010.0 1256.0C1020.5 1262.6 1031.0 1270.4 1042.0 1275.0C1053.0 1279.6 1070.3 1282.1 1076.0 1283.5"/>
</g>
<g fill="#555"><path d="M175.0 829.9L184.9 833.5L177.0 840.1Z"/><path d="M210.1 839.0L220.3 841.5L213.1 848.9Z"/><path d="M244.8 849.1L254.9 852.2L247.2 859.2Z"/><path d="M279.5 859.4L289.9 861.2L283.1 869.1Z"/><path d="M315.1 866.2L325.6 867.3L319.4 875.6Z"/><path d="M351.2 869.4L361.2 872.8L353.3 879.5Z"/><path d="M385.5 881.2L395.4 884.6L387.5 891.3Z"/><path d="M419.6 893.1L429.5 896.6L421.6 903.3Z"/><path d="M455.1 900.2L465.4 901.9L458.7 909.8Z"/><path d="M490.7 906.4L501.1 907.9L494.7 916.0Z"/><path d="M526.7 911.0L536.8 913.9L529.3 921.1Z"/><path d="M561.6 920.6L571.3 924.5L563.2 930.9Z"/><path d="M595.2 934.1L605.0 937.9L596.9 944.3Z"/><path d="M629.0 947.1L638.6 951.2L630.3 957.3Z"/><path d="M662.2 961.4L672.0 965.2L663.9 971.6Z"/><path d="M695.8 975.0L706.0 977.5L698.8 984.9Z"/><path d="M730.9 984.0L741.4 985.2L735.1 993.5Z"/><path d="M766.9 988.1L777.3 989.3L771.1 997.6Z"/><path d="M803.0 990.2L813.5 990.8L807.8 999.5Z"/><path d="M839.2 992.4L849.6 992.8L844.0 1001.5Z"/><path d="M875.3 993.9L885.8 994.4L880.2 1003.1Z"/><path d="M911.5 995.8L921.9 996.5L916.1 1005.1Z"/><path d="M947.6 998.3L958.1 999.1L952.2 1007.6Z"/><path d="M982.9 1005.6L993.1 1008.2L985.8 1015.5Z"/><path d="M1018.0 1014.8L1028.4 1015.9L1022.2 1024.2Z"/><path d="M1054.0 1018.6L1064.4 1019.8L1058.2 1028.1Z"/></g>
<g fill="#555"><path d="M26.8 1119.9L36.0 1125.0L27.1 1130.3Z"/><path d="M60.1 1132.6L70.6 1132.5L65.4 1141.5Z"/><path d="M96.7 1132.3L107.2 1132.2L102.0 1141.2Z"/><path d="M133.3 1132.0L143.8 1132.0L138.6 1140.9Z"/><path d="M169.9 1131.8L180.4 1131.8L175.2 1140.7Z"/><path d="M206.5 1131.5L217.0 1131.1L212.0 1140.2Z"/><path d="M243.1 1130.3L253.6 1130.0L248.6 1139.0Z"/><path d="M279.7 1129.4L290.1 1128.1L286.0 1137.6Z"/><path d="M316.0 1125.0L326.4 1123.8L322.3 1133.3Z"/><path d="M349.8 1113.1L359.9 1110.1L357.3 1120.1Z"/><path d="M385.6 1106.3L396.0 1105.4L391.6 1114.7Z"/><path d="M422.1 1103.8L432.6 1104.4L426.8 1113.0Z"/><path d="M458.6 1105.9L469.1 1106.9L463.0 1115.3Z"/><path d="M495.1 1109.5L505.5 1110.6L499.4 1118.9Z"/><path d="M531.5 1113.1L541.9 1114.2L535.8 1122.6Z"/><path d="M567.4 1119.6L577.5 1122.2L570.2 1129.5Z"/><path d="M602.7 1129.1L612.8 1132.2L605.1 1139.2Z"/><path d="M637.4 1140.5L646.3 1146.1L637.1 1150.9Z"/><path d="M668.2 1160.3L676.6 1166.5L667.1 1170.6Z"/><path d="M697.8 1181.8L706.5 1187.7L697.2 1192.2Z"/><path d="M728.4 1201.8L737.8 1206.6L729.0 1212.1Z"/><path d="M758.8 1221.2L765.3 1229.4L755.0 1230.8Z"/><path d="M781.3 1250.0L787.7 1258.3L777.4 1259.6Z"/><path d="M801.4 1280.3L805.4 1290.0L795.1 1288.5Z"/><path d="M812.8 1314.9L814.7 1325.2L805.0 1321.6Z"/><path d="M818.4 1351.1L819.5 1361.5L810.0 1357.2Z"/></g>
<g fill="#555"><path d="M907.8 1214.5L918.1 1216.7L911.1 1224.4Z"/><path d="M942.8 1221.0L952.5 1224.9L944.3 1231.2Z"/><path d="M976.0 1233.6L984.8 1239.4L975.5 1244.0Z"/><path d="M1005.5 1253.4L1014.6 1258.7L1005.5 1263.7Z"/><path d="M1036.1 1271.5L1045.1 1276.8L1036.0 1281.8Z"/><path d="M1069.7 1281.9L1079.9 1284.5L1072.7 1291.9Z"/></g>
</g>
<g stroke="#1c1c1c" stroke-width="2.8" stroke-linejoin="round" opacity=".93">
<path d="M414.2 953.0L423.2 970.0H405.3Z" fill="none"/>
<path d="M407.5 984.8L416.4 1001.8H398.6Z" fill="none"/>
<path d="M392.0 992.2L400.9 1009.2H383.1Z" fill="none"/>
<path d="M395.0 1008.5L403.9 1025.5H386.1Z" fill="none"/>
<path d="M390.0 1024.8L398.9 1041.8H381.1Z" fill="none"/>
<path d="M375.0 1038.5L383.9 1055.5H366.1Z" fill="none"/>
<path d="M370.0 1054.8L378.9 1071.8H361.1Z" fill="none"/>
<path d="M363.8 1076.0L372.7 1093.0H354.8Z" fill="none"/>
<path d="M343.8 1090.5L352.7 1107.5H334.8Z" fill="none"/>
<path d="M342.5 1116.0L351.4 1133.0H333.6Z" fill="none"/>
<path d="M335.0 1126.0L343.9 1143.0H326.1Z" fill="none"/>
<path d="M460.8 977.2L469.7 994.2H451.8Z" fill="none"/>
<path d="M521.2 976.0L530.2 993.0H512.3Z" fill="none"/>
<path d="M458.0 1010.5L466.9 1027.5H449.1Z" fill="none"/>
<path d="M518.8 1021.0L527.7 1038.0H509.8Z" fill="none"/>
<path d="M430.0 1053.0L438.9 1070.0H421.1Z" fill="none"/>
<path d="M412.5 1088.5L421.4 1105.5H403.6Z" fill="none"/>
<path d="M410.0 1111.0L418.9 1128.0H401.1Z" fill="none"/>
<path d="M406.2 1118.5L415.2 1135.5H397.3Z" fill="none"/>
<path d="M403.8 1126.0L412.7 1143.0H394.8Z" fill="none"/>
<path d="M485.0 1069.8L493.9 1086.8H476.1Z" fill="none"/>
<path d="M486.2 1079.8L495.2 1096.8H477.3Z" fill="none"/>
<path d="M477.5 1103.5L486.4 1120.5H468.6Z" fill="none"/>
<path d="M475.0 1116.0L483.9 1133.0H466.1Z" fill="none"/>
<path d="M472.5 1126.0L481.4 1143.0H463.6Z" fill="none"/>
<path d="M551.2 1088.5L560.2 1105.5H542.3Z" fill="none"/>
<path d="M545.0 1121.0L554.0 1138.0H536.0Z" fill="none"/>
<path d="M634.5 924.0L643.5 941.0H625.5Z" fill="none"/>
<path d="M615.0 958.5L624.0 975.5H606.0Z" fill="none"/>
<path d="M610.0 971.0L619.0 988.0H601.0Z" fill="none"/>
<path d="M598.8 984.8L607.7 1001.8H589.8Z" fill="none"/>
<path d="M595.0 1003.5L604.0 1020.5H586.0Z" fill="none"/>
<path d="M592.5 1019.8L601.5 1036.8H583.5Z" fill="none"/>
<path d="M577.5 1038.5L586.5 1055.5H568.5Z" fill="none"/>
<path d="M572.5 1051.0L581.5 1068.0H563.5Z" fill="none"/>
<path d="M568.8 1063.5L577.7 1080.5H559.8Z" fill="none"/>
<path d="M565.0 1076.0L574.0 1093.0H556.0Z" fill="none"/>
<path d="M560.0 1093.5L569.0 1110.5H551.0Z" fill="none"/>
<path d="M659.5 989.0L668.5 1006.0H650.5Z" fill="none"/>
<path d="M716.2 1010.5L725.2 1027.5H707.3Z" fill="none"/>
<path d="M643.8 1071.0L652.7 1088.0H634.8Z" fill="none"/>
<path d="M684.5 1073.5L693.5 1090.5H675.5Z" fill="none"/>
<path d="M627.5 1108.5L636.5 1125.5H618.5Z" fill="none"/>
<path d="M773.8 987.2L782.7 1004.2H764.8Z" fill="none"/>
<path d="M763.8 1017.2L772.7 1034.2H754.8Z" fill="none"/>
<path d="M762.5 1033.5L771.5 1050.5H753.5Z" fill="none"/>
<path d="M752.5 1056.0L761.5 1073.0H743.5Z" fill="none"/>
<path d="M743.8 1083.5L752.7 1100.5H734.8Z" fill="none"/>
<path d="M726.2 1104.8L735.2 1121.8H717.3Z" fill="none"/>
<path d="M343.8 1118.5L352.7 1135.5H334.8Z" fill="none"/>
<path d="M336.2 1131.0L345.2 1148.0H327.3Z" fill="none"/>
<path d="M332.5 1143.5L341.4 1160.5H323.6Z" fill="none"/>
<path d="M320.0 1158.5L328.9 1175.5H311.1Z" fill="none"/>
<path d="M311.2 1173.5L320.2 1190.5H302.3Z" fill="none"/>
<path d="M295.0 1208.5L303.9 1225.5H286.1Z" fill="none"/>
<path d="M287.5 1222.2L296.4 1239.2H278.6Z" fill="none"/>
<path d="M285.0 1236.0L293.9 1253.0H276.1Z" fill="none"/>
<path d="M275.0 1246.0L283.9 1263.0H266.1Z" fill="none"/>
<path d="M268.8 1256.0L277.7 1273.0H259.8Z" fill="none"/>
<path d="M263.8 1268.5L272.7 1285.5H254.8Z" fill="none"/>
<path d="M260.0 1301.0L268.9 1318.0H251.1Z" fill="none"/>
<path d="M410.0 1113.5L418.9 1130.5H401.1Z" fill="none"/>
<path d="M403.8 1123.5L412.7 1140.5H394.8Z" fill="none"/>
<path d="M393.8 1142.2L402.7 1159.2H384.8Z" fill="none"/>
<path d="M396.2 1153.5L405.2 1170.5H387.3Z" fill="none"/>
<path d="M390.0 1163.5L398.9 1180.5H381.1Z" fill="none"/>
<path d="M387.5 1172.2L396.4 1189.2H378.6Z" fill="none"/>
<path d="M385.5 1182.2L394.4 1199.2H376.6Z" fill="none"/>
<path d="M337.0 1228.0L345.9 1245.0H328.1Z" fill="none"/>
<path d="M321.2 1279.8L330.2 1296.8H312.3Z" fill="none"/>
<path d="M378.8 1278.5L387.7 1295.5H369.8Z" fill="none"/>
<path d="M396.2 1276.0L405.2 1293.0H387.3Z" fill="none"/>
<path d="M414.5 1288.0L423.4 1305.0H405.6Z" fill="none"/>
<path d="M435.0 1223.5L443.9 1240.5H426.1Z" fill="none"/>
<path d="M475.0 1116.0L483.9 1133.0H466.1Z" fill="none"/>
<path d="M468.8 1131.0L477.7 1148.0H459.8Z" fill="none"/>
<path d="M465.0 1143.5L473.9 1160.5H456.1Z" fill="none"/>
<path d="M458.8 1153.5L467.7 1170.5H449.8Z" fill="none"/>
<path d="M453.8 1162.2L462.7 1179.2H444.8Z" fill="none"/>
<path d="M545.0 1121.0L554.0 1138.0H536.0Z" fill="none"/>
<path d="M540.0 1138.5L549.0 1155.5H531.0Z" fill="none"/>
<path d="M530.0 1151.0L539.0 1168.0H521.0Z" fill="none"/>
<path d="M515.0 1177.2L524.0 1194.2H506.1Z" fill="none"/>
<path d="M507.5 1197.2L516.5 1214.2H498.6Z" fill="none"/>
<path d="M495.0 1206.0L503.9 1223.0H486.1Z" fill="none"/>
<path d="M491.2 1229.8L500.2 1246.8H482.3Z" fill="none"/>
<path d="M472.5 1239.8L481.4 1256.8H463.6Z" fill="none"/>
<path d="M473.8 1261.0L482.7 1278.0H464.8Z" fill="none"/>
<path d="M458.8 1281.0L467.7 1298.0H449.8Z" fill="none"/>
<path d="M453.8 1302.2L462.7 1319.2H444.8Z" fill="none"/>
<path d="M525.0 1277.2L534.0 1294.2H516.0Z" fill="none"/>
<path d="M556.2 1311.0L565.2 1328.0H547.3Z" fill="none"/>
<path d="M631.2 1111.0L640.2 1128.0H622.3Z" fill="none"/>
<path d="M620.0 1133.5L629.0 1150.5H611.0Z" fill="none"/>
<path d="M616.2 1146.0L625.2 1163.0H607.3Z" fill="none"/>
<path d="M622.5 1158.5L631.5 1175.5H613.5Z" fill="none"/>
<path d="M611.2 1158.5L620.2 1175.5H602.3Z" fill="none"/>
<path d="M596.2 1161.0L605.2 1178.0H587.3Z" fill="none"/>
<path d="M597.5 1174.8L606.5 1191.8H588.5Z" fill="none"/>
<path d="M567.5 1229.8L576.5 1246.8H558.5Z" fill="none"/>
<path d="M672.5 1121.0L681.5 1138.0H663.5Z" fill="none"/>
<path d="M670.0 1131.0L679.0 1148.0H661.0Z" fill="none"/>
<path d="M665.0 1143.5L674.0 1160.5H656.0Z" fill="none"/>
<path d="M660.0 1153.5L669.0 1170.5H651.0Z" fill="none"/>
<path d="M655.0 1161.0L664.0 1178.0H646.0Z" fill="none"/>
<path d="M646.2 1179.8L655.2 1196.8H637.3Z" fill="none"/>
<path d="M645.0 1188.5L654.0 1205.5H636.0Z" fill="none"/>
<path d="M641.2 1203.5L650.2 1220.5H632.3Z" fill="none"/>
<path d="M633.8 1212.2L642.7 1229.2H624.8Z" fill="none"/>
<path d="M670.0 1184.8L679.0 1201.8H661.0Z" fill="none"/>
<path d="M726.2 1111.0L735.2 1128.0H717.3Z" fill="none"/>
<path d="M730.0 1136.0L739.0 1153.0H721.0Z" fill="none"/>
<path d="M725.0 1148.5L734.0 1165.5H716.0Z" fill="none"/>
<path d="M720.0 1158.5L729.0 1175.5H711.0Z" fill="none"/>
<path d="M710.0 1171.0L719.0 1188.0H701.0Z" fill="none"/>
<path d="M712.5 1178.5L721.5 1195.5H703.5Z" fill="none"/>
<path d="M707.5 1191.0L716.5 1208.0H698.5Z" fill="none"/>
<path d="M703.8 1201.0L712.7 1218.0H694.8Z" fill="none"/>
<path d="M700.0 1211.0L709.0 1228.0H691.0Z" fill="none"/>
<path d="M696.2 1221.0L705.2 1238.0H687.3Z" fill="none"/>
<path d="M692.5 1231.0L701.5 1248.0H683.5Z" fill="none"/>
<path d="M687.5 1241.0L696.5 1258.0H678.5Z" fill="none"/>
<path d="M686.2 1256.0L695.2 1273.0H677.3Z" fill="none"/>
<path d="M690.0 1266.0L699.0 1283.0H681.0Z" fill="none"/>
<path d="M672.5 1271.0L681.5 1288.0H663.5Z" fill="none"/>
<path d="M692.5 1281.0L701.5 1298.0H683.5Z" fill="none"/>
<path d="M700.0 1282.2L709.0 1299.2H691.0Z" fill="none"/>
<path d="M712.5 1279.8L721.5 1296.8H703.5Z" fill="none"/>
<path d="M728.0 1273.5L737.0 1290.5H719.0Z" fill="none"/>
<path d="M751.2 1166.0L760.2 1183.0H742.3Z" fill="none"/>
<path d="M766.2 1139.0L775.2 1156.0H757.3Z" fill="none"/>
<path d="M763.8 1161.0L772.7 1178.0H754.8Z" fill="none"/>
<path d="M732.5 1216.0L741.5 1233.0H723.5Z" fill="none"/>
<path d="M763.0 1223.5L772.0 1240.5H754.0Z" fill="none"/>
<path d="M719.5 1244.0L728.5 1261.0H710.5Z" fill="none"/>
<path d="M745.0 1258.0L754.0 1275.0H736.0Z" fill="none"/>
<path d="M741.2 1290.5L750.2 1307.5H732.3Z" fill="none"/>
<path d="M619.5 1271.0L628.5 1288.0H610.5Z" fill="none"/>
<path d="M660.0 1311.0L669.0 1328.0H651.0Z" fill="none"/>
<path d="M225.0 1344.8L233.9 1361.8H216.1Z" fill="none"/>
<path d="M238.8 1317.2L247.7 1334.2H229.8Z" fill="none"/>
<path d="M243.8 1303.5L252.7 1320.5H234.8Z" fill="none"/>
<path d="M256.2 1293.5L265.2 1310.5H247.3Z" fill="none"/>
<path d="M300.0 1333.0L308.9 1350.0H291.1Z" fill="none"/>
<path d="M386.2 1328.5L395.2 1345.5H377.3Z" fill="none"/>
<path d="M437.5 1328.5L446.4 1345.5H428.6Z" fill="none"/>
<path d="M421.2 1366.0L430.2 1383.0H412.3Z" fill="none"/>
<path d="M417.5 1376.0L426.4 1393.0H408.6Z" fill="none"/>
<path d="M406.2 1397.2L415.2 1414.2H397.3Z" fill="none"/>
<path d="M482.5 1363.0L491.4 1380.0H473.6Z" fill="none"/>
<path d="M607.5 1326.0L616.5 1343.0H598.5Z" fill="none"/>
<path d="M658.8 1313.0L667.7 1330.0H649.8Z" fill="none"/>
<path d="M653.8 1341.0L662.7 1358.0H644.8Z" fill="none"/>
<path d="M641.2 1368.5L650.2 1385.5H632.3Z" fill="none"/>
<path d="M625.0 1391.0L634.0 1408.0H616.0Z" fill="none"/>
<path d="M623.8 1407.2L632.7 1424.2H614.8Z" fill="none"/>
<path d="M616.2 1428.5L625.2 1445.5H607.3Z" fill="none"/>
<path d="M611.2 1441.0L620.2 1458.0H602.3Z" fill="none"/>
<path d="M607.5 1461.0L616.5 1478.0H598.5Z" fill="none"/>
<path d="M603.8 1469.8L612.7 1486.8H594.8Z" fill="none"/>
<path d="M596.2 1487.2L605.2 1504.2H587.3Z" fill="none"/>
<path d="M560.8 1403.0L569.7 1420.0H551.8Z" fill="none"/>
<path d="M717.5 1323.5L726.5 1340.5H708.5Z" fill="none"/>
<path d="M683.8 1433.5L692.7 1450.5H674.8Z" fill="none"/>
<path d="M673.0 1472.2L682.0 1489.2H664.0Z" fill="none"/>
<path d="M650.0 1503.5L659.0 1520.5H641.0Z" fill="none"/>
</g>
<g fill="none" stroke="#000" stroke-width="3" stroke-linecap="round" stroke-linejoin="round">
<path d="M414.2 961.2C411.9 966.9 404.4 984.4 400.0 995.0C395.6 1005.6 392.2 1015.5 388.0 1025.0C383.8 1034.5 379.3 1043.2 375.0 1052.0C370.7 1060.8 366.7 1070.7 362.0 1078.0C357.3 1085.3 350.0 1089.8 347.0 1096.0C344.0 1102.2 346.0 1107.7 344.0 1115.0C342.0 1122.3 338.6 1132.1 335.0 1140.0C331.4 1147.9 327.1 1153.3 322.5 1162.5C317.9 1171.7 313.8 1182.5 307.5 1195.0C301.2 1207.5 292.9 1222.9 285.0 1237.5C277.1 1252.1 265.4 1272.1 260.0 1282.5C254.6 1292.9 258.3 1288.3 252.5 1300.0C246.7 1311.7 229.6 1343.8 225.0 1352.5"/>
<path d="M522.5 985.0C522.1 990.0 521.7 1006.7 520.0 1015.0C518.3 1023.3 516.2 1027.1 512.5 1035.0C508.8 1042.9 501.7 1054.2 497.5 1062.5C493.3 1070.8 490.8 1076.7 487.5 1085.0C484.2 1093.3 480.0 1106.7 477.5 1112.5C475.0 1118.3 475.4 1112.5 472.5 1120.0C469.6 1127.5 464.6 1145.0 460.0 1157.5C455.4 1170.0 449.6 1183.8 445.0 1195.0C440.4 1206.2 437.5 1214.2 432.5 1225.0C427.5 1235.8 420.4 1250.4 415.0 1260.0C409.6 1269.6 403.5 1275.0 400.0 1282.5C396.5 1290.0 396.1 1296.5 394.0 1305.0C391.9 1313.5 388.6 1329.0 387.5 1333.8"/>
<path d="M634.5 931.0C632.1 934.6 624.5 945.2 620.0 952.5C615.5 959.8 611.2 967.1 607.5 975.0C603.8 982.9 600.4 991.7 597.5 1000.0C594.6 1008.3 593.8 1015.8 590.0 1025.0C586.2 1034.2 580.0 1045.8 575.0 1055.0C570.0 1064.2 564.6 1070.4 560.0 1080.0C555.4 1089.6 550.4 1105.8 547.5 1112.5C544.6 1119.2 545.4 1114.6 542.5 1120.0C539.6 1125.4 535.0 1134.6 530.0 1145.0C525.0 1155.4 518.3 1170.8 512.5 1182.5C506.7 1194.2 500.8 1204.6 495.0 1215.0C489.2 1225.4 483.3 1234.2 477.5 1245.0C471.7 1255.8 465.4 1267.5 460.0 1280.0C454.6 1292.5 450.8 1305.8 445.0 1320.0C439.2 1334.2 431.5 1350.7 425.0 1365.0C418.5 1379.3 409.4 1399.2 406.2 1406.0"/>
<path d="M660.0 999.0C659.3 1004.6 657.7 1021.9 656.0 1032.5C654.3 1043.1 652.2 1052.9 650.0 1062.5C647.8 1072.1 645.8 1080.4 642.5 1090.0C639.2 1099.6 632.5 1115.0 630.0 1120.0C627.5 1125.0 630.8 1114.6 627.5 1120.0C624.2 1125.4 615.8 1141.2 610.0 1152.5C604.2 1163.8 598.3 1176.2 592.5 1187.5C586.7 1198.8 580.4 1210.4 575.0 1220.0C569.6 1229.6 566.7 1236.7 560.0 1245.0C553.3 1253.3 541.7 1261.7 535.0 1270.0C528.3 1278.3 524.6 1286.7 520.0 1295.0C515.4 1303.3 510.8 1313.8 507.5 1320.0C504.2 1326.2 504.2 1324.2 500.0 1332.5C495.8 1340.8 485.4 1363.8 482.5 1370.0"/>
<path d="M773.8 995.0C772.3 1000.0 768.1 1015.0 765.0 1025.0C761.9 1035.0 758.8 1045.4 755.0 1055.0C751.2 1064.6 746.2 1074.2 742.5 1082.5C738.8 1090.8 735.0 1098.8 732.5 1105.0C730.0 1111.2 729.6 1113.3 727.5 1120.0C725.4 1126.7 723.3 1135.8 720.0 1145.0C716.7 1154.2 712.1 1164.6 707.5 1175.0C702.9 1185.4 697.1 1195.8 692.5 1207.5C687.9 1219.2 683.8 1232.1 680.0 1245.0C676.2 1257.9 672.1 1275.8 670.0 1285.0C667.9 1294.2 670.8 1289.2 667.5 1300.0C664.2 1310.8 655.8 1334.6 650.0 1350.0C644.2 1365.4 638.3 1377.5 632.5 1392.5C626.7 1407.5 620.6 1422.4 615.0 1440.0C609.4 1457.6 601.5 1488.3 598.8 1498.0"/>
</g>
<g stroke="#1c1c1c" stroke-width="2.8" stroke-linejoin="round">
<path d="M540.5 1228.5L549.5 1245.5H531.5Z" fill="#ff0808"/>
<path d="M591.2 1189.8L600.2 1206.8H582.3Z" fill="#ff0808"/>
<path d="M555.5 1311.0L564.5 1328.0H546.5Z" fill="#ff0808"/>
<path d="M575.0 1400.5L584.0 1417.5H566.0Z" fill="#ff0808"/>
</g>
</g>
<text class="m b" filter="url(#hl)" x="763" y="1103" font-size="34" textLength="135" lengthAdjust="spacing">Casaglia</text>
<text class="m b" filter="url(#hl)" x="181" y="1391" font-size="27.5">C1</text>
<text class="m b" filter="url(#hl)" x="349" y="1374.5" font-size="27.5">C2</text>
<text class="m b" filter="url(#hl)" x="370" y="1455.5" font-size="27.5">C3</text>
<text class="m b" filter="url(#hl)" x="442" y="1412.5" font-size="27.5">C4</text>
<text class="m b" filter="url(#hl)" x="558" y="1537.5" font-size="27.5">C5</text>
<g stroke="#000" stroke-width="1.6">
<path d="M144 819V830M144 1541V1553"/>
<path d="M428 819V830M428 1541V1553"/>
<path d="M712 819V830M712 1541V1553"/>
<path d="M996 819V830M996 1541V1553"/>
<path d="M2 840H14M1062 840H1074"/>
<path d="M2 1242H14M1062 1242H1074"/>
</g>
<text class="m t" x="144" y="856" font-size="22" text-anchor="middle">11.4</text>
<text class="m t" x="428" y="856" font-size="22" text-anchor="middle">11.5</text>
<text class="m t" x="712" y="856" font-size="22" text-anchor="middle">11.6</text>
<text class="m t" x="996" y="856" font-size="22" text-anchor="middle">11.7</text>
<text class="m t" x="1053.5" y="848" font-size="22" text-anchor="end">45</text>
<text class="m t" x="1053.5" y="1250" font-size="22" text-anchor="end">44.9</text>
<rect x="31.4" y="1517.7" width="143" height="9.6" fill="#fff" stroke="#000" stroke-width="1.4"/><rect x="30.7" y="1517" width="73.8" height="11" fill="#000"/>
<text class="m t" filter="url(#hl)" x="30.7" y="1496.7" font-size="21.5" text-anchor="middle">0</text><text class="m t" filter="url(#hl)" x="103.5" y="1496.7" font-size="21.5" text-anchor="middle">2</text><text class="m t" filter="url(#hl)" x="169" y="1496.7" font-size="21.5">4 km</text>
<rect x="1.5" y="818.5" width="1072" height="735" fill="none" stroke="#000" stroke-width="3"/>
<circle cx="38" cy="864" r="29.6" fill="#fff" stroke="#000" stroke-width="1.2"/><text class="p" x="38" y="881" font-size="49" text-anchor="middle">b</text>
</g>
<rect x="1103.5" y="813" width="41" height="748" fill="url(#cb)" stroke="#444" stroke-width="1.2"/>
<g stroke="#333" stroke-width="1.2">
<path d="M1139 906H1144.5"/>
<path d="M1139 1012.5H1144.5"/>
<path d="M1139 1120H1144.5"/>
<path d="M1139 1228H1144.5"/>
<path d="M1139 1336H1144.5"/>
<path d="M1139 1444H1144.5"/>
<path d="M1139 1552H1144.5"/>
</g>
<text class="c" x="1153" y="914" font-size="23">-120</text>
<text class="c" x="1153" y="1020.5" font-size="23">-140</text>
<text class="c" x="1153" y="1128" font-size="23">-160</text>
<text class="c" x="1153" y="1236" font-size="23">-180</text>
<text class="c" x="1153" y="1344" font-size="23">-200</text>
<text class="c" x="1153" y="1452" font-size="23">-220</text>
<text class="c" x="1153" y="1560" font-size="23">-240</text>
</svg></body></html>
